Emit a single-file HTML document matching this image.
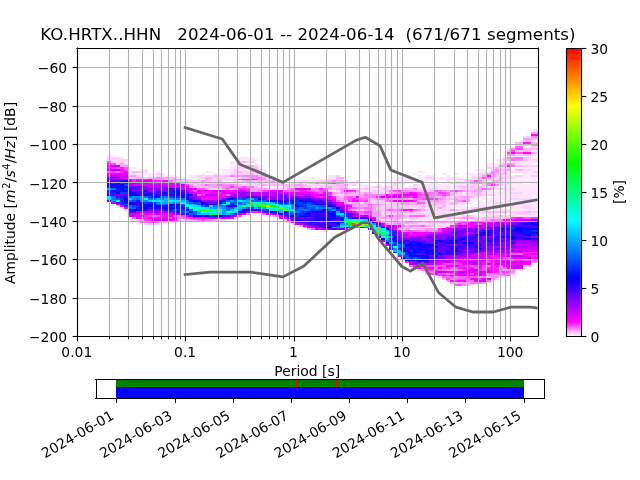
<!DOCTYPE html>
<html><head><meta charset="utf-8"><title>PPSD</title>
<style>html,body{margin:0;padding:0;background:#fff;overflow:hidden}svg{display:block}text{white-space:pre}</style>
</head><body>
<svg width="640" height="480" viewBox="0 0 460.8 345.6">
<defs>
<style type="text/css">*{stroke-linejoin: round; stroke-linecap: butt}</style>
</defs>
<g id="figure_1">
<g id="patch_1">
<path d="M 0 345.6 
L 460.8 345.6 
L 460.8 0 
L 0 0 
z
" style="fill: #ffffff"/>
</g>
<g id="axes_1">
<g id="patch_2">
<path d="M 55.296 241.92 
L 387.072 241.92 
L 387.072 34.56 
L 55.296 34.56 
z
" style="fill: #ffffff"/>
</g>
<g id="heat" shape-rendering="crispEdges">
<path fill="#7900ff" d="M77.31 143.77h2.94v1.38h-2.94zM80.25 128.56h2.94v1.38h-2.94zM86.12 139.62h2.94v1.38h-2.94zM89.05 128.56h2.94v1.38h-2.94zM106.67 135.48h2.94v1.38h-2.94zM109.60 150.68h2.94v1.38h-2.94zM112.54 136.86h2.94v1.38h-2.94zM133.09 138.24h2.94v1.38h-2.94zM168.31 141.00h2.94v1.38h-2.94zM174.18 138.24h2.94v1.38h-2.94zM188.86 141.00h2.94v1.38h-2.94zM206.48 156.21h2.94v1.38h-2.94zM218.22 160.36h2.94v1.38h-2.94zM229.96 163.12h2.94v1.38h-2.94zM229.96 158.98h2.94v1.38h-2.94zM288.67 171.42h2.94v1.38h-2.94zM300.41 171.42h2.94v2.76h-2.94zM306.28 174.18h2.94v1.38h-2.94zM306.28 170.04h2.94v1.38h-2.94zM312.15 170.04h2.94v1.38h-2.94zM315.09 183.86h2.94v1.38h-2.94zM315.09 170.04h2.94v1.38h-2.94zM318.02 185.24h2.94v1.38h-2.94zM323.90 175.56h2.94v1.38h-2.94zM326.83 168.65h2.94v1.38h-2.94zM329.77 165.89h2.94v2.76h-2.94zM332.70 165.89h2.94v1.38h-2.94zM335.64 181.09h2.94v1.38h-2.94zM344.44 165.89h2.94v1.38h-2.94zM347.38 175.56h2.94v1.38h-2.94zM347.38 170.04h2.94v1.38h-2.94zM359.12 175.56h2.94v1.38h-2.94zM359.12 167.27h2.94v1.38h-2.94zM364.99 175.56h2.94v1.38h-2.94zM364.99 172.80h2.94v1.38h-2.94zM367.93 172.80h2.94v1.38h-2.94zM382.61 172.80h4.47v1.38h-4.47z"/>
<path fill="#00dcff" d="M77.31 142.39h2.94v1.38h-2.94zM171.25 147.92h2.94v1.38h-2.94zM247.57 161.74h2.94v1.38h-2.94z"/>
<path fill="#00e8ff" d="M77.31 141.00h2.94v1.38h-2.94zM124.28 143.77h2.94v1.38h-2.94zM150.70 152.06h2.94v1.38h-2.94zM153.64 152.06h2.94v1.38h-2.94zM156.57 152.06h2.94v1.38h-2.94zM265.19 158.98h2.94v1.38h-2.94z"/>
<path fill="#0011ff" d="M77.31 139.62h2.94v1.38h-2.94zM86.12 135.48h2.94v2.76h-2.94zM89.05 145.15h2.94v1.38h-2.94zM89.05 136.86h2.94v1.38h-2.94zM91.99 150.68h2.94v1.38h-2.94zM100.80 149.30h2.94v1.38h-2.94zM100.80 145.15h2.94v1.38h-2.94zM121.35 146.53h2.94v1.38h-2.94zM124.28 141.00h2.94v1.38h-2.94zM127.22 149.30h2.94v1.38h-2.94zM133.09 142.39h2.94v1.38h-2.94zM133.09 139.62h2.94v1.38h-2.94zM144.83 146.53h2.94v1.38h-2.94zM218.22 153.45h2.94v1.38h-2.94zM221.15 157.59h2.94v1.38h-2.94zM227.02 157.59h2.94v1.38h-2.94zM229.96 152.06h2.94v1.38h-2.94zM244.64 156.21h2.94v1.38h-2.94zM273.99 163.12h2.94v1.38h-2.94zM276.93 164.51h2.94v1.38h-2.94zM285.73 174.18h2.94v1.38h-2.94zM294.54 182.48h2.94v1.38h-2.94zM297.48 183.86h2.94v1.38h-2.94zM297.48 174.18h2.94v2.76h-2.94zM364.99 164.51h2.94v1.38h-2.94z"/>
<path fill="#4f00ff" d="M77.31 138.24h2.94v1.38h-2.94zM80.25 129.95h2.94v1.38h-2.94zM83.18 141.00h2.94v1.38h-2.94zM86.12 146.53h2.94v1.38h-2.94zM89.05 131.33h2.94v1.38h-2.94zM100.80 138.24h2.94v2.76h-2.94zM130.15 136.86h2.94v1.38h-2.94zM147.76 145.15h2.94v1.38h-2.94zM180.06 150.68h2.94v1.38h-2.94zM180.06 141.00h2.94v1.38h-2.94zM185.93 150.68h2.94v1.38h-2.94zM212.35 156.21h2.94v1.38h-2.94zM212.35 142.39h2.94v1.38h-2.94zM224.09 156.21h2.94v1.38h-2.94zM227.02 160.36h2.94v1.38h-2.94zM232.89 161.74h2.94v1.38h-2.94zM232.89 158.98h2.94v1.38h-2.94zM235.83 160.36h2.94v1.38h-2.94zM238.77 160.36h2.94v1.38h-2.94zM238.77 157.59h2.94v1.38h-2.94zM241.70 156.21h2.94v1.38h-2.94zM271.06 160.36h2.94v1.38h-2.94zM282.80 167.27h2.94v1.38h-2.94zM303.35 182.48h2.94v1.38h-2.94zM303.35 179.71h2.94v1.38h-2.94zM303.35 174.18h2.94v1.38h-2.94zM312.15 178.33h2.94v1.38h-2.94zM312.15 175.56h2.94v1.38h-2.94zM315.09 185.24h2.94v1.38h-2.94zM320.96 172.80h2.94v1.38h-2.94zM326.83 182.48h2.94v1.38h-2.94zM329.77 178.33h2.94v1.38h-2.94zM329.77 174.18h2.94v1.38h-2.94zM332.70 178.33h2.94v1.38h-2.94zM341.51 179.71h2.94v1.38h-2.94zM344.44 176.95h2.94v1.38h-2.94zM344.44 170.04h2.94v1.38h-2.94zM347.38 165.89h2.94v1.38h-2.94zM353.25 165.89h2.94v1.38h-2.94zM356.19 164.51h2.94v1.38h-2.94zM359.12 168.65h2.94v1.38h-2.94zM362.06 165.89h2.94v1.38h-2.94zM362.06 163.12h2.94v1.38h-2.94zM370.86 168.65h5.87v1.38h-5.87zM376.73 161.74h5.87v1.38h-5.87z"/>
<path fill="#0023ff" d="M77.31 136.86h2.94v1.38h-2.94zM86.12 143.77h2.94v1.38h-2.94zM121.35 150.68h2.94v1.38h-2.94zM159.51 143.77h2.94v1.38h-2.94zM168.31 142.39h2.94v1.38h-2.94zM200.60 145.15h2.94v1.38h-2.94zM203.54 145.15h2.94v1.38h-2.94zM209.41 143.77h2.94v1.38h-2.94zM215.28 153.45h2.94v1.38h-2.94zM215.28 147.92h2.94v1.38h-2.94zM229.96 150.68h2.94v1.38h-2.94zM285.73 178.33h2.94v1.38h-2.94zM291.60 182.48h2.94v1.38h-2.94zM291.60 176.95h2.94v1.38h-2.94zM367.93 164.51h2.94v1.38h-2.94z"/>
<path fill="#00a9ff" d="M77.31 135.48h2.94v1.38h-2.94zM115.47 145.15h2.94v1.38h-2.94zM136.02 146.53h2.94v1.38h-2.94zM268.12 165.89h2.94v1.38h-2.94zM288.67 182.48h2.94v1.38h-2.94z"/>
<path fill="#2c00ff" d="M77.31 132.71h2.94v2.76h-2.94zM86.12 129.95h2.94v1.38h-2.94zM94.93 145.15h2.94v1.38h-2.94zM97.86 146.53h2.94v1.38h-2.94zM106.67 138.24h2.94v1.38h-2.94zM115.47 139.62h2.94v1.38h-2.94zM121.35 139.62h2.94v1.38h-2.94zM133.09 141.00h2.94v1.38h-2.94zM136.02 139.62h2.94v1.38h-2.94zM200.60 143.77h2.94v1.38h-2.94zM206.48 154.83h2.94v1.38h-2.94zM212.35 157.59h2.94v1.38h-2.94zM215.28 157.59h2.94v1.38h-2.94zM218.22 157.59h2.94v1.38h-2.94zM227.02 154.83h2.94v2.76h-2.94zM229.96 154.83h2.94v2.76h-2.94zM232.89 163.12h2.94v1.38h-2.94zM235.83 156.21h2.94v1.38h-2.94zM256.38 156.21h2.94v1.38h-2.94zM259.31 156.21h2.94v1.38h-2.94zM282.80 170.04h2.94v1.38h-2.94zM288.67 174.18h2.94v1.38h-2.94zM306.28 182.48h2.94v1.38h-2.94zM318.02 172.80h2.94v1.38h-2.94zM323.90 178.33h2.94v1.38h-2.94zM332.70 175.56h2.94v1.38h-2.94zM338.57 176.95h2.94v1.38h-2.94zM344.44 168.65h2.94v1.38h-2.94zM350.32 172.80h2.94v1.38h-2.94zM353.25 171.42h2.94v2.76h-2.94zM353.25 167.27h2.94v1.38h-2.94zM359.12 170.04h2.94v1.38h-2.94zM359.12 165.89h2.94v1.38h-2.94zM359.12 163.12h2.94v1.38h-2.94zM376.73 160.36h5.87v1.38h-5.87z"/>
<path fill="#0300ff" d="M77.31 131.33h2.94v1.38h-2.94zM86.12 132.71h2.94v1.38h-2.94zM89.05 143.77h2.94v1.38h-2.94zM94.93 150.68h2.94v1.38h-2.94zM103.73 149.30h2.94v1.38h-2.94zM197.67 152.06h2.94v1.38h-2.94zM227.02 152.06h2.94v1.38h-2.94zM232.89 157.59h2.94v1.38h-2.94zM235.83 163.12h2.94v1.38h-2.94zM235.83 153.45h2.94v1.38h-2.94zM235.83 147.92h2.94v1.38h-2.94zM238.77 154.83h2.94v1.38h-2.94zM265.19 157.59h2.94v1.38h-2.94zM268.12 158.98h2.94v1.38h-2.94zM294.54 186.62h2.94v1.38h-2.94zM294.54 174.18h2.94v1.38h-2.94zM300.41 175.56h2.94v1.38h-2.94zM303.35 183.86h2.94v1.38h-2.94zM335.64 174.18h2.94v1.38h-2.94zM367.93 170.04h2.94v1.38h-2.94zM382.61 160.36h4.47v1.38h-4.47z"/>
<path fill="#6000ff" d="M77.31 129.95h2.94v1.38h-2.94zM83.18 145.15h2.94v1.38h-2.94zM89.05 147.92h2.94v1.38h-2.94zM89.05 139.62h2.94v1.38h-2.94zM94.93 152.06h2.94v1.38h-2.94zM94.93 136.86h2.94v1.38h-2.94zM97.86 134.09h2.94v1.38h-2.94zM100.80 136.86h2.94v1.38h-2.94zM100.80 134.09h2.94v1.38h-2.94zM112.54 138.24h2.94v1.38h-2.94zM118.41 135.48h2.94v1.38h-2.94zM215.28 156.21h2.94v1.38h-2.94zM235.83 164.51h2.94v1.38h-2.94zM235.83 145.15h2.94v1.38h-2.94zM241.70 164.51h2.94v1.38h-2.94zM247.57 152.06h2.94v1.38h-2.94zM250.51 154.83h2.94v1.38h-2.94zM265.19 164.51h2.94v1.38h-2.94zM285.73 171.42h2.94v1.38h-2.94zM300.41 182.48h2.94v1.38h-2.94zM303.35 172.80h2.94v1.38h-2.94zM306.28 188.01h2.94v1.38h-2.94zM309.22 183.86h2.94v1.38h-2.94zM309.22 171.42h2.94v1.38h-2.94zM312.15 185.24h2.94v1.38h-2.94zM315.09 176.95h2.94v1.38h-2.94zM318.02 179.71h2.94v1.38h-2.94zM320.96 171.42h2.94v1.38h-2.94zM323.90 182.48h2.94v1.38h-2.94zM329.77 170.04h2.94v1.38h-2.94zM332.70 172.80h2.94v1.38h-2.94zM335.64 176.95h2.94v1.38h-2.94zM338.57 172.80h2.94v1.38h-2.94zM344.44 174.18h2.94v1.38h-2.94zM347.38 172.80h2.94v2.76h-2.94zM356.19 174.18h2.94v2.76h-2.94zM362.06 168.65h2.94v1.38h-2.94zM364.99 167.27h2.94v1.38h-2.94zM364.99 161.74h2.94v2.76h-2.94z"/>
<path fill="#6800ff" d="M77.31 128.56h2.94v1.38h-2.94zM83.18 128.56h2.94v1.38h-2.94zM94.93 135.48h2.94v1.38h-2.94zM109.60 138.24h2.94v1.38h-2.94zM124.28 152.06h2.94v1.38h-2.94zM168.31 153.45h2.94v1.38h-2.94zM188.86 142.39h2.94v1.38h-2.94zM200.60 141.00h2.94v1.38h-2.94zM209.41 156.21h2.94v2.76h-2.94zM215.28 158.98h2.94v1.38h-2.94zM218.22 158.98h2.94v1.38h-2.94zM218.22 156.21h2.94v1.38h-2.94zM227.02 161.74h2.94v1.38h-2.94zM227.02 143.77h2.94v1.38h-2.94zM238.77 146.53h2.94v1.38h-2.94zM244.64 164.51h2.94v1.38h-2.94zM294.54 172.80h2.94v1.38h-2.94zM315.09 179.71h2.94v1.38h-2.94zM318.02 181.09h2.94v1.38h-2.94zM318.02 176.95h2.94v1.38h-2.94zM320.96 178.33h2.94v1.38h-2.94zM320.96 175.56h2.94v1.38h-2.94zM320.96 170.04h2.94v1.38h-2.94zM326.83 170.04h2.94v1.38h-2.94zM332.70 181.09h2.94v1.38h-2.94zM335.64 165.89h2.94v1.38h-2.94zM338.57 178.33h2.94v1.38h-2.94zM338.57 168.65h2.94v1.38h-2.94zM341.51 171.42h2.94v1.38h-2.94zM341.51 165.89h2.94v1.38h-2.94zM344.44 179.71h2.94v1.38h-2.94zM344.44 171.42h2.94v1.38h-2.94zM347.38 176.95h2.94v2.76h-2.94zM350.32 174.18h2.94v1.38h-2.94zM356.19 168.65h2.94v1.38h-2.94zM359.12 178.33h2.94v1.38h-2.94zM359.12 171.42h2.94v1.38h-2.94zM364.99 171.42h2.94v1.38h-2.94zM367.93 163.12h2.94v1.38h-2.94z"/>
<path fill="#7000ff" d="M77.31 127.18h2.94v1.38h-2.94zM80.25 139.62h2.94v1.38h-2.94zM86.12 131.33h2.94v1.38h-2.94zM91.99 152.06h2.94v1.38h-2.94zM94.93 134.09h2.94v1.38h-2.94zM97.86 135.48h2.94v2.76h-2.94zM109.60 135.48h2.94v1.38h-2.94zM115.47 136.86h2.94v1.38h-2.94zM118.41 136.86h2.94v1.38h-2.94zM150.70 145.15h2.94v1.38h-2.94zM185.93 141.00h2.94v1.38h-2.94zM191.80 152.06h2.94v1.38h-2.94zM203.54 141.00h2.94v2.76h-2.94zM209.41 142.39h2.94v1.38h-2.94zM212.35 141.00h2.94v1.38h-2.94zM221.15 156.21h2.94v1.38h-2.94zM224.09 142.39h2.94v1.38h-2.94zM232.89 143.77h2.94v1.38h-2.94zM244.64 150.68h2.94v1.38h-2.94zM271.06 170.04h2.94v1.38h-2.94zM282.80 165.89h2.94v1.38h-2.94zM285.73 170.04h2.94v1.38h-2.94zM309.22 186.62h2.94v1.38h-2.94zM309.22 172.80h2.94v1.38h-2.94zM329.77 175.56h2.94v1.38h-2.94zM329.77 168.65h2.94v1.38h-2.94zM332.70 167.27h2.94v1.38h-2.94zM335.64 178.33h2.94v1.38h-2.94zM341.51 181.09h2.94v1.38h-2.94zM344.44 172.80h2.94v1.38h-2.94zM350.32 178.33h2.94v1.38h-2.94zM350.32 170.04h2.94v1.38h-2.94zM353.25 178.33h2.94v1.38h-2.94zM353.25 168.65h2.94v1.38h-2.94zM356.19 178.33h2.94v1.38h-2.94z"/>
<path fill="#cd00ff" d="M77.31 125.80h2.94v1.38h-2.94zM86.12 125.80h2.94v1.38h-2.94zM91.99 153.45h2.94v1.38h-2.94zM94.93 154.83h2.94v1.38h-2.94zM94.93 132.71h2.94v1.38h-2.94zM97.86 131.33h2.94v1.38h-2.94zM100.80 152.06h2.94v1.38h-2.94zM106.67 132.71h2.94v1.38h-2.94zM112.54 153.45h2.94v1.38h-2.94zM112.54 132.71h2.94v1.38h-2.94zM121.35 134.09h2.94v1.38h-2.94zM124.28 132.71h2.94v1.38h-2.94zM141.89 141.00h2.94v1.38h-2.94zM150.70 139.62h2.94v1.38h-2.94zM156.57 136.86h2.94v1.38h-2.94zM159.51 136.86h2.94v1.38h-2.94zM165.38 138.24h2.94v1.38h-2.94zM182.99 139.62h2.94v1.38h-2.94zM185.93 138.24h2.94v1.38h-2.94zM191.80 153.45h2.94v1.38h-2.94zM194.73 139.62h2.94v1.38h-2.94zM200.60 154.83h2.94v1.38h-2.94zM221.15 139.62h2.94v1.38h-2.94zM224.09 163.12h2.94v1.38h-2.94zM224.09 141.00h2.94v1.38h-2.94zM259.31 154.83h2.94v1.38h-2.94zM268.12 157.59h2.94v1.38h-2.94zM279.86 141.00h2.94v1.38h-2.94zM285.73 141.00h2.94v1.38h-2.94zM291.60 168.65h2.94v2.76h-2.94zM320.96 165.89h2.94v1.38h-2.94zM326.83 190.77h2.94v1.38h-2.94zM329.77 161.74h2.94v1.38h-2.94zM332.70 188.01h2.94v1.38h-2.94zM338.57 158.98h2.94v1.38h-2.94zM341.51 193.54h2.94v1.38h-2.94zM344.44 186.62h2.94v1.38h-2.94zM350.32 181.09h2.94v1.38h-2.94zM364.99 189.39h2.94v2.76h-2.94zM364.99 158.98h2.94v1.38h-2.94zM370.86 192.15h5.87v1.38h-5.87zM376.73 157.59h5.87v1.38h-5.87zM382.61 176.95h4.47v2.76h-4.47z"/>
<path fill="#ef00ff" d="M77.31 124.42h2.94v1.38h-2.94zM80.25 124.42h2.94v1.38h-2.94zM86.12 147.92h2.94v1.38h-2.94zM89.05 127.18h2.94v1.38h-2.94zM89.05 123.03h2.94v1.38h-2.94zM97.86 129.95h2.94v1.38h-2.94zM106.67 128.56h2.94v2.76h-2.94zM109.60 153.45h2.94v1.38h-2.94zM115.47 153.45h2.94v1.38h-2.94zM118.41 156.21h2.94v2.76h-2.94zM118.41 153.45h2.94v1.38h-2.94zM121.35 154.83h2.94v1.38h-2.94zM138.96 156.21h2.94v1.38h-2.94zM144.83 141.00h2.94v1.38h-2.94zM147.76 156.21h2.94v1.38h-2.94zM147.76 141.00h2.94v1.38h-2.94zM153.64 142.39h2.94v1.38h-2.94zM156.57 141.00h2.94v1.38h-2.94zM168.31 138.24h2.94v1.38h-2.94zM200.60 156.21h2.94v1.38h-2.94zM215.28 139.62h2.94v1.38h-2.94zM215.28 135.48h2.94v1.38h-2.94zM221.15 138.24h2.94v1.38h-2.94zM232.89 141.00h2.94v1.38h-2.94zM244.64 145.15h2.94v1.38h-2.94zM282.80 164.51h2.94v1.38h-2.94zM285.73 165.89h2.94v1.38h-2.94zM288.67 167.27h2.94v1.38h-2.94zM288.67 139.62h2.94v1.38h-2.94zM294.54 143.77h2.94v1.38h-2.94zM300.41 190.77h2.94v1.38h-2.94zM300.41 168.65h2.94v1.38h-2.94zM309.22 167.27h2.94v1.38h-2.94zM315.09 192.15h2.94v1.38h-2.94zM315.09 189.39h2.94v1.38h-2.94zM318.02 164.51h2.94v1.38h-2.94zM323.90 197.68h2.94v1.38h-2.94zM323.90 190.77h2.94v1.38h-2.94zM323.90 188.01h2.94v1.38h-2.94zM329.77 196.30h2.94v1.38h-2.94zM338.57 163.12h2.94v1.38h-2.94zM341.51 197.68h2.94v1.38h-2.94zM350.32 183.86h2.94v1.38h-2.94zM356.19 186.62h2.94v1.38h-2.94zM359.12 182.48h2.94v2.76h-2.94zM362.06 157.59h2.94v1.38h-2.94zM367.93 192.15h2.94v1.38h-2.94zM367.93 188.01h2.94v1.38h-2.94zM367.93 109.21h2.94v1.38h-2.94zM376.73 188.01h5.87v1.38h-5.87zM382.61 182.48h4.47v1.38h-4.47z"/>
<path fill="#ff51ff" d="M77.31 123.03h2.94v1.38h-2.94zM77.31 116.12h2.94v1.38h-2.94zM80.25 117.50h2.94v1.38h-2.94zM89.05 120.27h2.94v1.38h-2.94zM94.93 156.21h2.94v1.38h-2.94zM100.80 158.98h2.94v1.38h-2.94zM112.54 154.83h2.94v1.38h-2.94zM138.96 136.86h2.94v1.38h-2.94zM141.89 135.48h2.94v1.38h-2.94zM144.83 157.59h2.94v1.38h-2.94zM144.83 135.48h2.94v1.38h-2.94zM162.44 139.62h2.94v1.38h-2.94zM171.25 154.83h2.94v1.38h-2.94zM171.25 128.56h2.94v1.38h-2.94zM174.18 134.09h2.94v1.38h-2.94zM203.54 136.86h2.94v1.38h-2.94zM206.48 136.86h2.94v1.38h-2.94zM212.35 136.86h2.94v1.38h-2.94zM221.15 136.86h2.94v1.38h-2.94zM224.09 164.51h2.94v1.38h-2.94zM224.09 136.86h2.94v1.38h-2.94zM229.96 136.86h2.94v2.76h-2.94zM232.89 135.48h2.94v1.38h-2.94zM235.83 131.33h2.94v1.38h-2.94zM241.70 143.77h2.94v1.38h-2.94zM250.51 146.53h2.94v1.38h-2.94zM250.51 141.00h2.94v2.76h-2.94zM253.44 149.30h2.94v1.38h-2.94zM259.31 143.77h2.94v1.38h-2.94zM262.25 153.45h2.94v1.38h-2.94zM265.19 153.45h2.94v1.38h-2.94zM265.19 146.53h2.94v1.38h-2.94zM279.86 150.68h2.94v1.38h-2.94zM279.86 143.77h2.94v1.38h-2.94zM282.80 136.86h2.94v1.38h-2.94zM291.60 138.24h2.94v1.38h-2.94zM294.54 165.89h2.94v1.38h-2.94zM297.48 150.68h2.94v1.38h-2.94zM300.41 145.15h2.94v1.38h-2.94zM300.41 141.00h2.94v1.38h-2.94zM300.41 138.24h2.94v1.38h-2.94zM303.35 192.15h2.94v1.38h-2.94zM303.35 142.39h2.94v1.38h-2.94zM303.35 139.62h2.94v1.38h-2.94zM309.22 190.77h2.94v1.38h-2.94zM312.15 190.77h2.94v2.76h-2.94zM312.15 136.86h2.94v1.38h-2.94zM315.09 193.54h2.94v1.38h-2.94zM315.09 190.77h2.94v1.38h-2.94zM318.02 196.30h2.94v1.38h-2.94zM318.02 190.77h2.94v1.38h-2.94zM318.02 139.62h2.94v1.38h-2.94zM320.96 189.39h2.94v1.38h-2.94zM323.90 199.07h2.94v1.38h-2.94zM323.90 196.30h2.94v1.38h-2.94zM323.90 192.15h2.94v1.38h-2.94zM323.90 163.12h2.94v1.38h-2.94zM326.83 204.60h2.94v1.38h-2.94zM326.83 192.15h2.94v1.38h-2.94zM326.83 160.36h2.94v1.38h-2.94zM329.77 204.60h2.94v1.38h-2.94zM329.77 200.45h2.94v1.38h-2.94zM329.77 158.98h2.94v1.38h-2.94zM332.70 200.45h2.94v1.38h-2.94zM332.70 143.77h2.94v1.38h-2.94zM335.64 200.45h2.94v1.38h-2.94zM338.57 199.07h2.94v1.38h-2.94zM341.51 192.15h2.94v1.38h-2.94zM341.51 129.95h2.94v1.38h-2.94zM347.38 193.54h2.94v1.38h-2.94zM347.38 190.77h2.94v1.38h-2.94zM347.38 127.18h2.94v1.38h-2.94zM359.12 194.92h2.94v1.38h-2.94zM359.12 190.77h2.94v1.38h-2.94zM362.06 196.30h2.94v1.38h-2.94zM362.06 192.15h2.94v1.38h-2.94zM364.99 197.68h2.94v1.38h-2.94zM364.99 185.24h2.94v1.38h-2.94zM367.93 186.62h2.94v1.38h-2.94zM367.93 182.48h2.94v1.38h-2.94zM367.93 107.83h2.94v1.38h-2.94zM370.86 109.21h5.87v1.38h-5.87zM370.86 106.44h5.87v1.38h-5.87zM376.73 186.62h5.87v1.38h-5.87zM376.73 156.21h5.87v1.38h-5.87zM382.61 186.62h4.47v1.38h-4.47z"/>
<path fill="#a400ff" d="M77.31 121.65h2.94v1.38h-2.94zM80.25 125.80h2.94v2.76h-2.94zM91.99 132.71h2.94v1.38h-2.94zM103.73 134.09h2.94v1.38h-2.94zM118.41 152.06h2.94v1.38h-2.94zM118.41 134.09h2.94v1.38h-2.94zM127.22 132.71h2.94v1.38h-2.94zM138.96 141.00h2.94v1.38h-2.94zM153.64 143.77h2.94v1.38h-2.94zM171.25 153.45h2.94v1.38h-2.94zM171.25 138.24h2.94v1.38h-2.94zM206.48 141.00h2.94v1.38h-2.94zM218.22 141.00h2.94v1.38h-2.94zM221.15 141.00h2.94v1.38h-2.94zM241.70 147.92h2.94v1.38h-2.94zM244.64 147.92h2.94v1.38h-2.94zM247.57 147.92h2.94v1.38h-2.94zM285.73 168.65h2.94v1.38h-2.94zM303.35 189.39h2.94v1.38h-2.94zM309.22 168.65h2.94v1.38h-2.94zM315.09 186.62h2.94v1.38h-2.94zM320.96 183.86h2.94v2.76h-2.94zM323.90 165.89h2.94v1.38h-2.94zM329.77 183.86h2.94v1.38h-2.94zM335.64 179.71h2.94v1.38h-2.94zM370.86 172.80h5.87v1.38h-5.87zM382.61 157.59h4.47v1.38h-4.47z"/>
<path fill="#ff06ff" d="M77.31 120.27h2.94v1.38h-2.94zM100.80 156.21h2.94v1.38h-2.94zM106.67 153.45h2.94v1.38h-2.94zM109.60 129.95h2.94v1.38h-2.94zM112.54 131.33h2.94v1.38h-2.94zM115.47 156.21h2.94v1.38h-2.94zM115.47 129.95h2.94v1.38h-2.94zM118.41 154.83h2.94v1.38h-2.94zM124.28 156.21h2.94v1.38h-2.94zM127.22 131.33h2.94v1.38h-2.94zM136.02 136.86h2.94v1.38h-2.94zM141.89 156.21h2.94v1.38h-2.94zM144.83 136.86h2.94v1.38h-2.94zM147.76 142.39h2.94v1.38h-2.94zM150.70 142.39h2.94v1.38h-2.94zM150.70 136.86h2.94v1.38h-2.94zM153.64 138.24h2.94v1.38h-2.94zM165.38 156.21h2.94v1.38h-2.94zM165.38 136.86h2.94v1.38h-2.94zM177.12 136.86h2.94v1.38h-2.94zM185.93 152.06h2.94v1.38h-2.94zM209.41 158.98h2.94v1.38h-2.94zM221.15 135.48h2.94v1.38h-2.94zM224.09 138.24h2.94v1.38h-2.94zM227.02 141.00h2.94v1.38h-2.94zM232.89 138.24h2.94v1.38h-2.94zM238.77 142.39h2.94v1.38h-2.94zM276.93 139.62h2.94v1.38h-2.94zM285.73 139.62h2.94v1.38h-2.94zM288.67 150.68h2.94v1.38h-2.94zM294.54 168.65h2.94v1.38h-2.94zM294.54 150.68h2.94v1.38h-2.94zM294.54 138.24h2.94v1.38h-2.94zM297.48 192.15h2.94v1.38h-2.94zM297.48 168.65h2.94v1.38h-2.94zM297.48 139.62h2.94v2.76h-2.94zM300.41 192.15h2.94v1.38h-2.94zM306.28 192.15h2.94v1.38h-2.94zM306.28 167.27h2.94v1.38h-2.94zM312.15 196.30h2.94v1.38h-2.94zM320.96 194.92h2.94v1.38h-2.94zM323.90 201.83h2.94v1.38h-2.94zM326.83 194.92h2.94v4.15h-2.94zM326.83 161.74h2.94v2.76h-2.94zM329.77 201.83h2.94v1.38h-2.94zM332.70 192.15h2.94v1.38h-2.94zM332.70 186.62h2.94v1.38h-2.94zM335.64 196.30h2.94v1.38h-2.94zM335.64 186.62h2.94v1.38h-2.94zM335.64 160.36h2.94v1.38h-2.94zM338.57 192.15h2.94v1.38h-2.94zM338.57 160.36h2.94v1.38h-2.94zM341.51 194.92h2.94v1.38h-2.94zM344.44 190.77h2.94v2.76h-2.94zM347.38 188.01h2.94v1.38h-2.94zM350.32 193.54h2.94v1.38h-2.94zM350.32 158.98h2.94v1.38h-2.94zM350.32 125.80h2.94v1.38h-2.94zM353.25 190.77h2.94v5.53h-2.94zM353.25 158.98h2.94v1.38h-2.94zM356.19 190.77h2.94v1.38h-2.94zM356.19 188.01h2.94v1.38h-2.94zM356.19 183.86h2.94v1.38h-2.94zM359.12 185.24h2.94v1.38h-2.94zM362.06 186.62h2.94v1.38h-2.94zM364.99 192.15h2.94v1.38h-2.94zM364.99 186.62h2.94v1.38h-2.94zM364.99 157.59h2.94v1.38h-2.94zM367.93 185.24h2.94v1.38h-2.94zM376.73 182.48h5.87v2.76h-5.87zM376.73 109.21h5.87v1.38h-5.87zM382.61 185.24h4.47v1.38h-4.47zM382.61 96.77h4.47v1.38h-4.47z"/>
<path fill="#e600ff" d="M77.31 118.89h2.94v1.38h-2.94zM83.18 124.42h2.94v1.38h-2.94zM86.12 127.18h2.94v1.38h-2.94zM89.05 149.30h2.94v1.38h-2.94zM89.05 124.42h2.94v1.38h-2.94zM97.86 156.21h2.94v1.38h-2.94zM97.86 153.45h2.94v1.38h-2.94zM100.80 129.95h2.94v1.38h-2.94zM103.73 153.45h2.94v1.38h-2.94zM103.73 132.71h2.94v1.38h-2.94zM106.67 131.33h2.94v1.38h-2.94zM121.35 157.59h2.94v1.38h-2.94zM121.35 132.71h2.94v1.38h-2.94zM124.28 134.09h2.94v1.38h-2.94zM133.09 134.09h2.94v1.38h-2.94zM136.02 135.48h2.94v1.38h-2.94zM138.96 138.24h2.94v1.38h-2.94zM141.89 136.86h2.94v1.38h-2.94zM156.57 156.21h2.94v1.38h-2.94zM165.38 139.62h2.94v1.38h-2.94zM174.18 153.45h2.94v1.38h-2.94zM200.60 136.86h2.94v1.38h-2.94zM203.54 156.21h2.94v1.38h-2.94zM206.48 138.24h2.94v1.38h-2.94zM212.35 135.48h2.94v1.38h-2.94zM215.28 138.24h2.94v1.38h-2.94zM218.22 138.24h2.94v1.38h-2.94zM221.15 163.12h2.94v1.38h-2.94zM227.02 139.62h2.94v1.38h-2.94zM235.83 142.39h2.94v1.38h-2.94zM244.64 146.53h2.94v1.38h-2.94zM253.44 152.06h2.94v1.38h-2.94zM256.38 153.45h2.94v1.38h-2.94zM256.38 143.77h2.94v1.38h-2.94zM273.99 160.36h2.94v1.38h-2.94zM285.73 143.77h2.94v1.38h-2.94zM288.67 143.77h2.94v1.38h-2.94zM291.60 143.77h2.94v1.38h-2.94zM297.48 167.27h2.94v1.38h-2.94zM303.35 190.77h2.94v1.38h-2.94zM309.22 192.15h2.94v1.38h-2.94zM312.15 194.92h2.94v1.38h-2.94zM315.09 167.27h2.94v1.38h-2.94zM318.02 197.68h2.94v1.38h-2.94zM318.02 165.89h2.94v1.38h-2.94zM329.77 186.62h2.94v1.38h-2.94zM329.77 163.12h2.94v1.38h-2.94zM335.64 197.68h2.94v1.38h-2.94zM335.64 161.74h2.94v2.76h-2.94zM338.57 194.92h2.94v1.38h-2.94zM341.51 200.45h2.94v1.38h-2.94zM344.44 197.68h2.94v1.38h-2.94zM344.44 188.01h2.94v1.38h-2.94zM347.38 200.45h2.94v1.38h-2.94zM347.38 194.92h2.94v1.38h-2.94zM347.38 182.48h2.94v2.76h-2.94zM350.32 200.45h2.94v1.38h-2.94zM350.32 185.24h2.94v1.38h-2.94zM359.12 188.01h2.94v2.76h-2.94zM359.12 158.98h2.94v1.38h-2.94zM362.06 158.98h2.94v1.38h-2.94zM364.99 182.48h2.94v1.38h-2.94zM367.93 190.77h2.94v1.38h-2.94zM367.93 181.09h2.94v1.38h-2.94zM370.86 188.01h5.87v1.38h-5.87zM370.86 185.24h5.87v1.38h-5.87z"/>
<path fill="#ff1fff" d="M77.31 117.50h2.94v1.38h-2.94zM80.25 120.27h2.94v1.38h-2.94zM86.12 123.03h2.94v1.38h-2.94zM86.12 120.27h2.94v1.38h-2.94zM94.93 129.95h2.94v1.38h-2.94zM97.86 128.56h2.94v1.38h-2.94zM100.80 153.45h2.94v1.38h-2.94zM100.80 128.56h2.94v1.38h-2.94zM103.73 154.83h2.94v2.76h-2.94zM103.73 128.56h2.94v1.38h-2.94zM112.54 129.95h2.94v1.38h-2.94zM115.47 154.83h2.94v1.38h-2.94zM121.35 156.21h2.94v1.38h-2.94zM124.28 157.59h2.94v1.38h-2.94zM136.02 156.21h2.94v1.38h-2.94zM144.83 138.24h2.94v2.76h-2.94zM147.76 138.24h2.94v1.38h-2.94zM156.57 138.24h2.94v1.38h-2.94zM159.51 139.62h2.94v1.38h-2.94zM171.25 135.48h2.94v1.38h-2.94zM174.18 135.48h2.94v1.38h-2.94zM174.18 128.56h2.94v1.38h-2.94zM177.12 128.56h2.94v1.38h-2.94zM180.06 152.06h2.94v1.38h-2.94zM180.06 128.56h2.94v1.38h-2.94zM182.99 152.06h2.94v1.38h-2.94zM182.99 128.56h2.94v1.38h-2.94zM191.80 136.86h2.94v1.38h-2.94zM206.48 157.59h2.94v1.38h-2.94zM215.28 136.86h2.94v1.38h-2.94zM218.22 136.86h2.94v1.38h-2.94zM227.02 138.24h2.94v1.38h-2.94zM229.96 141.00h2.94v1.38h-2.94zM229.96 135.48h2.94v1.38h-2.94zM235.83 138.24h2.94v1.38h-2.94zM238.77 141.00h2.94v1.38h-2.94zM247.57 136.86h2.94v1.38h-2.94zM250.51 136.86h2.94v1.38h-2.94zM253.44 142.39h2.94v1.38h-2.94zM265.19 154.83h2.94v1.38h-2.94zM265.19 152.06h2.94v1.38h-2.94zM271.06 141.00h2.94v1.38h-2.94zM288.67 141.00h2.94v1.38h-2.94zM291.60 188.01h2.94v1.38h-2.94zM291.60 150.68h2.94v1.38h-2.94zM291.60 141.00h2.94v1.38h-2.94zM294.54 167.27h2.94v1.38h-2.94zM297.48 190.77h2.94v1.38h-2.94zM297.48 143.77h2.94v1.38h-2.94zM297.48 138.24h2.94v1.38h-2.94zM320.96 197.68h2.94v1.38h-2.94zM320.96 192.15h2.94v1.38h-2.94zM323.90 161.74h2.94v1.38h-2.94zM326.83 201.83h2.94v1.38h-2.94zM326.83 188.01h2.94v1.38h-2.94zM329.77 190.77h2.94v2.76h-2.94zM329.77 160.36h2.94v1.38h-2.94zM335.64 192.15h2.94v1.38h-2.94zM341.51 160.36h2.94v1.38h-2.94zM344.44 200.45h2.94v1.38h-2.94zM344.44 193.54h2.94v1.38h-2.94zM347.38 158.98h2.94v1.38h-2.94zM350.32 192.15h2.94v1.38h-2.94zM350.32 186.62h2.94v1.38h-2.94zM353.25 189.39h2.94v1.38h-2.94zM353.25 186.62h2.94v1.38h-2.94zM353.25 183.86h2.94v1.38h-2.94zM353.25 132.71h2.94v1.38h-2.94zM356.19 193.54h2.94v2.76h-2.94zM356.19 185.24h2.94v1.38h-2.94zM362.06 194.92h2.94v1.38h-2.94zM364.99 118.89h2.94v1.38h-2.94zM370.86 156.21h5.87v1.38h-5.87zM376.73 181.09h5.87v1.38h-5.87zM376.73 102.30h5.87v1.38h-5.87zM382.61 183.86h4.47v1.38h-4.47zM382.61 181.09h4.47v1.38h-4.47z"/>
<path fill="#ffcdff" d="M77.31 113.36h2.94v2.76h-2.94zM80.25 113.36h2.94v4.15h-2.94zM83.18 113.36h2.94v5.53h-2.94zM86.12 114.74h2.94v2.76h-2.94zM89.05 117.50h2.94v1.38h-2.94zM89.05 114.74h2.94v1.38h-2.94zM91.99 127.18h2.94v1.38h-2.94zM91.99 123.03h2.94v1.38h-2.94zM94.93 127.18h2.94v1.38h-2.94zM94.93 124.42h2.94v1.38h-2.94zM97.86 157.59h2.94v1.38h-2.94zM97.86 125.80h2.94v1.38h-2.94zM100.80 123.03h2.94v1.38h-2.94zM103.73 160.36h2.94v1.38h-2.94zM103.73 127.18h2.94v1.38h-2.94zM103.73 123.03h2.94v1.38h-2.94zM109.60 160.36h2.94v1.38h-2.94zM112.54 160.36h2.94v1.38h-2.94zM112.54 124.42h2.94v1.38h-2.94zM115.47 124.42h2.94v1.38h-2.94zM118.41 158.98h2.94v1.38h-2.94zM118.41 128.56h2.94v1.38h-2.94zM121.35 158.98h2.94v1.38h-2.94zM127.22 129.95h2.94v1.38h-2.94zM130.15 157.59h2.94v1.38h-2.94zM130.15 129.95h2.94v1.38h-2.94zM133.09 157.59h2.94v1.38h-2.94zM133.09 131.33h2.94v1.38h-2.94zM133.09 128.56h2.94v1.38h-2.94zM136.02 129.95h2.94v2.76h-2.94zM138.96 132.71h2.94v1.38h-2.94zM138.96 129.95h2.94v1.38h-2.94zM141.89 128.56h2.94v4.15h-2.94zM141.89 125.80h2.94v1.38h-2.94zM144.83 125.80h2.94v2.76h-2.94zM147.76 131.33h2.94v1.38h-2.94zM147.76 125.80h2.94v1.38h-2.94zM150.70 135.48h2.94v1.38h-2.94zM150.70 129.95h2.94v2.76h-2.94zM150.70 125.80h2.94v1.38h-2.94zM153.64 135.48h2.94v1.38h-2.94zM153.64 127.18h2.94v4.15h-2.94zM156.57 157.59h2.94v1.38h-2.94zM156.57 135.48h2.94v1.38h-2.94zM156.57 125.80h2.94v4.15h-2.94zM159.51 157.59h2.94v1.38h-2.94zM159.51 125.80h2.94v4.15h-2.94zM162.44 131.33h2.94v1.38h-2.94zM165.38 128.56h2.94v1.38h-2.94zM165.38 124.42h2.94v1.38h-2.94zM168.31 156.21h2.94v1.38h-2.94zM168.31 129.95h2.94v1.38h-2.94zM168.31 121.65h2.94v4.15h-2.94zM171.25 129.95h2.94v1.38h-2.94zM171.25 124.42h2.94v1.38h-2.94zM171.25 118.89h2.94v2.76h-2.94zM171.25 116.12h2.94v1.38h-2.94zM174.18 132.71h2.94v1.38h-2.94zM174.18 127.18h2.94v1.38h-2.94zM174.18 123.03h2.94v2.76h-2.94zM174.18 120.27h2.94v1.38h-2.94zM177.12 131.33h2.94v2.76h-2.94zM177.12 123.03h2.94v2.76h-2.94zM177.12 120.27h2.94v1.38h-2.94zM177.12 116.12h2.94v1.38h-2.94zM180.06 131.33h2.94v2.76h-2.94zM180.06 120.27h2.94v2.76h-2.94zM180.06 116.12h2.94v1.38h-2.94zM182.99 129.95h2.94v4.15h-2.94zM182.99 124.42h2.94v1.38h-2.94zM182.99 121.65h2.94v1.38h-2.94zM182.99 118.89h2.94v1.38h-2.94zM185.93 132.71h2.94v1.38h-2.94zM185.93 121.65h2.94v2.76h-2.94zM188.86 129.95h2.94v2.76h-2.94zM191.80 128.56h2.94v4.15h-2.94zM194.73 135.48h2.94v1.38h-2.94zM194.73 131.33h2.94v1.38h-2.94zM197.67 135.48h2.94v1.38h-2.94zM197.67 131.33h2.94v1.38h-2.94zM200.60 135.48h2.94v1.38h-2.94zM200.60 131.33h2.94v1.38h-2.94zM203.54 134.09h2.94v2.76h-2.94zM206.48 158.98h2.94v1.38h-2.94zM206.48 132.71h2.94v2.76h-2.94zM209.41 134.09h2.94v1.38h-2.94zM209.41 131.33h2.94v1.38h-2.94zM212.35 131.33h2.94v1.38h-2.94zM218.22 129.95h2.94v5.53h-2.94zM221.15 134.09h2.94v1.38h-2.94zM227.02 132.71h2.94v2.76h-2.94zM227.02 129.95h2.94v1.38h-2.94zM229.96 134.09h2.94v1.38h-2.94zM229.96 129.95h2.94v1.38h-2.94zM232.89 165.89h2.94v1.38h-2.94zM232.89 132.71h2.94v2.76h-2.94zM232.89 129.95h2.94v1.38h-2.94zM235.83 136.86h2.94v1.38h-2.94zM235.83 132.71h2.94v1.38h-2.94zM238.77 132.71h2.94v4.15h-2.94zM238.77 128.56h2.94v1.38h-2.94zM241.70 139.62h2.94v1.38h-2.94zM241.70 136.86h2.94v1.38h-2.94zM241.70 134.09h2.94v1.38h-2.94zM241.70 125.80h2.94v1.38h-2.94zM244.64 139.62h2.94v2.76h-2.94zM244.64 128.56h2.94v1.38h-2.94zM247.57 134.09h2.94v1.38h-2.94zM247.57 129.95h2.94v2.76h-2.94zM250.51 145.15h2.94v1.38h-2.94zM253.44 135.48h2.94v1.38h-2.94zM253.44 132.71h2.94v1.38h-2.94zM256.38 150.68h2.94v1.38h-2.94zM256.38 138.24h2.94v1.38h-2.94zM256.38 135.48h2.94v1.38h-2.94zM259.31 145.15h2.94v1.38h-2.94zM259.31 135.48h2.94v1.38h-2.94zM268.12 143.77h2.94v2.76h-2.94zM268.12 136.86h2.94v2.76h-2.94zM268.12 134.09h2.94v1.38h-2.94zM271.06 149.30h2.94v1.38h-2.94zM271.06 143.77h2.94v2.76h-2.94zM271.06 136.86h2.94v2.76h-2.94zM271.06 134.09h2.94v1.38h-2.94zM273.99 147.92h2.94v8.29h-2.94zM273.99 143.77h2.94v2.76h-2.94zM273.99 138.24h2.94v1.38h-2.94zM273.99 135.48h2.94v1.38h-2.94zM276.93 157.59h2.94v2.76h-2.94zM276.93 152.06h2.94v2.76h-2.94zM276.93 145.15h2.94v4.15h-2.94zM276.93 138.24h2.94v1.38h-2.94zM276.93 134.09h2.94v2.76h-2.94zM279.86 157.59h2.94v1.38h-2.94zM279.86 152.06h2.94v2.76h-2.94zM279.86 145.15h2.94v4.15h-2.94zM279.86 134.09h2.94v1.38h-2.94zM282.80 153.45h2.94v1.38h-2.94zM282.80 145.15h2.94v5.53h-2.94zM282.80 131.33h2.94v2.76h-2.94zM285.73 146.53h2.94v2.76h-2.94zM285.73 135.48h2.94v1.38h-2.94zM285.73 131.33h2.94v1.38h-2.94zM288.67 163.12h2.94v1.38h-2.94zM288.67 153.45h2.94v1.38h-2.94zM288.67 147.92h2.94v2.76h-2.94zM288.67 135.48h2.94v1.38h-2.94zM288.67 131.33h2.94v1.38h-2.94zM291.60 160.36h2.94v1.38h-2.94zM291.60 156.21h2.94v1.38h-2.94zM291.60 153.45h2.94v1.38h-2.94zM291.60 147.92h2.94v2.76h-2.94zM294.54 164.51h2.94v1.38h-2.94zM294.54 156.21h2.94v1.38h-2.94zM294.54 153.45h2.94v1.38h-2.94zM294.54 147.92h2.94v1.38h-2.94zM297.48 163.12h2.94v1.38h-2.94zM297.48 160.36h2.94v1.38h-2.94zM297.48 156.21h2.94v1.38h-2.94zM297.48 152.06h2.94v2.76h-2.94zM297.48 147.92h2.94v1.38h-2.94zM297.48 132.71h2.94v1.38h-2.94zM300.41 193.54h2.94v1.38h-2.94zM300.41 152.06h2.94v2.76h-2.94zM300.41 147.92h2.94v2.76h-2.94zM300.41 135.48h2.94v1.38h-2.94zM300.41 129.95h2.94v1.38h-2.94zM303.35 163.12h2.94v1.38h-2.94zM303.35 158.98h2.94v2.76h-2.94zM303.35 153.45h2.94v1.38h-2.94zM303.35 149.30h2.94v1.38h-2.94zM303.35 135.48h2.94v1.38h-2.94zM306.28 163.12h2.94v1.38h-2.94zM306.28 153.45h2.94v2.76h-2.94zM306.28 150.68h2.94v1.38h-2.94zM306.28 143.77h2.94v5.53h-2.94zM306.28 136.86h2.94v1.38h-2.94zM306.28 127.18h2.94v1.38h-2.94zM309.22 160.36h2.94v1.38h-2.94zM309.22 153.45h2.94v1.38h-2.94zM309.22 145.15h2.94v4.15h-2.94zM309.22 135.48h2.94v1.38h-2.94zM309.22 127.18h2.94v1.38h-2.94zM312.15 160.36h2.94v1.38h-2.94zM312.15 153.45h2.94v1.38h-2.94zM312.15 147.92h2.94v4.15h-2.94zM312.15 134.09h2.94v2.76h-2.94zM315.09 199.07h2.94v1.38h-2.94zM315.09 161.74h2.94v1.38h-2.94zM315.09 147.92h2.94v1.38h-2.94zM318.02 160.36h2.94v1.38h-2.94zM318.02 153.45h2.94v1.38h-2.94zM318.02 149.30h2.94v2.76h-2.94zM318.02 146.53h2.94v1.38h-2.94zM320.96 161.74h2.94v1.38h-2.94zM320.96 156.21h2.94v1.38h-2.94zM320.96 150.68h2.94v1.38h-2.94zM320.96 143.77h2.94v4.15h-2.94zM320.96 141.00h2.94v1.38h-2.94zM320.96 134.09h2.94v1.38h-2.94zM323.90 160.36h2.94v1.38h-2.94zM323.90 156.21h2.94v1.38h-2.94zM323.90 141.00h2.94v1.38h-2.94zM323.90 131.33h2.94v1.38h-2.94zM323.90 128.56h2.94v1.38h-2.94zM326.83 153.45h2.94v1.38h-2.94zM326.83 139.62h2.94v1.38h-2.94zM326.83 134.09h2.94v1.38h-2.94zM326.83 131.33h2.94v1.38h-2.94zM326.83 128.56h2.94v1.38h-2.94zM329.77 150.68h2.94v1.38h-2.94zM329.77 145.15h2.94v1.38h-2.94zM329.77 138.24h2.94v2.76h-2.94zM329.77 131.33h2.94v1.38h-2.94zM329.77 128.56h2.94v1.38h-2.94zM332.70 154.83h2.94v1.38h-2.94zM332.70 150.68h2.94v1.38h-2.94zM332.70 135.48h2.94v1.38h-2.94zM332.70 131.33h2.94v1.38h-2.94zM332.70 128.56h2.94v1.38h-2.94zM335.64 150.68h2.94v1.38h-2.94zM335.64 138.24h2.94v2.76h-2.94zM335.64 129.95h2.94v6.91h-2.94zM338.57 204.60h2.94v1.38h-2.94zM338.57 154.83h2.94v1.38h-2.94zM338.57 149.30h2.94v1.38h-2.94zM338.57 138.24h2.94v2.76h-2.94zM338.57 135.48h2.94v1.38h-2.94zM338.57 132.71h2.94v1.38h-2.94zM338.57 128.56h2.94v1.38h-2.94zM341.51 156.21h2.94v1.38h-2.94zM341.51 149.30h2.94v1.38h-2.94zM341.51 141.00h2.94v1.38h-2.94zM341.51 132.71h2.94v2.76h-2.94zM341.51 127.18h2.94v2.76h-2.94zM344.44 156.21h2.94v2.76h-2.94zM344.44 149.30h2.94v1.38h-2.94zM344.44 124.42h2.94v2.76h-2.94zM347.38 152.06h2.94v1.38h-2.94zM347.38 149.30h2.94v1.38h-2.94zM347.38 136.86h2.94v4.15h-2.94zM347.38 134.09h2.94v1.38h-2.94zM347.38 129.95h2.94v1.38h-2.94zM347.38 124.42h2.94v1.38h-2.94zM350.32 154.83h2.94v1.38h-2.94zM350.32 139.62h2.94v1.38h-2.94zM350.32 134.09h2.94v1.38h-2.94zM350.32 128.56h2.94v1.38h-2.94zM350.32 120.27h2.94v1.38h-2.94zM353.25 154.83h2.94v1.38h-2.94zM353.25 139.62h2.94v1.38h-2.94zM353.25 134.09h2.94v2.76h-2.94zM353.25 127.18h2.94v2.76h-2.94zM353.25 120.27h2.94v2.76h-2.94zM356.19 200.45h2.94v1.38h-2.94zM356.19 154.83h2.94v1.38h-2.94zM356.19 145.15h2.94v1.38h-2.94zM356.19 135.48h2.94v1.38h-2.94zM356.19 131.33h2.94v1.38h-2.94zM356.19 125.80h2.94v4.15h-2.94zM359.12 199.07h2.94v1.38h-2.94zM359.12 156.21h2.94v1.38h-2.94zM359.12 145.15h2.94v1.38h-2.94zM359.12 131.33h2.94v2.76h-2.94zM359.12 125.80h2.94v1.38h-2.94zM359.12 120.27h2.94v1.38h-2.94zM359.12 117.50h2.94v1.38h-2.94zM362.06 156.21h2.94v1.38h-2.94zM362.06 135.48h2.94v1.38h-2.94zM362.06 127.18h2.94v1.38h-2.94zM362.06 113.36h2.94v1.38h-2.94zM364.99 154.83h2.94v1.38h-2.94zM364.99 150.68h2.94v2.76h-2.94zM364.99 146.53h2.94v1.38h-2.94zM364.99 143.77h2.94v1.38h-2.94zM364.99 131.33h2.94v1.38h-2.94zM364.99 125.80h2.94v2.76h-2.94zM364.99 120.27h2.94v1.38h-2.94zM364.99 111.97h2.94v1.38h-2.94zM367.93 154.83h2.94v1.38h-2.94zM367.93 152.06h2.94v1.38h-2.94zM367.93 147.92h2.94v1.38h-2.94zM367.93 142.39h2.94v1.38h-2.94zM367.93 138.24h2.94v1.38h-2.94zM367.93 135.48h2.94v1.38h-2.94zM367.93 127.18h2.94v1.38h-2.94zM370.86 152.06h5.87v2.76h-5.87zM370.86 146.53h5.87v1.38h-5.87zM370.86 142.39h5.87v1.38h-5.87zM370.86 138.24h5.87v1.38h-5.87zM370.86 125.80h5.87v1.38h-5.87zM370.86 110.59h5.87v1.38h-5.87zM370.86 107.83h5.87v1.38h-5.87zM376.73 153.45h5.87v1.38h-5.87zM376.73 147.92h5.87v2.76h-5.87zM376.73 142.39h5.87v1.38h-5.87zM376.73 121.65h5.87v1.38h-5.87zM376.73 118.89h5.87v1.38h-5.87zM376.73 113.36h5.87v2.76h-5.87zM376.73 103.68h5.87v1.38h-5.87zM376.73 98.15h5.87v1.38h-5.87zM382.61 152.06h4.47v1.38h-4.47zM382.61 125.80h4.47v1.38h-4.47zM382.61 123.03h4.47v1.38h-4.47zM382.61 118.89h4.47v1.38h-4.47zM382.61 114.74h4.47v1.38h-4.47zM382.61 105.06h4.47v1.38h-4.47z"/>
<path fill="#ffe6ff" d="M77.31 110.59h2.94v2.76h-2.94zM80.25 111.97h2.94v1.38h-2.94zM86.12 113.36h2.94v1.38h-2.94zM89.05 116.12h2.94v1.38h-2.94zM91.99 124.42h2.94v1.38h-2.94zM91.99 120.27h2.94v2.76h-2.94zM94.93 120.27h2.94v1.38h-2.94zM97.86 158.98h2.94v1.38h-2.94zM100.80 124.42h2.94v2.76h-2.94zM100.80 121.65h2.94v1.38h-2.94zM103.73 124.42h2.94v1.38h-2.94zM103.73 121.65h2.94v1.38h-2.94zM106.67 124.42h2.94v2.76h-2.94zM109.60 124.42h2.94v1.38h-2.94zM112.54 125.80h2.94v1.38h-2.94zM112.54 123.03h2.94v1.38h-2.94zM115.47 125.80h2.94v1.38h-2.94zM118.41 125.80h2.94v1.38h-2.94zM121.35 125.80h2.94v1.38h-2.94zM124.28 158.98h2.94v1.38h-2.94zM124.28 125.80h2.94v1.38h-2.94zM127.22 127.18h2.94v1.38h-2.94zM130.15 127.18h2.94v1.38h-2.94zM136.02 125.80h2.94v4.15h-2.94zM138.96 125.80h2.94v4.15h-2.94zM141.89 127.18h2.94v1.38h-2.94zM144.83 128.56h2.94v1.38h-2.94zM144.83 124.42h2.94v1.38h-2.94zM147.76 123.03h2.94v1.38h-2.94zM150.70 123.03h2.94v1.38h-2.94zM153.64 124.42h2.94v1.38h-2.94zM156.57 124.42h2.94v1.38h-2.94zM156.57 121.65h2.94v1.38h-2.94zM159.51 129.95h2.94v1.38h-2.94zM159.51 121.65h2.94v4.15h-2.94zM162.44 129.95h2.94v1.38h-2.94zM162.44 127.18h2.94v1.38h-2.94zM162.44 121.65h2.94v4.15h-2.94zM165.38 129.95h2.94v2.76h-2.94zM165.38 127.18h2.94v1.38h-2.94zM165.38 120.27h2.94v4.15h-2.94zM165.38 116.12h2.94v2.76h-2.94zM168.31 131.33h2.94v1.38h-2.94zM168.31 127.18h2.94v1.38h-2.94zM168.31 116.12h2.94v5.53h-2.94zM171.25 131.33h2.94v1.38h-2.94zM171.25 127.18h2.94v1.38h-2.94zM171.25 121.65h2.94v1.38h-2.94zM171.25 117.50h2.94v1.38h-2.94zM171.25 113.36h2.94v2.76h-2.94zM174.18 131.33h2.94v1.38h-2.94zM174.18 121.65h2.94v1.38h-2.94zM174.18 113.36h2.94v2.76h-2.94zM177.12 121.65h2.94v1.38h-2.94zM177.12 117.50h2.94v1.38h-2.94zM177.12 113.36h2.94v2.76h-2.94zM180.06 113.36h2.94v2.76h-2.94zM182.99 123.03h2.94v1.38h-2.94zM182.99 117.50h2.94v1.38h-2.94zM182.99 114.74h2.94v1.38h-2.94zM185.93 134.09h2.94v1.38h-2.94zM185.93 124.42h2.94v1.38h-2.94zM185.93 118.89h2.94v2.76h-2.94zM188.86 134.09h2.94v1.38h-2.94zM188.86 121.65h2.94v4.15h-2.94zM191.80 154.83h2.94v1.38h-2.94zM191.80 134.09h2.94v1.38h-2.94zM191.80 125.80h2.94v2.76h-2.94zM194.73 134.09h2.94v1.38h-2.94zM197.67 134.09h2.94v1.38h-2.94zM197.67 129.95h2.94v1.38h-2.94zM200.60 134.09h2.94v1.38h-2.94zM206.48 131.33h2.94v1.38h-2.94zM209.41 160.36h2.94v1.38h-2.94zM212.35 129.95h2.94v1.38h-2.94zM215.28 129.95h2.94v1.38h-2.94zM221.15 132.71h2.94v1.38h-2.94zM221.15 128.56h2.94v2.76h-2.94zM224.09 132.71h2.94v2.76h-2.94zM224.09 129.95h2.94v1.38h-2.94zM224.09 127.18h2.94v1.38h-2.94zM229.96 132.71h2.94v1.38h-2.94zM229.96 128.56h2.94v1.38h-2.94zM232.89 128.56h2.94v1.38h-2.94zM235.83 125.80h2.94v4.15h-2.94zM238.77 136.86h2.94v1.38h-2.94zM238.77 125.80h2.94v2.76h-2.94zM247.57 128.56h2.94v1.38h-2.94zM250.51 131.33h2.94v5.53h-2.94zM253.44 131.33h2.94v1.38h-2.94zM256.38 129.95h2.94v4.15h-2.94zM259.31 136.86h2.94v1.38h-2.94zM259.31 131.33h2.94v4.15h-2.94zM262.25 136.86h2.94v1.38h-2.94zM262.25 132.71h2.94v2.76h-2.94zM265.19 134.09h2.94v4.15h-2.94zM268.12 135.48h2.94v1.38h-2.94zM271.06 135.48h2.94v1.38h-2.94zM271.06 132.71h2.94v1.38h-2.94zM273.99 157.59h2.94v1.38h-2.94zM273.99 136.86h2.94v1.38h-2.94zM273.99 134.09h2.94v1.38h-2.94zM276.93 131.33h2.94v2.76h-2.94zM276.93 128.56h2.94v1.38h-2.94zM279.86 135.48h2.94v1.38h-2.94zM279.86 131.33h2.94v2.76h-2.94zM279.86 128.56h2.94v1.38h-2.94zM282.80 134.09h2.94v2.76h-2.94zM282.80 128.56h2.94v1.38h-2.94zM285.73 157.59h2.94v1.38h-2.94zM285.73 132.71h2.94v2.76h-2.94zM285.73 129.95h2.94v1.38h-2.94zM285.73 127.18h2.94v1.38h-2.94zM288.67 157.59h2.94v1.38h-2.94zM288.67 132.71h2.94v2.76h-2.94zM288.67 127.18h2.94v4.15h-2.94zM291.60 157.59h2.94v1.38h-2.94zM291.60 127.18h2.94v5.53h-2.94zM294.54 160.36h2.94v1.38h-2.94zM294.54 157.59h2.94v1.38h-2.94zM294.54 149.30h2.94v1.38h-2.94zM294.54 134.09h2.94v1.38h-2.94zM294.54 125.80h2.94v6.91h-2.94zM297.48 157.59h2.94v1.38h-2.94zM297.48 149.30h2.94v1.38h-2.94zM297.48 134.09h2.94v1.38h-2.94zM297.48 127.18h2.94v1.38h-2.94zM297.48 124.42h2.94v1.38h-2.94zM300.41 160.36h2.94v1.38h-2.94zM300.41 156.21h2.94v2.76h-2.94zM300.41 132.71h2.94v2.76h-2.94zM300.41 125.80h2.94v2.76h-2.94zM300.41 123.03h2.94v1.38h-2.94zM303.35 194.92h2.94v1.38h-2.94zM303.35 156.21h2.94v2.76h-2.94zM303.35 152.06h2.94v1.38h-2.94zM303.35 132.71h2.94v2.76h-2.94zM303.35 127.18h2.94v4.15h-2.94zM303.35 123.03h2.94v1.38h-2.94zM306.28 160.36h2.94v1.38h-2.94zM306.28 156.21h2.94v2.76h-2.94zM306.28 152.06h2.94v1.38h-2.94zM306.28 149.30h2.94v1.38h-2.94zM306.28 132.71h2.94v4.15h-2.94zM306.28 128.56h2.94v2.76h-2.94zM306.28 125.80h2.94v1.38h-2.94zM309.22 163.12h2.94v1.38h-2.94zM309.22 154.83h2.94v4.15h-2.94zM309.22 149.30h2.94v4.15h-2.94zM309.22 131.33h2.94v4.15h-2.94zM309.22 128.56h2.94v1.38h-2.94zM309.22 125.80h2.94v1.38h-2.94zM312.15 161.74h2.94v2.76h-2.94zM312.15 154.83h2.94v4.15h-2.94zM312.15 152.06h2.94v1.38h-2.94zM312.15 129.95h2.94v4.15h-2.94zM312.15 127.18h2.94v1.38h-2.94zM315.09 163.12h2.94v1.38h-2.94zM315.09 160.36h2.94v1.38h-2.94zM315.09 150.68h2.94v6.91h-2.94zM315.09 132.71h2.94v4.15h-2.94zM315.09 127.18h2.94v2.76h-2.94zM318.02 161.74h2.94v2.76h-2.94zM318.02 154.83h2.94v4.15h-2.94zM318.02 152.06h2.94v1.38h-2.94zM318.02 131.33h2.94v5.53h-2.94zM318.02 127.18h2.94v2.76h-2.94zM318.02 124.42h2.94v1.38h-2.94zM320.96 160.36h2.94v1.38h-2.94zM320.96 157.59h2.94v1.38h-2.94zM320.96 152.06h2.94v4.15h-2.94zM320.96 147.92h2.94v2.76h-2.94zM320.96 135.48h2.94v1.38h-2.94zM320.96 125.80h2.94v8.29h-2.94zM323.90 152.06h2.94v1.38h-2.94zM323.90 147.92h2.94v2.76h-2.94zM323.90 143.77h2.94v1.38h-2.94zM323.90 134.09h2.94v2.76h-2.94zM323.90 127.18h2.94v1.38h-2.94zM326.83 154.83h2.94v1.38h-2.94zM326.83 152.06h2.94v1.38h-2.94zM326.83 147.92h2.94v1.38h-2.94zM326.83 135.48h2.94v1.38h-2.94zM326.83 132.71h2.94v1.38h-2.94zM326.83 129.95h2.94v1.38h-2.94zM326.83 127.18h2.94v1.38h-2.94zM326.83 124.42h2.94v1.38h-2.94zM329.77 157.59h2.94v1.38h-2.94zM329.77 152.06h2.94v4.15h-2.94zM329.77 146.53h2.94v4.15h-2.94zM329.77 135.48h2.94v1.38h-2.94zM329.77 132.71h2.94v1.38h-2.94zM329.77 129.95h2.94v1.38h-2.94zM329.77 127.18h2.94v1.38h-2.94zM332.70 157.59h2.94v1.38h-2.94zM332.70 152.06h2.94v2.76h-2.94zM332.70 145.15h2.94v5.53h-2.94zM332.70 138.24h2.94v2.76h-2.94zM332.70 132.71h2.94v1.38h-2.94zM332.70 129.95h2.94v1.38h-2.94zM335.64 157.59h2.94v1.38h-2.94zM335.64 149.30h2.94v1.38h-2.94zM335.64 145.15h2.94v1.38h-2.94zM335.64 128.56h2.94v1.38h-2.94zM335.64 124.42h2.94v1.38h-2.94zM338.57 157.59h2.94v1.38h-2.94zM338.57 150.68h2.94v2.76h-2.94zM338.57 147.92h2.94v1.38h-2.94zM338.57 142.39h2.94v4.15h-2.94zM338.57 124.42h2.94v4.15h-2.94zM341.51 154.83h2.94v1.38h-2.94zM341.51 150.68h2.94v2.76h-2.94zM341.51 146.53h2.94v1.38h-2.94zM341.51 142.39h2.94v2.76h-2.94zM341.51 124.42h2.94v2.76h-2.94zM341.51 121.65h2.94v1.38h-2.94zM344.44 150.68h2.94v5.53h-2.94zM344.44 143.77h2.94v5.53h-2.94zM344.44 141.00h2.94v1.38h-2.94zM344.44 132.71h2.94v1.38h-2.94zM344.44 121.65h2.94v2.76h-2.94zM347.38 153.45h2.94v2.76h-2.94zM347.38 150.68h2.94v1.38h-2.94zM347.38 145.15h2.94v4.15h-2.94zM347.38 141.00h2.94v2.76h-2.94zM347.38 128.56h2.94v1.38h-2.94zM347.38 121.65h2.94v2.76h-2.94zM350.32 203.21h2.94v1.38h-2.94zM350.32 153.45h2.94v1.38h-2.94zM350.32 142.39h2.94v9.68h-2.94zM350.32 136.86h2.94v2.76h-2.94zM350.32 129.95h2.94v1.38h-2.94zM350.32 123.03h2.94v1.38h-2.94zM350.32 117.50h2.94v2.76h-2.94zM353.25 201.83h2.94v1.38h-2.94zM353.25 153.45h2.94v1.38h-2.94zM353.25 142.39h2.94v8.29h-2.94zM353.25 138.24h2.94v1.38h-2.94zM353.25 117.50h2.94v2.76h-2.94zM356.19 153.45h2.94v1.38h-2.94zM356.19 146.53h2.94v5.53h-2.94zM356.19 142.39h2.94v2.76h-2.94zM356.19 138.24h2.94v2.76h-2.94zM356.19 134.09h2.94v1.38h-2.94zM356.19 117.50h2.94v2.76h-2.94zM356.19 114.74h2.94v1.38h-2.94zM359.12 149.30h2.94v2.76h-2.94zM359.12 146.53h2.94v1.38h-2.94zM359.12 138.24h2.94v6.91h-2.94zM359.12 134.09h2.94v1.38h-2.94zM359.12 123.03h2.94v1.38h-2.94zM359.12 114.74h2.94v2.76h-2.94zM362.06 199.07h2.94v1.38h-2.94zM362.06 153.45h2.94v2.76h-2.94zM362.06 150.68h2.94v1.38h-2.94zM362.06 136.86h2.94v12.44h-2.94zM362.06 128.56h2.94v6.91h-2.94zM362.06 125.80h2.94v1.38h-2.94zM362.06 120.27h2.94v1.38h-2.94zM362.06 116.12h2.94v1.38h-2.94zM362.06 109.21h2.94v2.76h-2.94zM364.99 145.15h2.94v1.38h-2.94zM364.99 132.71h2.94v11.06h-2.94zM364.99 129.95h2.94v1.38h-2.94zM364.99 123.03h2.94v2.76h-2.94zM364.99 106.44h2.94v1.38h-2.94zM367.93 153.45h2.94v1.38h-2.94zM367.93 149.30h2.94v2.76h-2.94zM367.93 146.53h2.94v1.38h-2.94zM367.93 143.77h2.94v1.38h-2.94zM367.93 139.62h2.94v2.76h-2.94zM367.93 136.86h2.94v1.38h-2.94zM367.93 129.95h2.94v5.53h-2.94zM367.93 125.80h2.94v1.38h-2.94zM367.93 121.65h2.94v2.76h-2.94zM367.93 116.12h2.94v1.38h-2.94zM367.93 111.97h2.94v1.38h-2.94zM367.93 105.06h2.94v1.38h-2.94zM370.86 193.54h5.87v1.38h-5.87zM370.86 154.83h5.87v1.38h-5.87zM370.86 147.92h5.87v4.15h-5.87zM370.86 143.77h5.87v2.76h-5.87zM370.86 139.62h5.87v2.76h-5.87zM370.86 129.95h5.87v8.29h-5.87zM370.86 127.18h5.87v1.38h-5.87zM370.86 123.03h5.87v1.38h-5.87zM370.86 120.27h5.87v1.38h-5.87zM370.86 116.12h5.87v2.76h-5.87zM370.86 111.97h5.87v1.38h-5.87zM376.73 154.83h5.87v1.38h-5.87zM376.73 150.68h5.87v1.38h-5.87zM376.73 143.77h5.87v4.15h-5.87zM376.73 132.71h5.87v9.68h-5.87zM376.73 129.95h5.87v1.38h-5.87zM376.73 123.03h5.87v5.53h-5.87zM376.73 120.27h5.87v1.38h-5.87zM376.73 116.12h5.87v2.76h-5.87zM376.73 111.97h5.87v1.38h-5.87zM376.73 105.06h5.87v1.38h-5.87zM382.61 153.45h4.47v2.76h-4.47zM382.61 129.95h4.47v22.12h-4.47zM382.61 127.18h4.47v1.38h-4.47zM382.61 124.42h4.47v1.38h-4.47zM382.61 120.27h4.47v2.76h-4.47zM382.61 116.12h4.47v1.38h-4.47zM382.61 110.59h4.47v4.15h-4.47zM382.61 107.83h4.47v1.38h-4.47zM382.61 100.92h4.47v1.38h-4.47zM382.61 92.62h4.47v2.76h-4.47z"/>
<path fill="#ac00ff" d="M80.25 145.15h2.94v1.38h-2.94zM80.25 121.65h2.94v1.38h-2.94zM83.18 125.80h2.94v2.76h-2.94zM83.18 121.65h2.94v1.38h-2.94zM94.93 131.33h2.94v1.38h-2.94zM106.67 152.06h2.94v1.38h-2.94zM109.60 136.86h2.94v1.38h-2.94zM133.09 136.86h2.94v1.38h-2.94zM138.96 139.62h2.94v1.38h-2.94zM147.76 143.77h2.94v1.38h-2.94zM180.06 138.24h2.94v1.38h-2.94zM247.57 150.68h2.94v1.38h-2.94zM300.41 170.04h2.94v1.38h-2.94zM303.35 170.04h2.94v2.76h-2.94zM306.28 189.39h2.94v1.38h-2.94zM306.28 171.42h2.94v1.38h-2.94zM315.09 194.92h2.94v1.38h-2.94zM323.90 185.24h2.94v2.76h-2.94zM326.83 183.86h2.94v1.38h-2.94zM335.64 188.01h2.94v1.38h-2.94zM335.64 182.48h2.94v1.38h-2.94zM338.57 188.01h2.94v1.38h-2.94zM344.44 164.51h2.94v1.38h-2.94zM347.38 164.51h2.94v1.38h-2.94zM350.32 179.71h2.94v1.38h-2.94zM356.19 176.95h2.94v1.38h-2.94zM356.19 161.74h2.94v1.38h-2.94zM356.19 158.98h2.94v1.38h-2.94zM359.12 179.71h2.94v2.76h-2.94zM362.06 179.71h2.94v1.38h-2.94zM362.06 176.95h2.94v1.38h-2.94zM364.99 179.71h2.94v1.38h-2.94zM370.86 174.18h5.87v1.38h-5.87zM376.73 174.18h5.87v1.38h-5.87zM382.61 175.56h4.47v1.38h-4.47z"/>
<path fill="#009cff" d="M80.25 143.77h2.94v1.38h-2.94zM94.93 141.00h2.94v1.38h-2.94zM100.80 141.00h2.94v1.38h-2.94zM118.41 145.15h2.94v1.38h-2.94zM138.96 146.53h2.94v1.38h-2.94zM153.64 149.30h2.94v1.38h-2.94zM159.51 153.45h2.94v1.38h-2.94zM165.38 143.77h2.94v1.38h-2.94zM174.18 145.15h2.94v1.38h-2.94zM238.77 163.12h2.94v1.38h-2.94zM244.64 160.36h2.94v1.38h-2.94z"/>
<path fill="#0071ff" d="M80.25 142.39h2.94v1.38h-2.94zM91.99 149.30h2.94v1.38h-2.94zM103.73 141.00h2.94v1.38h-2.94zM112.54 145.15h2.94v1.38h-2.94zM130.15 146.53h2.94v1.38h-2.94zM162.44 143.77h2.94v1.38h-2.94zM215.28 149.30h2.94v1.38h-2.94zM227.02 147.92h2.94v1.38h-2.94z"/>
<path fill="#0069ff" d="M80.25 141.00h2.94v1.38h-2.94zM91.99 141.00h2.94v1.38h-2.94zM109.60 142.39h2.94v1.38h-2.94zM115.47 142.39h2.94v1.38h-2.94zM130.15 142.39h2.94v1.38h-2.94zM162.44 149.30h2.94v1.38h-2.94zM168.31 143.77h2.94v1.38h-2.94zM180.06 143.77h2.94v1.38h-2.94zM185.93 149.30h2.94v1.38h-2.94zM188.86 143.77h2.94v1.38h-2.94zM200.60 146.53h2.94v1.38h-2.94zM221.15 150.68h2.94v1.38h-2.94zM221.15 146.53h2.94v1.38h-2.94zM224.09 147.92h2.94v1.38h-2.94zM279.86 172.80h2.94v1.38h-2.94zM285.73 175.56h2.94v1.38h-2.94z"/>
<path fill="#002bff" d="M80.25 138.24h2.94v1.38h-2.94zM80.25 131.33h2.94v1.38h-2.94zM89.05 135.48h2.94v1.38h-2.94zM106.67 145.15h2.94v1.38h-2.94zM121.35 138.24h2.94v1.38h-2.94zM191.80 150.68h2.94v1.38h-2.94zM212.35 153.45h2.94v1.38h-2.94zM212.35 143.77h2.94v1.38h-2.94zM218.22 152.06h2.94v1.38h-2.94zM238.77 161.74h2.94v1.38h-2.94zM279.86 175.56h2.94v1.38h-2.94zM279.86 165.89h2.94v2.76h-2.94z"/>
<path fill="#0004ff" d="M80.25 136.86h2.94v1.38h-2.94zM91.99 138.24h2.94v1.38h-2.94zM97.86 150.68h2.94v1.38h-2.94zM118.41 147.92h2.94v1.38h-2.94zM124.28 136.86h2.94v1.38h-2.94zM127.22 146.53h2.94v1.38h-2.94zM127.22 138.24h2.94v1.38h-2.94zM162.44 147.92h2.94v1.38h-2.94zM168.31 147.92h2.94v1.38h-2.94zM227.02 146.53h2.94v1.38h-2.94zM238.77 158.98h2.94v1.38h-2.94zM241.70 149.30h2.94v1.38h-2.94zM273.99 171.42h2.94v1.38h-2.94zM276.93 174.18h2.94v1.38h-2.94zM294.54 175.56h2.94v1.38h-2.94zM300.41 178.33h2.94v1.38h-2.94zM303.35 176.95h2.94v1.38h-2.94zM370.86 164.51h5.87v1.38h-5.87zM376.73 168.65h5.87v1.38h-5.87z"/>
<path fill="#0077ff" d="M80.25 135.48h2.94v1.38h-2.94zM106.67 142.39h2.94v1.38h-2.94zM124.28 142.39h2.94v1.38h-2.94zM127.22 142.39h2.94v1.38h-2.94zM133.09 143.77h2.94v1.38h-2.94zM153.64 147.92h2.94v1.38h-2.94zM156.57 146.53h2.94v1.38h-2.94zM165.38 153.45h2.94v1.38h-2.94zM168.31 146.53h2.94v1.38h-2.94zM209.41 146.53h2.94v1.38h-2.94zM221.15 147.92h2.94v1.38h-2.94zM262.25 163.12h2.94v1.38h-2.94zM276.93 172.80h2.94v1.38h-2.94z"/>
<path fill="#2400ff" d="M80.25 134.09h2.94v1.38h-2.94zM91.99 139.62h2.94v1.38h-2.94zM91.99 136.86h2.94v1.38h-2.94zM97.86 145.15h2.94v1.38h-2.94zM112.54 149.30h2.94v1.38h-2.94zM115.47 149.30h2.94v1.38h-2.94zM115.47 138.24h2.94v1.38h-2.94zM124.28 138.24h2.94v1.38h-2.94zM130.15 138.24h2.94v1.38h-2.94zM133.09 153.45h2.94v1.38h-2.94zM177.12 150.68h2.94v1.38h-2.94zM197.67 143.77h2.94v1.38h-2.94zM203.54 143.77h2.94v1.38h-2.94zM221.15 154.83h2.94v1.38h-2.94zM224.09 158.98h2.94v1.38h-2.94zM232.89 160.36h2.94v1.38h-2.94zM232.89 150.68h2.94v1.38h-2.94zM235.83 161.74h2.94v1.38h-2.94zM253.44 156.21h2.94v1.38h-2.94zM268.12 167.27h2.94v1.38h-2.94zM291.60 172.80h2.94v1.38h-2.94zM294.54 178.33h2.94v1.38h-2.94zM297.48 176.95h2.94v2.76h-2.94zM300.41 186.62h2.94v1.38h-2.94zM300.41 179.71h2.94v1.38h-2.94zM300.41 176.95h2.94v1.38h-2.94zM306.28 179.71h2.94v1.38h-2.94zM309.22 182.48h2.94v1.38h-2.94zM309.22 176.95h2.94v1.38h-2.94zM312.15 172.80h2.94v2.76h-2.94zM320.96 179.71h2.94v1.38h-2.94zM326.83 174.18h2.94v1.38h-2.94zM329.77 171.42h2.94v1.38h-2.94zM332.70 174.18h2.94v1.38h-2.94zM335.64 175.56h2.94v1.38h-2.94zM341.51 176.95h2.94v1.38h-2.94zM347.38 168.65h2.94v1.38h-2.94zM350.32 167.27h2.94v1.38h-2.94zM367.93 165.89h2.94v1.38h-2.94zM382.61 171.42h4.47v1.38h-4.47z"/>
<path fill="#0b00ff" d="M80.25 132.71h2.94v1.38h-2.94zM83.18 138.24h2.94v1.38h-2.94zM89.05 142.39h2.94v1.38h-2.94zM100.80 146.53h2.94v1.38h-2.94zM106.67 147.92h2.94v1.38h-2.94zM109.60 149.30h2.94v1.38h-2.94zM109.60 141.00h2.94v1.38h-2.94zM112.54 147.92h2.94v1.38h-2.94zM112.54 139.62h2.94v1.38h-2.94zM124.28 149.30h2.94v1.38h-2.94zM127.22 139.62h2.94v1.38h-2.94zM144.83 145.15h2.94v1.38h-2.94zM185.93 142.39h2.94v1.38h-2.94zM194.73 152.06h2.94v1.38h-2.94zM203.54 152.06h2.94v1.38h-2.94zM209.41 154.83h2.94v1.38h-2.94zM215.28 154.83h2.94v1.38h-2.94zM218.22 154.83h2.94v1.38h-2.94zM235.83 146.53h2.94v1.38h-2.94zM238.77 153.45h2.94v1.38h-2.94zM241.70 158.98h2.94v1.38h-2.94zM247.57 163.12h2.94v1.38h-2.94zM282.80 172.80h2.94v1.38h-2.94zM288.67 179.71h2.94v1.38h-2.94zM291.60 175.56h2.94v1.38h-2.94zM303.35 186.62h2.94v1.38h-2.94zM306.28 178.33h2.94v1.38h-2.94zM306.28 175.56h2.94v1.38h-2.94zM312.15 176.95h2.94v1.38h-2.94zM315.09 172.80h2.94v1.38h-2.94zM338.57 174.18h2.94v1.38h-2.94zM362.06 170.04h2.94v1.38h-2.94zM370.86 165.89h5.87v1.38h-5.87zM376.73 164.51h5.87v1.38h-5.87zM382.61 158.98h4.47v1.38h-4.47z"/>
<path fill="#ff38ff" d="M80.25 123.03h2.94v1.38h-2.94zM83.18 120.27h2.94v1.38h-2.94zM89.05 121.65h2.94v1.38h-2.94zM94.93 128.56h2.94v1.38h-2.94zM103.73 157.59h2.94v1.38h-2.94zM106.67 157.59h2.94v1.38h-2.94zM106.67 154.83h2.94v1.38h-2.94zM109.60 158.98h2.94v1.38h-2.94zM124.28 154.83h2.94v1.38h-2.94zM130.15 154.83h2.94v1.38h-2.94zM133.09 156.21h2.94v1.38h-2.94zM133.09 132.71h2.94v1.38h-2.94zM165.38 134.09h2.94v1.38h-2.94zM177.12 135.48h2.94v1.38h-2.94zM188.86 136.86h2.94v1.38h-2.94zM209.41 136.86h2.94v1.38h-2.94zM232.89 136.86h2.94v1.38h-2.94zM235.83 139.62h2.94v1.38h-2.94zM238.77 131.33h2.94v1.38h-2.94zM247.57 146.53h2.94v1.38h-2.94zM250.51 149.30h2.94v1.38h-2.94zM250.51 143.77h2.94v1.38h-2.94zM253.44 136.86h2.94v1.38h-2.94zM256.38 163.12h2.94v1.38h-2.94zM256.38 152.06h2.94v1.38h-2.94zM256.38 142.39h2.94v1.38h-2.94zM262.25 152.06h2.94v1.38h-2.94zM262.25 143.77h2.94v1.38h-2.94zM279.86 154.83h2.94v1.38h-2.94zM279.86 139.62h2.94v1.38h-2.94zM285.73 136.86h2.94v1.38h-2.94zM288.67 138.24h2.94v1.38h-2.94zM294.54 141.00h2.94v1.38h-2.94zM300.41 139.62h2.94v1.38h-2.94zM306.28 193.54h2.94v1.38h-2.94zM306.28 190.77h2.94v1.38h-2.94zM306.28 142.39h2.94v1.38h-2.94zM306.28 139.62h2.94v1.38h-2.94zM309.22 196.30h2.94v1.38h-2.94zM309.22 193.54h2.94v1.38h-2.94zM309.22 142.39h2.94v1.38h-2.94zM312.15 193.54h2.94v1.38h-2.94zM312.15 142.39h2.94v1.38h-2.94zM315.09 196.30h2.94v2.76h-2.94zM315.09 164.51h2.94v2.76h-2.94zM315.09 138.24h2.94v1.38h-2.94zM318.02 192.15h2.94v1.38h-2.94zM318.02 189.39h2.94v1.38h-2.94zM318.02 138.24h2.94v1.38h-2.94zM320.96 200.45h2.94v1.38h-2.94zM320.96 163.12h2.94v1.38h-2.94zM323.90 189.39h2.94v1.38h-2.94zM326.83 189.39h2.94v1.38h-2.94zM326.83 136.86h2.94v1.38h-2.94zM329.77 189.39h2.94v1.38h-2.94zM332.70 193.54h2.94v1.38h-2.94zM332.70 190.77h2.94v1.38h-2.94zM332.70 158.98h2.94v1.38h-2.94zM335.64 199.07h2.94v1.38h-2.94zM335.64 190.77h2.94v1.38h-2.94zM335.64 158.98h2.94v1.38h-2.94zM338.57 196.30h2.94v1.38h-2.94zM341.51 190.77h2.94v1.38h-2.94zM344.44 160.36h2.94v1.38h-2.94zM347.38 192.15h2.94v1.38h-2.94zM350.32 188.01h2.94v1.38h-2.94zM356.19 192.15h2.94v1.38h-2.94zM362.06 185.24h2.94v1.38h-2.94zM364.99 194.92h2.94v1.38h-2.94zM364.99 109.21h2.94v1.38h-2.94zM367.93 156.21h2.94v1.38h-2.94zM370.86 186.62h5.87v1.38h-5.87zM382.61 156.21h4.47v1.38h-4.47z"/>
<path fill="#de00ff" d="M80.25 118.89h2.94v1.38h-2.94zM83.18 146.53h2.94v1.38h-2.94zM91.99 154.83h2.94v1.38h-2.94zM94.93 153.45h2.94v1.38h-2.94zM115.47 132.71h2.94v1.38h-2.94zM118.41 132.71h2.94v1.38h-2.94zM121.35 153.45h2.94v1.38h-2.94zM130.15 134.09h2.94v1.38h-2.94zM138.96 135.48h2.94v1.38h-2.94zM153.64 136.86h2.94v1.38h-2.94zM156.57 142.39h2.94v1.38h-2.94zM159.51 138.24h2.94v1.38h-2.94zM168.31 154.83h2.94v1.38h-2.94zM197.67 136.86h2.94v1.38h-2.94zM200.60 138.24h2.94v1.38h-2.94zM203.54 138.24h2.94v1.38h-2.94zM209.41 139.62h2.94v1.38h-2.94zM218.22 161.74h2.94v1.38h-2.94zM218.22 139.62h2.94v1.38h-2.94zM235.83 141.00h2.94v1.38h-2.94zM247.57 149.30h2.94v1.38h-2.94zM312.15 189.39h2.94v1.38h-2.94zM315.09 188.01h2.94v1.38h-2.94zM318.02 194.92h2.94v1.38h-2.94zM318.02 188.01h2.94v1.38h-2.94zM320.96 188.01h2.94v1.38h-2.94zM332.70 185.24h2.94v1.38h-2.94zM332.70 161.74h2.94v1.38h-2.94zM335.64 185.24h2.94v1.38h-2.94zM341.51 183.86h2.94v1.38h-2.94zM344.44 201.83h2.94v1.38h-2.94zM344.44 196.30h2.94v1.38h-2.94zM344.44 189.39h2.94v1.38h-2.94zM347.38 185.24h2.94v1.38h-2.94zM347.38 160.36h2.94v1.38h-2.94zM350.32 160.36h2.94v1.38h-2.94zM356.19 182.48h2.94v1.38h-2.94zM362.06 182.48h2.94v1.38h-2.94zM370.86 157.59h5.87v1.38h-5.87zM376.73 179.71h5.87v1.38h-5.87zM382.61 179.71h4.47v1.38h-4.47z"/>
<path fill="#00ffdc" d="M83.18 143.77h2.94v1.38h-2.94zM136.02 147.92h2.94v1.38h-2.94zM162.44 145.15h2.94v1.38h-2.94zM191.80 149.30h2.94v1.38h-2.94zM273.99 164.51h2.94v1.38h-2.94z"/>
<path fill="#0056ff" d="M83.18 142.39h2.94v1.38h-2.94zM124.28 150.68h2.94v1.38h-2.94zM130.15 152.06h2.94v1.38h-2.94zM141.89 145.15h2.94v1.38h-2.94zM171.25 145.15h2.94v1.38h-2.94zM177.12 149.30h2.94v1.38h-2.94zM182.99 142.39h2.94v2.76h-2.94zM209.41 153.45h2.94v1.38h-2.94zM215.28 150.68h2.94v1.38h-2.94zM218.22 146.53h2.94v1.38h-2.94zM221.15 149.30h2.94v1.38h-2.94z"/>
<path fill="#5700ff" d="M83.18 139.62h2.94v1.38h-2.94zM83.18 129.95h2.94v1.38h-2.94zM103.73 138.24h2.94v1.38h-2.94zM127.22 135.48h2.94v1.38h-2.94zM130.15 153.45h2.94v1.38h-2.94zM136.02 142.39h2.94v1.38h-2.94zM159.51 154.83h2.94v1.38h-2.94zM162.44 154.83h2.94v1.38h-2.94zM182.99 150.68h2.94v1.38h-2.94zM182.99 141.00h2.94v1.38h-2.94zM206.48 142.39h2.94v1.38h-2.94zM215.28 142.39h2.94v1.38h-2.94zM221.15 158.98h2.94v1.38h-2.94zM224.09 160.36h2.94v1.38h-2.94zM227.02 145.15h2.94v1.38h-2.94zM229.96 143.77h2.94v1.38h-2.94zM232.89 145.15h2.94v1.38h-2.94zM241.70 157.59h2.94v1.38h-2.94zM279.86 178.33h2.94v1.38h-2.94zM282.80 168.65h2.94v1.38h-2.94zM291.60 174.18h2.94v1.38h-2.94zM303.35 188.01h2.94v1.38h-2.94zM315.09 178.33h2.94v1.38h-2.94zM315.09 174.18h2.94v1.38h-2.94zM318.02 178.33h2.94v1.38h-2.94zM323.90 170.04h2.94v1.38h-2.94zM326.83 167.27h2.94v1.38h-2.94zM329.77 181.09h2.94v1.38h-2.94zM332.70 176.95h2.94v1.38h-2.94zM332.70 170.04h2.94v1.38h-2.94zM338.57 181.09h2.94v1.38h-2.94zM338.57 170.04h2.94v1.38h-2.94zM341.51 178.33h2.94v1.38h-2.94zM341.51 172.80h2.94v2.76h-2.94zM350.32 175.56h2.94v1.38h-2.94zM353.25 164.51h2.94v1.38h-2.94zM356.19 165.89h2.94v1.38h-2.94zM362.06 172.80h2.94v1.38h-2.94zM362.06 167.27h2.94v1.38h-2.94zM362.06 161.74h2.94v1.38h-2.94zM364.99 168.65h2.94v1.38h-2.94zM370.86 158.98h5.87v1.38h-5.87zM376.73 170.04h5.87v1.38h-5.87z"/>
<path fill="#001dff" d="M83.18 136.86h2.94v1.38h-2.94zM97.86 143.77h2.94v1.38h-2.94zM106.67 139.62h2.94v1.38h-2.94zM109.60 145.15h2.94v1.38h-2.94zM109.60 139.62h2.94v1.38h-2.94zM118.41 138.24h2.94v1.38h-2.94zM127.22 147.92h2.94v1.38h-2.94zM136.02 152.06h2.94v1.38h-2.94zM136.02 143.77h2.94v1.38h-2.94zM206.48 143.77h2.94v1.38h-2.94zM218.22 145.15h2.94v1.38h-2.94zM224.09 157.59h2.94v1.38h-2.94zM279.86 171.42h2.94v1.38h-2.94zM279.86 168.65h2.94v1.38h-2.94zM303.35 181.09h2.94v1.38h-2.94zM376.73 167.27h5.87v1.38h-5.87z"/>
<path fill="#0017ff" d="M83.18 135.48h2.94v1.38h-2.94zM97.86 149.30h2.94v1.38h-2.94zM100.80 147.92h2.94v1.38h-2.94zM103.73 146.53h2.94v1.38h-2.94zM109.60 147.92h2.94v1.38h-2.94zM121.35 147.92h2.94v1.38h-2.94zM124.28 146.53h2.94v2.76h-2.94zM130.15 149.30h2.94v1.38h-2.94zM153.64 154.83h2.94v1.38h-2.94zM165.38 146.53h2.94v1.38h-2.94zM203.54 153.45h2.94v1.38h-2.94zM212.35 146.53h2.94v2.76h-2.94zM235.83 154.83h2.94v1.38h-2.94zM244.64 158.98h2.94v1.38h-2.94zM291.60 181.09h2.94v1.38h-2.94zM297.48 182.48h2.94v1.38h-2.94zM303.35 185.24h2.94v1.38h-2.94zM376.73 165.89h5.87v1.38h-5.87z"/>
<path fill="#000aff" d="M83.18 134.09h2.94v1.38h-2.94zM83.18 131.33h2.94v1.38h-2.94zM86.12 134.09h2.94v1.38h-2.94zM91.99 146.53h2.94v1.38h-2.94zM109.60 146.53h2.94v1.38h-2.94zM112.54 141.00h2.94v1.38h-2.94zM124.28 139.62h2.94v1.38h-2.94zM127.22 152.06h2.94v1.38h-2.94zM133.09 150.68h2.94v1.38h-2.94zM153.64 146.53h2.94v1.38h-2.94zM156.57 154.83h2.94v1.38h-2.94zM165.38 142.39h2.94v1.38h-2.94zM171.25 152.06h2.94v1.38h-2.94zM174.18 150.68h2.94v1.38h-2.94zM194.73 143.77h2.94v1.38h-2.94zM209.41 145.15h2.94v1.38h-2.94zM238.77 152.06h2.94v1.38h-2.94zM259.31 163.12h2.94v1.38h-2.94zM294.54 183.86h2.94v1.38h-2.94zM297.48 179.71h2.94v1.38h-2.94zM300.41 181.09h2.94v1.38h-2.94zM309.22 179.71h2.94v1.38h-2.94zM315.09 182.48h2.94v1.38h-2.94zM347.38 167.27h2.94v1.38h-2.94zM382.61 167.27h4.47v1.38h-4.47zM382.61 164.51h4.47v1.38h-4.47z"/>
<path fill="#3600ff" d="M83.18 132.71h2.94v1.38h-2.94zM86.12 128.56h2.94v1.38h-2.94zM91.99 135.48h2.94v1.38h-2.94zM97.86 138.24h2.94v1.38h-2.94zM103.73 150.68h2.94v1.38h-2.94zM103.73 136.86h2.94v1.38h-2.94zM118.41 150.68h2.94v1.38h-2.94zM121.35 135.48h2.94v1.38h-2.94zM124.28 135.48h2.94v1.38h-2.94zM141.89 154.83h2.94v1.38h-2.94zM141.89 143.77h2.94v1.38h-2.94zM150.70 146.53h2.94v1.38h-2.94zM165.38 147.92h2.94v1.38h-2.94zM174.18 152.06h2.94v1.38h-2.94zM221.15 152.06h2.94v1.38h-2.94zM221.15 143.77h2.94v1.38h-2.94zM224.09 152.06h2.94v1.38h-2.94zM224.09 145.15h2.94v1.38h-2.94zM227.02 153.45h2.94v1.38h-2.94zM229.96 160.36h2.94v1.38h-2.94zM232.89 156.21h2.94v1.38h-2.94zM282.80 171.42h2.94v1.38h-2.94zM288.67 178.33h2.94v1.38h-2.94zM309.22 185.24h2.94v1.38h-2.94zM312.15 179.71h2.94v1.38h-2.94zM320.96 181.09h2.94v1.38h-2.94zM323.90 181.09h2.94v1.38h-2.94zM326.83 178.33h2.94v1.38h-2.94zM335.64 171.42h2.94v1.38h-2.94zM356.19 171.42h2.94v1.38h-2.94zM362.06 164.51h2.94v1.38h-2.94zM367.93 167.27h2.94v1.38h-2.94zM370.86 171.42h5.87v1.38h-5.87zM382.61 161.74h4.47v1.38h-4.47z"/>
<path fill="#ff69ff" d="M83.18 123.03h2.94v1.38h-2.94zM103.73 158.98h2.94v1.38h-2.94zM106.67 158.98h2.94v1.38h-2.94zM109.60 154.83h2.94v1.38h-2.94zM109.60 128.56h2.94v1.38h-2.94zM121.35 129.95h2.94v1.38h-2.94zM127.22 154.83h2.94v1.38h-2.94zM130.15 156.21h2.94v1.38h-2.94zM136.02 134.09h2.94v1.38h-2.94zM141.89 157.59h2.94v1.38h-2.94zM141.89 139.62h2.94v1.38h-2.94zM147.76 132.71h2.94v1.38h-2.94zM156.57 132.71h2.94v1.38h-2.94zM162.44 135.48h2.94v1.38h-2.94zM165.38 132.71h2.94v1.38h-2.94zM177.12 153.45h2.94v1.38h-2.94zM180.06 134.09h2.94v1.38h-2.94zM185.93 127.18h2.94v1.38h-2.94zM188.86 153.45h2.94v1.38h-2.94zM197.67 154.83h2.94v1.38h-2.94zM209.41 135.48h2.94v1.38h-2.94zM218.22 163.12h2.94v1.38h-2.94zM227.02 135.48h2.94v1.38h-2.94zM227.02 131.33h2.94v1.38h-2.94zM247.57 141.00h2.94v2.76h-2.94zM250.51 150.68h2.94v1.38h-2.94zM256.38 149.30h2.94v1.38h-2.94zM259.31 152.06h2.94v1.38h-2.94zM259.31 142.39h2.94v1.38h-2.94zM262.25 149.30h2.94v1.38h-2.94zM262.25 142.39h2.94v1.38h-2.94zM262.25 139.62h2.94v1.38h-2.94zM265.19 149.30h2.94v1.38h-2.94zM268.12 141.00h2.94v1.38h-2.94zM276.93 142.39h2.94v2.76h-2.94zM285.73 163.12h2.94v1.38h-2.94zM285.73 150.68h2.94v1.38h-2.94zM285.73 138.24h2.94v1.38h-2.94zM288.67 161.74h2.94v1.38h-2.94zM291.60 165.89h2.94v1.38h-2.94zM294.54 190.77h2.94v1.38h-2.94zM294.54 154.83h2.94v1.38h-2.94zM297.48 165.89h2.94v1.38h-2.94zM297.48 154.83h2.94v1.38h-2.94zM297.48 142.39h2.94v1.38h-2.94zM300.41 165.89h2.94v1.38h-2.94zM300.41 154.83h2.94v1.38h-2.94zM300.41 142.39h2.94v1.38h-2.94zM303.35 161.74h2.94v1.38h-2.94zM303.35 154.83h2.94v1.38h-2.94zM303.35 145.15h2.94v1.38h-2.94zM303.35 141.00h2.94v1.38h-2.94zM306.28 165.89h2.94v1.38h-2.94zM306.28 141.00h2.94v1.38h-2.94zM306.28 138.24h2.94v1.38h-2.94zM309.22 194.92h2.94v1.38h-2.94zM309.22 138.24h2.94v1.38h-2.94zM312.15 165.89h2.94v1.38h-2.94zM315.09 139.62h2.94v1.38h-2.94zM315.09 136.86h2.94v1.38h-2.94zM318.02 199.07h2.94v1.38h-2.94zM318.02 193.54h2.94v1.38h-2.94zM320.96 199.07h2.94v1.38h-2.94zM320.96 138.24h2.94v2.76h-2.94zM323.90 136.86h2.94v1.38h-2.94zM326.83 200.45h2.94v1.38h-2.94zM329.77 199.07h2.94v1.38h-2.94zM329.77 193.54h2.94v1.38h-2.94zM329.77 136.86h2.94v1.38h-2.94zM332.70 199.07h2.94v1.38h-2.94zM332.70 160.36h2.94v1.38h-2.94zM335.64 201.83h2.94v1.38h-2.94zM338.57 201.83h2.94v2.76h-2.94zM338.57 190.77h2.94v1.38h-2.94zM341.51 203.21h2.94v1.38h-2.94zM344.44 203.21h2.94v1.38h-2.94zM347.38 135.48h2.94v1.38h-2.94zM350.32 201.83h2.94v1.38h-2.94zM350.32 196.30h2.94v1.38h-2.94zM350.32 190.77h2.94v1.38h-2.94zM350.32 131.33h2.94v1.38h-2.94zM353.25 157.59h2.94v1.38h-2.94zM353.25 131.33h2.94v1.38h-2.94zM356.19 196.30h2.94v1.38h-2.94zM359.12 196.30h2.94v1.38h-2.94zM359.12 193.54h2.94v1.38h-2.94zM359.12 157.59h2.94v1.38h-2.94zM367.93 118.89h2.94v1.38h-2.94zM367.93 114.74h2.94v1.38h-2.94zM370.86 182.48h5.87v1.38h-5.87zM370.86 113.36h5.87v1.38h-5.87zM370.86 105.06h5.87v1.38h-5.87z"/>
<path fill="#c500ff" d="M83.18 118.89h2.94v1.38h-2.94zM89.05 125.80h2.94v1.38h-2.94zM91.99 129.95h2.94v1.38h-2.94zM103.73 152.06h2.94v1.38h-2.94zM103.73 129.95h2.94v2.76h-2.94zM109.60 132.71h2.94v1.38h-2.94zM112.54 134.09h2.94v1.38h-2.94zM150.70 156.21h2.94v1.38h-2.94zM153.64 139.62h2.94v1.38h-2.94zM159.51 156.21h2.94v1.38h-2.94zM162.44 156.21h2.94v1.38h-2.94zM162.44 141.00h2.94v1.38h-2.94zM168.31 136.86h2.94v1.38h-2.94zM177.12 139.62h2.94v1.38h-2.94zM180.06 139.62h2.94v1.38h-2.94zM185.93 139.62h2.94v1.38h-2.94zM188.86 139.62h2.94v1.38h-2.94zM194.73 138.24h2.94v1.38h-2.94zM247.57 164.51h2.94v1.38h-2.94zM271.06 158.98h2.94v1.38h-2.94zM276.93 161.74h2.94v1.38h-2.94zM285.73 183.86h2.94v1.38h-2.94zM288.67 168.65h2.94v1.38h-2.94zM309.22 189.39h2.94v1.38h-2.94zM312.15 188.01h2.94v1.38h-2.94zM318.02 167.27h2.94v1.38h-2.94zM320.96 186.62h2.94v1.38h-2.94zM329.77 194.92h2.94v1.38h-2.94zM332.70 194.92h2.94v1.38h-2.94zM338.57 183.86h2.94v1.38h-2.94zM341.51 188.01h2.94v1.38h-2.94zM341.51 161.74h2.94v1.38h-2.94zM347.38 186.62h2.94v1.38h-2.94zM347.38 161.74h2.94v1.38h-2.94zM356.19 160.36h2.94v1.38h-2.94zM364.99 181.09h2.94v1.38h-2.94zM367.93 178.33h2.94v1.38h-2.94zM370.86 190.77h5.87v1.38h-5.87zM370.86 178.33h5.87v2.76h-5.87zM370.86 175.56h5.87v1.38h-5.87zM376.73 175.56h5.87v1.38h-5.87z"/>
<path fill="#0044ff" d="M86.12 145.15h2.94v1.38h-2.94zM86.12 138.24h2.94v1.38h-2.94zM89.05 132.71h2.94v1.38h-2.94zM103.73 145.15h2.94v1.38h-2.94zM121.35 141.00h2.94v1.38h-2.94zM165.38 145.15h2.94v1.38h-2.94zM206.48 153.45h2.94v1.38h-2.94zM221.15 145.15h2.94v1.38h-2.94zM224.09 146.53h2.94v1.38h-2.94zM227.02 150.68h2.94v1.38h-2.94zM241.70 161.74h2.94v1.38h-2.94zM247.57 153.45h2.94v2.76h-2.94zM282.80 181.09h2.94v1.38h-2.94zM288.67 176.95h2.94v1.38h-2.94z"/>
<path fill="#0037ff" d="M86.12 142.39h2.94v1.38h-2.94zM106.67 141.00h2.94v1.38h-2.94zM127.22 141.00h2.94v1.38h-2.94zM130.15 150.68h2.94v1.38h-2.94zM130.15 147.92h2.94v1.38h-2.94zM138.96 145.15h2.94v1.38h-2.94zM141.89 146.53h2.94v1.38h-2.94zM174.18 142.39h2.94v1.38h-2.94zM191.80 143.77h2.94v1.38h-2.94zM212.35 154.83h2.94v1.38h-2.94zM215.28 145.15h2.94v1.38h-2.94zM218.22 147.92h2.94v2.76h-2.94zM224.09 150.68h2.94v1.38h-2.94zM241.70 154.83h2.94v1.38h-2.94zM241.70 150.68h2.94v1.38h-2.94zM294.54 179.71h2.94v1.38h-2.94zM382.61 165.89h4.47v1.38h-4.47z"/>
<path fill="#4700ff" d="M86.12 141.00h2.94v1.38h-2.94zM118.41 139.62h2.94v1.38h-2.94zM121.35 136.86h2.94v1.38h-2.94zM144.83 154.83h2.94v1.38h-2.94zM156.57 145.15h2.94v1.38h-2.94zM218.22 142.39h2.94v1.38h-2.94zM221.15 142.39h2.94v1.38h-2.94zM224.09 154.83h2.94v1.38h-2.94zM227.02 158.98h2.94v1.38h-2.94zM229.96 161.74h2.94v1.38h-2.94zM229.96 153.45h2.94v1.38h-2.94zM232.89 152.06h2.94v4.15h-2.94zM232.89 146.53h2.94v1.38h-2.94zM238.77 164.51h2.94v1.38h-2.94zM250.51 153.45h2.94v1.38h-2.94zM285.73 172.80h2.94v1.38h-2.94zM291.60 178.33h2.94v1.38h-2.94zM297.48 172.80h2.94v1.38h-2.94zM309.22 178.33h2.94v1.38h-2.94zM315.09 181.09h2.94v1.38h-2.94zM318.02 182.48h2.94v1.38h-2.94zM318.02 174.18h2.94v2.76h-2.94zM320.96 182.48h2.94v1.38h-2.94zM320.96 176.95h2.94v1.38h-2.94zM323.90 171.42h2.94v1.38h-2.94zM338.57 171.42h2.94v1.38h-2.94zM341.51 175.56h2.94v1.38h-2.94zM344.44 178.33h2.94v1.38h-2.94zM344.44 175.56h2.94v1.38h-2.94zM350.32 171.42h2.94v1.38h-2.94zM350.32 163.12h2.94v1.38h-2.94zM353.25 175.56h2.94v1.38h-2.94zM353.25 163.12h2.94v1.38h-2.94zM356.19 172.80h2.94v1.38h-2.94zM356.19 170.04h2.94v1.38h-2.94zM356.19 167.27h2.94v1.38h-2.94zM364.99 165.89h2.94v1.38h-2.94zM367.93 174.18h2.94v1.38h-2.94zM367.93 161.74h2.94v1.38h-2.94zM370.86 170.04h5.87v1.38h-5.87zM370.86 160.36h5.87v2.76h-5.87z"/>
<path fill="#f900ff" d="M86.12 124.42h2.94v1.38h-2.94zM86.12 121.65h2.94v1.38h-2.94zM91.99 128.56h2.94v1.38h-2.94zM106.67 156.21h2.94v1.38h-2.94zM109.60 156.21h2.94v1.38h-2.94zM109.60 131.33h2.94v1.38h-2.94zM112.54 156.21h2.94v1.38h-2.94zM115.47 131.33h2.94v1.38h-2.94zM118.41 129.95h2.94v2.76h-2.94zM124.28 131.33h2.94v1.38h-2.94zM141.89 138.24h2.94v1.38h-2.94zM144.83 156.21h2.94v1.38h-2.94zM144.83 142.39h2.94v1.38h-2.94zM147.76 136.86h2.94v1.38h-2.94zM150.70 141.00h2.94v1.38h-2.94zM150.70 138.24h2.94v1.38h-2.94zM153.64 141.00h2.94v1.38h-2.94zM156.57 139.62h2.94v1.38h-2.94zM159.51 141.00h2.94v1.38h-2.94zM162.44 136.86h2.94v1.38h-2.94zM194.73 136.86h2.94v1.38h-2.94zM212.35 139.62h2.94v1.38h-2.94zM218.22 135.48h2.94v1.38h-2.94zM224.09 139.62h2.94v1.38h-2.94zM250.51 147.92h2.94v1.38h-2.94zM253.44 143.77h2.94v1.38h-2.94zM256.38 141.00h2.94v1.38h-2.94zM268.12 156.21h2.94v1.38h-2.94zM282.80 143.77h2.94v1.38h-2.94zM282.80 139.62h2.94v1.38h-2.94zM285.73 161.74h2.94v1.38h-2.94zM291.60 167.27h2.94v1.38h-2.94zM291.60 139.62h2.94v1.38h-2.94zM294.54 139.62h2.94v1.38h-2.94zM300.41 167.27h2.94v1.38h-2.94zM303.35 167.27h2.94v1.38h-2.94zM312.15 167.27h2.94v1.38h-2.94zM320.96 190.77h2.94v1.38h-2.94zM323.90 194.92h2.94v1.38h-2.94zM329.77 197.68h2.94v1.38h-2.94zM329.77 188.01h2.94v1.38h-2.94zM332.70 201.83h2.94v1.38h-2.94zM332.70 196.30h2.94v1.38h-2.94zM332.70 189.39h2.94v1.38h-2.94zM332.70 163.12h2.94v1.38h-2.94zM335.64 193.54h2.94v1.38h-2.94zM335.64 189.39h2.94v1.38h-2.94zM338.57 200.45h2.94v1.38h-2.94zM338.57 197.68h2.94v1.38h-2.94zM338.57 186.62h2.94v1.38h-2.94zM338.57 161.74h2.94v1.38h-2.94zM341.51 201.83h2.94v1.38h-2.94zM341.51 196.30h2.94v1.38h-2.94zM341.51 186.62h2.94v1.38h-2.94zM344.44 158.98h2.94v1.38h-2.94zM347.38 196.30h2.94v2.76h-2.94zM347.38 189.39h2.94v1.38h-2.94zM350.32 194.92h2.94v1.38h-2.94zM353.25 188.01h2.94v1.38h-2.94zM353.25 185.24h2.94v1.38h-2.94zM359.12 186.62h2.94v1.38h-2.94zM362.06 189.39h2.94v2.76h-2.94zM362.06 183.86h2.94v1.38h-2.94zM367.93 189.39h2.94v1.38h-2.94zM367.93 157.59h2.94v1.38h-2.94zM370.86 189.39h5.87v1.38h-5.87zM370.86 181.09h5.87v1.38h-5.87zM376.73 189.39h5.87v1.38h-5.87z"/>
<path fill="#ffb4ff" d="M86.12 118.89h2.94v1.38h-2.94zM94.93 123.03h2.94v1.38h-2.94zM97.86 127.18h2.94v1.38h-2.94zM97.86 123.03h2.94v1.38h-2.94zM100.80 127.18h2.94v1.38h-2.94zM106.67 160.36h2.94v1.38h-2.94zM106.67 127.18h2.94v1.38h-2.94zM109.60 127.18h2.94v1.38h-2.94zM115.47 158.98h2.94v1.38h-2.94zM121.35 127.18h2.94v2.76h-2.94zM124.28 129.95h2.94v1.38h-2.94zM124.28 127.18h2.94v1.38h-2.94zM127.22 157.59h2.94v1.38h-2.94zM133.09 129.95h2.94v1.38h-2.94zM136.02 157.59h2.94v1.38h-2.94zM138.96 131.33h2.94v1.38h-2.94zM141.89 132.71h2.94v2.76h-2.94zM144.83 134.09h2.94v1.38h-2.94zM144.83 131.33h2.94v1.38h-2.94zM147.76 134.09h2.94v2.76h-2.94zM147.76 129.95h2.94v1.38h-2.94zM147.76 127.18h2.94v1.38h-2.94zM150.70 134.09h2.94v1.38h-2.94zM150.70 127.18h2.94v2.76h-2.94zM153.64 157.59h2.94v1.38h-2.94zM153.64 131.33h2.94v1.38h-2.94zM153.64 125.80h2.94v1.38h-2.94zM156.57 129.95h2.94v2.76h-2.94zM159.51 131.33h2.94v1.38h-2.94zM162.44 128.56h2.94v1.38h-2.94zM162.44 125.80h2.94v1.38h-2.94zM168.31 128.56h2.94v1.38h-2.94zM171.25 132.71h2.94v1.38h-2.94zM171.25 123.03h2.94v1.38h-2.94zM174.18 129.95h2.94v1.38h-2.94zM174.18 116.12h2.94v1.38h-2.94zM177.12 127.18h2.94v1.38h-2.94zM177.12 118.89h2.94v1.38h-2.94zM180.06 129.95h2.94v1.38h-2.94zM180.06 123.03h2.94v2.76h-2.94zM182.99 134.09h2.94v1.38h-2.94zM182.99 120.27h2.94v1.38h-2.94zM185.93 129.95h2.94v2.76h-2.94zM185.93 125.80h2.94v1.38h-2.94zM188.86 125.80h2.94v1.38h-2.94zM191.80 135.48h2.94v1.38h-2.94zM191.80 132.71h2.94v1.38h-2.94zM194.73 154.83h2.94v1.38h-2.94zM194.73 132.71h2.94v1.38h-2.94zM197.67 132.71h2.94v1.38h-2.94zM200.60 132.71h2.94v1.38h-2.94zM203.54 157.59h2.94v1.38h-2.94zM203.54 132.71h2.94v1.38h-2.94zM209.41 132.71h2.94v1.38h-2.94zM212.35 134.09h2.94v1.38h-2.94zM215.28 134.09h2.94v1.38h-2.94zM215.28 131.33h2.94v1.38h-2.94zM221.15 131.33h2.94v1.38h-2.94zM224.09 131.33h2.94v1.38h-2.94zM235.83 129.95h2.94v1.38h-2.94zM238.77 139.62h2.94v1.38h-2.94zM241.70 138.24h2.94v1.38h-2.94zM241.70 135.48h2.94v1.38h-2.94zM241.70 132.71h2.94v1.38h-2.94zM241.70 127.18h2.94v4.15h-2.94zM244.64 132.71h2.94v2.76h-2.94zM247.57 139.62h2.94v1.38h-2.94zM250.51 139.62h2.94v1.38h-2.94zM253.44 145.15h2.94v1.38h-2.94zM253.44 139.62h2.94v1.38h-2.94zM256.38 147.92h2.94v1.38h-2.94zM256.38 145.15h2.94v1.38h-2.94zM256.38 139.62h2.94v1.38h-2.94zM259.31 150.68h2.94v1.38h-2.94zM259.31 146.53h2.94v1.38h-2.94zM259.31 138.24h2.94v1.38h-2.94zM262.25 147.92h2.94v1.38h-2.94zM262.25 135.48h2.94v1.38h-2.94zM265.19 142.39h2.94v4.15h-2.94zM268.12 150.68h2.94v1.38h-2.94zM268.12 142.39h2.94v1.38h-2.94zM271.06 156.21h2.94v1.38h-2.94zM271.06 150.68h2.94v1.38h-2.94zM271.06 147.92h2.94v1.38h-2.94zM273.99 146.53h2.94v1.38h-2.94zM276.93 156.21h2.94v1.38h-2.94zM276.93 149.30h2.94v1.38h-2.94zM276.93 136.86h2.94v1.38h-2.94zM279.86 158.98h2.94v2.76h-2.94zM279.86 149.30h2.94v1.38h-2.94zM282.80 156.21h2.94v2.76h-2.94zM282.80 152.06h2.94v1.38h-2.94zM285.73 153.45h2.94v1.38h-2.94zM285.73 149.30h2.94v1.38h-2.94zM285.73 145.15h2.94v1.38h-2.94zM288.67 164.51h2.94v1.38h-2.94zM288.67 158.98h2.94v2.76h-2.94zM288.67 156.21h2.94v1.38h-2.94zM291.60 163.12h2.94v1.38h-2.94zM291.60 154.83h2.94v1.38h-2.94zM291.60 152.06h2.94v1.38h-2.94zM291.60 142.39h2.94v1.38h-2.94zM291.60 135.48h2.94v1.38h-2.94zM294.54 145.15h2.94v1.38h-2.94zM294.54 142.39h2.94v1.38h-2.94zM294.54 135.48h2.94v1.38h-2.94zM297.48 164.51h2.94v1.38h-2.94zM297.48 145.15h2.94v2.76h-2.94zM297.48 136.86h2.94v1.38h-2.94zM300.41 163.12h2.94v2.76h-2.94zM300.41 158.98h2.94v1.38h-2.94zM300.41 143.77h2.94v1.38h-2.94zM300.41 136.86h2.94v1.38h-2.94zM303.35 164.51h2.94v1.38h-2.94zM303.35 146.53h2.94v2.76h-2.94zM303.35 143.77h2.94v1.38h-2.94zM303.35 136.86h2.94v1.38h-2.94zM306.28 194.92h2.94v2.76h-2.94zM309.22 161.74h2.94v1.38h-2.94zM309.22 143.77h2.94v1.38h-2.94zM309.22 136.86h2.94v1.38h-2.94zM312.15 164.51h2.94v1.38h-2.94zM312.15 158.98h2.94v1.38h-2.94zM312.15 145.15h2.94v2.76h-2.94zM312.15 141.00h2.94v1.38h-2.94zM315.09 145.15h2.94v2.76h-2.94zM315.09 141.00h2.94v1.38h-2.94zM318.02 200.45h2.94v1.38h-2.94zM318.02 147.92h2.94v1.38h-2.94zM318.02 143.77h2.94v2.76h-2.94zM320.96 158.98h2.94v1.38h-2.94zM320.96 142.39h2.94v1.38h-2.94zM320.96 136.86h2.94v1.38h-2.94zM323.90 154.83h2.94v1.38h-2.94zM323.90 145.15h2.94v2.76h-2.94zM323.90 142.39h2.94v1.38h-2.94zM323.90 138.24h2.94v2.76h-2.94zM326.83 203.21h2.94v1.38h-2.94zM326.83 156.21h2.94v1.38h-2.94zM326.83 150.68h2.94v1.38h-2.94zM326.83 145.15h2.94v2.76h-2.94zM326.83 141.00h2.94v1.38h-2.94zM326.83 138.24h2.94v1.38h-2.94zM329.77 156.21h2.94v1.38h-2.94zM329.77 141.00h2.94v2.76h-2.94zM329.77 134.09h2.94v1.38h-2.94zM332.70 142.39h2.94v1.38h-2.94zM332.70 134.09h2.94v1.38h-2.94zM335.64 203.21h2.94v2.76h-2.94zM335.64 154.83h2.94v1.38h-2.94zM335.64 142.39h2.94v1.38h-2.94zM335.64 136.86h2.94v1.38h-2.94zM338.57 141.00h2.94v1.38h-2.94zM338.57 136.86h2.94v1.38h-2.94zM338.57 134.09h2.94v1.38h-2.94zM341.51 157.59h2.94v1.38h-2.94zM341.51 138.24h2.94v2.76h-2.94zM341.51 135.48h2.94v1.38h-2.94zM344.44 138.24h2.94v2.76h-2.94zM344.44 134.09h2.94v1.38h-2.94zM344.44 128.56h2.94v1.38h-2.94zM347.38 156.21h2.94v2.76h-2.94zM347.38 131.33h2.94v2.76h-2.94zM350.32 199.07h2.94v1.38h-2.94zM350.32 156.21h2.94v1.38h-2.94zM350.32 152.06h2.94v1.38h-2.94zM353.25 156.21h2.94v1.38h-2.94zM353.25 152.06h2.94v1.38h-2.94zM353.25 129.95h2.94v1.38h-2.94zM353.25 125.80h2.94v1.38h-2.94zM356.19 197.68h2.94v1.38h-2.94zM356.19 156.21h2.94v1.38h-2.94zM356.19 152.06h2.94v1.38h-2.94zM356.19 124.42h2.94v1.38h-2.94zM356.19 120.27h2.94v1.38h-2.94zM359.12 154.83h2.94v1.38h-2.94zM359.12 152.06h2.94v1.38h-2.94zM359.12 135.48h2.94v1.38h-2.94zM359.12 127.18h2.94v4.15h-2.94zM359.12 124.42h2.94v1.38h-2.94zM359.12 121.65h2.94v1.38h-2.94zM362.06 193.54h2.94v1.38h-2.94zM362.06 152.06h2.94v1.38h-2.94zM362.06 121.65h2.94v4.15h-2.94zM362.06 117.50h2.94v1.38h-2.94zM362.06 114.74h2.94v1.38h-2.94zM364.99 114.74h2.94v1.38h-2.94zM364.99 107.83h2.94v1.38h-2.94zM367.93 196.30h2.94v1.38h-2.94zM370.86 121.65h5.87v1.38h-5.87zM370.86 118.89h5.87v1.38h-5.87zM370.86 102.30h5.87v2.76h-5.87zM376.73 190.77h5.87v1.38h-5.87zM376.73 152.06h5.87v1.38h-5.87zM376.73 110.59h5.87v1.38h-5.87zM376.73 106.44h5.87v2.76h-5.87zM376.73 100.92h5.87v1.38h-5.87zM382.61 109.21h4.47v1.38h-4.47zM382.61 106.44h4.47v1.38h-4.47zM382.61 102.30h4.47v1.38h-4.47zM382.61 99.53h4.47v1.38h-4.47z"/>
<path fill="#ff9bff" d="M86.12 117.50h2.94v1.38h-2.94zM89.05 118.89h2.94v1.38h-2.94zM91.99 125.80h2.94v1.38h-2.94zM94.93 125.80h2.94v1.38h-2.94zM100.80 157.59h2.94v1.38h-2.94zM112.54 128.56h2.94v1.38h-2.94zM115.47 127.18h2.94v2.76h-2.94zM118.41 127.18h2.94v1.38h-2.94zM127.22 128.56h2.94v1.38h-2.94zM130.15 131.33h2.94v1.38h-2.94zM130.15 128.56h2.94v1.38h-2.94zM136.02 132.71h2.94v1.38h-2.94zM138.96 157.59h2.94v1.38h-2.94zM138.96 134.09h2.94v1.38h-2.94zM144.83 132.71h2.94v1.38h-2.94zM144.83 129.95h2.94v1.38h-2.94zM147.76 128.56h2.94v1.38h-2.94zM150.70 157.59h2.94v1.38h-2.94zM150.70 132.71h2.94v1.38h-2.94zM153.64 132.71h2.94v2.76h-2.94zM156.57 134.09h2.94v1.38h-2.94zM159.51 135.48h2.94v1.38h-2.94zM165.38 135.48h2.94v1.38h-2.94zM168.31 132.71h2.94v1.38h-2.94zM168.31 125.80h2.94v1.38h-2.94zM171.25 125.80h2.94v1.38h-2.94zM174.18 118.89h2.94v1.38h-2.94zM177.12 129.95h2.94v1.38h-2.94zM180.06 135.48h2.94v2.76h-2.94zM180.06 118.89h2.94v1.38h-2.94zM182.99 135.48h2.94v2.76h-2.94zM185.93 135.48h2.94v1.38h-2.94zM185.93 128.56h2.94v1.38h-2.94zM188.86 135.48h2.94v1.38h-2.94zM188.86 132.71h2.94v1.38h-2.94zM188.86 127.18h2.94v1.38h-2.94zM194.73 129.95h2.94v1.38h-2.94zM206.48 135.48h2.94v1.38h-2.94zM212.35 132.71h2.94v1.38h-2.94zM215.28 161.74h2.94v1.38h-2.94zM215.28 132.71h2.94v1.38h-2.94zM221.15 164.51h2.94v1.38h-2.94zM224.09 135.48h2.94v1.38h-2.94zM229.96 131.33h2.94v1.38h-2.94zM235.83 134.09h2.94v2.76h-2.94zM238.77 138.24h2.94v1.38h-2.94zM241.70 141.00h2.94v2.76h-2.94zM244.64 142.39h2.94v1.38h-2.94zM244.64 135.48h2.94v4.15h-2.94zM244.64 129.95h2.94v2.76h-2.94zM244.64 127.18h2.94v1.38h-2.94zM247.57 143.77h2.94v2.76h-2.94zM247.57 132.71h2.94v1.38h-2.94zM250.51 138.24h2.94v1.38h-2.94zM253.44 150.68h2.94v1.38h-2.94zM253.44 147.92h2.94v1.38h-2.94zM253.44 138.24h2.94v1.38h-2.94zM256.38 146.53h2.94v1.38h-2.94zM256.38 136.86h2.94v1.38h-2.94zM259.31 147.92h2.94v1.38h-2.94zM259.31 139.62h2.94v2.76h-2.94zM262.25 150.68h2.94v1.38h-2.94zM262.25 145.15h2.94v2.76h-2.94zM262.25 138.24h2.94v1.38h-2.94zM265.19 138.24h2.94v1.38h-2.94zM268.12 152.06h2.94v4.15h-2.94zM268.12 147.92h2.94v2.76h-2.94zM271.06 157.59h2.94v1.38h-2.94zM271.06 152.06h2.94v4.15h-2.94zM273.99 156.21h2.94v1.38h-2.94zM279.86 156.21h2.94v1.38h-2.94zM279.86 142.39h2.94v1.38h-2.94zM279.86 138.24h2.94v1.38h-2.94zM282.80 158.98h2.94v2.76h-2.94zM282.80 154.83h2.94v1.38h-2.94zM282.80 142.39h2.94v1.38h-2.94zM282.80 138.24h2.94v1.38h-2.94zM285.73 164.51h2.94v1.38h-2.94zM285.73 158.98h2.94v1.38h-2.94zM285.73 156.21h2.94v1.38h-2.94zM285.73 152.06h2.94v1.38h-2.94zM288.67 154.83h2.94v1.38h-2.94zM288.67 152.06h2.94v1.38h-2.94zM288.67 145.15h2.94v2.76h-2.94zM291.60 164.51h2.94v1.38h-2.94zM291.60 161.74h2.94v1.38h-2.94zM291.60 145.15h2.94v2.76h-2.94zM294.54 163.12h2.94v1.38h-2.94zM294.54 152.06h2.94v1.38h-2.94zM294.54 146.53h2.94v1.38h-2.94zM294.54 136.86h2.94v1.38h-2.94zM297.48 158.98h2.94v1.38h-2.94zM300.41 146.53h2.94v1.38h-2.94zM303.35 150.68h2.94v1.38h-2.94zM306.28 164.51h2.94v1.38h-2.94zM306.28 161.74h2.94v1.38h-2.94zM306.28 158.98h2.94v1.38h-2.94zM309.22 164.51h2.94v2.76h-2.94zM309.22 158.98h2.94v1.38h-2.94zM315.09 158.98h2.94v1.38h-2.94zM315.09 149.30h2.94v1.38h-2.94zM315.09 143.77h2.94v1.38h-2.94zM318.02 158.98h2.94v1.38h-2.94zM318.02 141.00h2.94v2.76h-2.94zM320.96 201.83h2.94v1.38h-2.94zM323.90 203.21h2.94v1.38h-2.94zM323.90 158.98h2.94v1.38h-2.94zM323.90 150.68h2.94v1.38h-2.94zM326.83 158.98h2.94v1.38h-2.94zM326.83 142.39h2.94v2.76h-2.94zM329.77 203.21h2.94v1.38h-2.94zM332.70 203.21h2.94v1.38h-2.94zM332.70 156.21h2.94v1.38h-2.94zM332.70 141.00h2.94v1.38h-2.94zM332.70 136.86h2.94v1.38h-2.94zM335.64 156.21h2.94v1.38h-2.94zM335.64 143.77h2.94v1.38h-2.94zM335.64 141.00h2.94v1.38h-2.94zM338.57 156.21h2.94v1.38h-2.94zM338.57 129.95h2.94v2.76h-2.94zM341.51 136.86h2.94v1.38h-2.94zM341.51 131.33h2.94v1.38h-2.94zM344.44 135.48h2.94v2.76h-2.94zM344.44 127.18h2.94v1.38h-2.94zM347.38 203.21h2.94v1.38h-2.94zM347.38 125.80h2.94v1.38h-2.94zM350.32 157.59h2.94v1.38h-2.94zM350.32 124.42h2.94v1.38h-2.94zM353.25 200.45h2.94v1.38h-2.94zM356.19 129.95h2.94v1.38h-2.94zM356.19 123.03h2.94v1.38h-2.94zM359.12 118.89h2.94v1.38h-2.94zM362.06 118.89h2.94v1.38h-2.94zM364.99 193.54h2.94v1.38h-2.94zM364.99 156.21h2.94v1.38h-2.94zM364.99 121.65h2.94v1.38h-2.94zM364.99 110.59h2.94v1.38h-2.94zM367.93 193.54h2.94v1.38h-2.94zM367.93 117.50h2.94v1.38h-2.94zM367.93 110.59h2.94v1.38h-2.94zM376.73 99.53h5.87v1.38h-5.87zM382.61 98.15h4.47v1.38h-4.47zM382.61 95.39h4.47v1.38h-4.47z"/>
<path fill="#005dff" d="M89.05 146.53h2.94v1.38h-2.94zM112.54 146.53h2.94v1.38h-2.94zM136.02 145.15h2.94v1.38h-2.94zM138.96 153.45h2.94v1.38h-2.94zM165.38 149.30h2.94v1.38h-2.94zM171.25 142.39h2.94v1.38h-2.94zM212.35 150.68h2.94v1.38h-2.94zM229.96 147.92h2.94v2.76h-2.94zM235.83 150.68h2.94v1.38h-2.94zM285.73 176.95h2.94v1.38h-2.94z"/>
<path fill="#3e00ff" d="M89.05 141.00h2.94v1.38h-2.94zM106.67 149.30h2.94v1.38h-2.94zM156.57 143.77h2.94v1.38h-2.94zM177.12 141.00h2.94v1.38h-2.94zM224.09 153.45h2.94v1.38h-2.94zM224.09 143.77h2.94v1.38h-2.94zM229.96 145.15h2.94v1.38h-2.94zM235.83 158.98h2.94v1.38h-2.94zM235.83 152.06h2.94v1.38h-2.94zM262.25 156.21h2.94v1.38h-2.94zM288.67 172.80h2.94v1.38h-2.94zM300.41 188.01h2.94v1.38h-2.94zM312.15 183.86h2.94v1.38h-2.94zM312.15 181.09h2.94v1.38h-2.94zM315.09 175.56h2.94v1.38h-2.94zM323.90 179.71h2.94v1.38h-2.94zM323.90 176.95h2.94v1.38h-2.94zM326.83 181.09h2.94v1.38h-2.94zM326.83 176.95h2.94v1.38h-2.94zM326.83 171.42h2.94v1.38h-2.94zM329.77 179.71h2.94v1.38h-2.94zM329.77 176.95h2.94v1.38h-2.94zM329.77 172.80h2.94v1.38h-2.94zM335.64 172.80h2.94v1.38h-2.94zM335.64 170.04h2.94v1.38h-2.94zM338.57 175.56h2.94v1.38h-2.94zM341.51 170.04h2.94v1.38h-2.94zM344.44 167.27h2.94v1.38h-2.94zM350.32 165.89h2.94v1.38h-2.94zM359.12 172.80h2.94v1.38h-2.94zM367.93 168.65h2.94v1.38h-2.94zM376.73 158.98h5.87v1.38h-5.87z"/>
<path fill="#003eff" d="M89.05 138.24h2.94v1.38h-2.94zM197.67 145.15h2.94v1.38h-2.94zM206.48 152.06h2.94v1.38h-2.94zM212.35 149.30h2.94v1.38h-2.94zM282.80 174.18h2.94v2.76h-2.94z"/>
<path fill="#1300ff" d="M89.05 134.09h2.94v1.38h-2.94zM91.99 145.15h2.94v1.38h-2.94zM94.93 138.24h2.94v1.38h-2.94zM97.86 139.62h2.94v1.38h-2.94zM103.73 139.62h2.94v1.38h-2.94zM106.67 146.53h2.94v1.38h-2.94zM115.47 147.92h2.94v1.38h-2.94zM121.35 149.30h2.94v1.38h-2.94zM127.22 136.86h2.94v1.38h-2.94zM130.15 141.00h2.94v1.38h-2.94zM147.76 146.53h2.94v1.38h-2.94zM215.28 143.77h2.94v1.38h-2.94zM229.96 157.59h2.94v1.38h-2.94zM291.60 186.62h2.94v1.38h-2.94zM294.54 181.09h2.94v1.38h-2.94zM297.48 181.09h2.94v1.38h-2.94zM300.41 183.86h2.94v1.38h-2.94zM300.41 174.18h2.94v1.38h-2.94zM303.35 175.56h2.94v1.38h-2.94zM306.28 186.62h2.94v1.38h-2.94zM306.28 183.86h2.94v1.38h-2.94zM320.96 174.18h2.94v1.38h-2.94zM323.90 174.18h2.94v1.38h-2.94zM326.83 172.80h2.94v1.38h-2.94zM332.70 171.42h2.94v1.38h-2.94zM341.51 168.65h2.94v1.38h-2.94zM350.32 168.65h2.94v1.38h-2.94zM359.12 164.51h2.94v1.38h-2.94zM367.93 171.42h2.94v1.38h-2.94zM370.86 167.27h5.87v1.38h-5.87zM376.73 171.42h5.87v1.38h-5.87zM376.73 163.12h5.87v1.38h-5.87z"/>
<path fill="#1c00ff" d="M89.05 129.95h2.94v1.38h-2.94zM94.93 146.53h2.94v1.38h-2.94zM94.93 139.62h2.94v1.38h-2.94zM100.80 150.68h2.94v1.38h-2.94zM103.73 147.92h2.94v1.38h-2.94zM118.41 149.30h2.94v1.38h-2.94zM130.15 139.62h2.94v1.38h-2.94zM138.96 154.83h2.94v1.38h-2.94zM138.96 143.77h2.94v1.38h-2.94zM147.76 154.83h2.94v1.38h-2.94zM162.44 142.39h2.94v1.38h-2.94zM200.60 153.45h2.94v1.38h-2.94zM218.22 143.77h2.94v1.38h-2.94zM221.15 160.36h2.94v1.38h-2.94zM221.15 153.45h2.94v1.38h-2.94zM229.96 146.53h2.94v1.38h-2.94zM235.83 157.59h2.94v1.38h-2.94zM238.77 156.21h2.94v1.38h-2.94zM238.77 147.92h2.94v1.38h-2.94zM241.70 160.36h2.94v1.38h-2.94zM244.64 157.59h2.94v1.38h-2.94zM288.67 185.24h2.94v1.38h-2.94zM291.60 179.71h2.94v1.38h-2.94zM294.54 176.95h2.94v1.38h-2.94zM297.48 186.62h2.94v1.38h-2.94zM303.35 178.33h2.94v1.38h-2.94zM306.28 185.24h2.94v1.38h-2.94zM306.28 181.09h2.94v1.38h-2.94zM306.28 176.95h2.94v1.38h-2.94zM309.22 181.09h2.94v1.38h-2.94zM309.22 175.56h2.94v1.38h-2.94zM323.90 172.80h2.94v1.38h-2.94zM326.83 179.71h2.94v1.38h-2.94zM356.19 163.12h2.94v1.38h-2.94zM364.99 170.04h2.94v1.38h-2.94zM370.86 163.12h5.87v1.38h-5.87z"/>
<path fill="#0063ff" d="M91.99 147.92h2.94v1.38h-2.94zM91.99 143.77h2.94v1.38h-2.94zM94.93 149.30h2.94v1.38h-2.94zM97.86 142.39h2.94v1.38h-2.94zM115.47 146.53h2.94v1.38h-2.94zM115.47 141.00h2.94v1.38h-2.94zM118.41 146.53h2.94v1.38h-2.94zM136.02 153.45h2.94v1.38h-2.94zM136.02 150.68h2.94v1.38h-2.94zM138.96 152.06h2.94v1.38h-2.94zM144.83 147.92h2.94v1.38h-2.94zM162.44 150.68h2.94v1.38h-2.94zM168.31 145.15h2.94v1.38h-2.94zM185.93 143.77h2.94v1.38h-2.94zM279.86 176.95h2.94v1.38h-2.94zM288.67 183.86h2.94v1.38h-2.94z"/>
<path fill="#00d6ff" d="M91.99 142.39h2.94v1.38h-2.94zM141.89 147.92h2.94v1.38h-2.94zM156.57 153.45h2.94v1.38h-2.94zM168.31 152.06h2.94v1.38h-2.94zM194.73 150.68h2.94v1.38h-2.94zM241.70 153.45h2.94v1.38h-2.94zM244.64 161.74h2.94v1.38h-2.94zM262.25 157.59h2.94v1.38h-2.94z"/>
<path fill="#8900ff" d="M91.99 134.09h2.94v1.38h-2.94zM103.73 135.48h2.94v1.38h-2.94zM115.47 150.68h2.94v1.38h-2.94zM121.35 152.06h2.94v1.38h-2.94zM136.02 141.00h2.94v1.38h-2.94zM150.70 143.77h2.94v1.38h-2.94zM165.38 154.83h2.94v1.38h-2.94zM188.86 152.06h2.94v1.38h-2.94zM191.80 141.00h2.94v1.38h-2.94zM200.60 142.39h2.94v1.38h-2.94zM200.60 139.62h2.94v1.38h-2.94zM203.54 154.83h2.94v1.38h-2.94zM224.09 161.74h2.94v1.38h-2.94zM232.89 142.39h2.94v1.38h-2.94zM253.44 153.45h2.94v1.38h-2.94zM276.93 163.12h2.94v1.38h-2.94zM291.60 171.42h2.94v1.38h-2.94zM294.54 171.42h2.94v1.38h-2.94zM297.48 189.39h2.94v1.38h-2.94zM306.28 172.80h2.94v1.38h-2.94zM309.22 170.04h2.94v1.38h-2.94zM312.15 186.62h2.94v1.38h-2.94zM315.09 171.42h2.94v1.38h-2.94zM315.09 168.65h2.94v1.38h-2.94zM318.02 171.42h2.94v1.38h-2.94zM323.90 167.27h2.94v1.38h-2.94zM326.83 175.56h2.94v1.38h-2.94zM326.83 165.89h2.94v1.38h-2.94zM329.77 182.48h2.94v1.38h-2.94zM329.77 164.51h2.94v1.38h-2.94zM332.70 164.51h2.94v1.38h-2.94zM338.57 179.71h2.94v1.38h-2.94zM338.57 164.51h2.94v2.76h-2.94zM347.38 179.71h2.94v1.38h-2.94zM350.32 176.95h2.94v1.38h-2.94zM350.32 164.51h2.94v1.38h-2.94zM353.25 176.95h2.94v1.38h-2.94zM356.19 179.71h2.94v1.38h-2.94zM362.06 178.33h2.94v1.38h-2.94zM364.99 174.18h2.94v1.38h-2.94zM367.93 175.56h2.94v1.38h-2.94z"/>
<path fill="#b400ff" d="M91.99 131.33h2.94v1.38h-2.94zM97.86 154.83h2.94v1.38h-2.94zM115.47 157.59h2.94v1.38h-2.94zM115.47 152.06h2.94v1.38h-2.94zM130.15 132.71h2.94v1.38h-2.94zM153.64 156.21h2.94v1.38h-2.94zM191.80 138.24h2.94v1.38h-2.94zM206.48 139.62h2.94v1.38h-2.94zM221.15 161.74h2.94v1.38h-2.94zM241.70 146.53h2.94v1.38h-2.94zM250.51 152.06h2.94v1.38h-2.94zM273.99 172.80h2.94v1.38h-2.94zM279.86 161.74h2.94v2.76h-2.94zM294.54 189.39h2.94v1.38h-2.94zM297.48 170.04h2.94v1.38h-2.94zM306.28 168.65h2.94v1.38h-2.94zM312.15 168.65h2.94v1.38h-2.94zM323.90 164.51h2.94v1.38h-2.94zM344.44 181.09h2.94v1.38h-2.94zM344.44 161.74h2.94v1.38h-2.94zM356.19 189.39h2.94v1.38h-2.94zM356.19 181.09h2.94v1.38h-2.94zM359.12 176.95h2.94v1.38h-2.94zM362.06 181.09h2.94v1.38h-2.94zM364.99 183.86h2.94v1.38h-2.94zM367.93 179.71h2.94v1.38h-2.94zM370.86 176.95h5.87v1.38h-5.87zM376.73 185.24h5.87v1.38h-5.87zM376.73 176.95h5.87v1.38h-5.87z"/>
<path fill="#004aff" d="M94.93 147.92h2.94v1.38h-2.94zM159.51 145.15h2.94v1.38h-2.94zM215.28 152.06h2.94v1.38h-2.94zM224.09 149.30h2.94v1.38h-2.94zM232.89 147.92h2.94v1.38h-2.94zM238.77 149.30h2.94v1.38h-2.94zM250.51 156.21h2.94v1.38h-2.94zM271.06 161.74h2.94v1.38h-2.94zM288.67 175.56h2.94v1.38h-2.94zM291.60 183.86h2.94v1.38h-2.94z"/>
<path fill="#0050ff" d="M94.93 143.77h2.94v1.38h-2.94zM133.09 149.30h2.94v1.38h-2.94zM180.06 149.30h2.94v1.38h-2.94zM188.86 150.68h2.94v1.38h-2.94zM206.48 145.15h2.94v1.38h-2.94zM291.60 185.24h2.94v1.38h-2.94zM297.48 185.24h2.94v1.38h-2.94z"/>
<path fill="#008aff" d="M94.93 142.39h2.94v1.38h-2.94zM133.09 145.15h2.94v1.38h-2.94zM159.51 147.92h2.94v1.38h-2.94zM171.25 146.53h2.94v1.38h-2.94zM271.06 168.65h2.94v1.38h-2.94z"/>
<path fill="#bd00ff" d="M97.86 152.06h2.94v1.38h-2.94zM106.67 134.09h2.94v1.38h-2.94zM109.60 134.09h2.94v1.38h-2.94zM112.54 157.59h2.94v1.38h-2.94zM115.47 134.09h2.94v1.38h-2.94zM124.28 153.45h2.94v1.38h-2.94zM136.02 138.24h2.94v1.38h-2.94zM147.76 139.62h2.94v1.38h-2.94zM188.86 138.24h2.94v1.38h-2.94zM191.80 142.39h2.94v1.38h-2.94zM191.80 139.62h2.94v1.38h-2.94zM194.73 153.45h2.94v1.38h-2.94zM197.67 138.24h2.94v1.38h-2.94zM215.28 160.36h2.94v1.38h-2.94zM227.02 164.51h2.94v1.38h-2.94zM256.38 154.83h2.94v1.38h-2.94zM262.25 154.83h2.94v1.38h-2.94zM288.67 170.04h2.94v1.38h-2.94zM294.54 170.04h2.94v1.38h-2.94zM300.41 189.39h2.94v1.38h-2.94zM318.02 186.62h2.94v1.38h-2.94zM320.96 167.27h2.94v1.38h-2.94zM323.90 183.86h2.94v1.38h-2.94zM326.83 185.24h2.94v2.76h-2.94zM335.64 183.86h2.94v1.38h-2.94zM335.64 167.27h2.94v1.38h-2.94zM338.57 185.24h2.94v1.38h-2.94zM338.57 182.48h2.94v1.38h-2.94zM338.57 167.27h2.94v1.38h-2.94zM341.51 189.39h2.94v1.38h-2.94zM344.44 185.24h2.94v1.38h-2.94zM350.32 182.48h2.94v1.38h-2.94zM350.32 161.74h2.94v1.38h-2.94zM353.25 181.09h2.94v2.76h-2.94zM353.25 160.36h2.94v2.76h-2.94zM367.93 183.86h2.94v1.38h-2.94zM370.86 183.86h5.87v1.38h-5.87zM376.73 178.33h5.87v1.38h-5.87z"/>
<path fill="#0031ff" d="M97.86 147.92h2.94v1.38h-2.94zM127.22 150.68h2.94v1.38h-2.94zM147.76 147.92h2.94v1.38h-2.94zM150.70 154.83h2.94v1.38h-2.94zM212.35 145.15h2.94v1.38h-2.94zM215.28 146.53h2.94v1.38h-2.94zM244.64 152.06h2.94v1.38h-2.94zM294.54 185.24h2.94v1.38h-2.94zM300.41 185.24h2.94v1.38h-2.94zM312.15 182.48h2.94v1.38h-2.94zM382.61 168.65h4.47v1.38h-4.47zM382.61 163.12h4.47v1.38h-4.47z"/>
<path fill="#0083ff" d="M97.86 141.00h2.94v1.38h-2.94zM100.80 143.77h2.94v1.38h-2.94zM103.73 143.77h2.94v1.38h-2.94zM127.22 145.15h2.94v1.38h-2.94zM133.09 152.06h2.94v1.38h-2.94zM171.25 150.68h2.94v1.38h-2.94zM209.41 147.92h2.94v1.38h-2.94zM218.22 150.68h2.94v1.38h-2.94z"/>
<path fill="#d600ff" d="M97.86 132.71h2.94v1.38h-2.94zM100.80 154.83h2.94v1.38h-2.94zM100.80 131.33h2.94v2.76h-2.94zM109.60 157.59h2.94v1.38h-2.94zM121.35 131.33h2.94v1.38h-2.94zM127.22 134.09h2.94v1.38h-2.94zM130.15 135.48h2.94v1.38h-2.94zM133.09 154.83h2.94v1.38h-2.94zM133.09 135.48h2.94v1.38h-2.94zM162.44 138.24h2.94v1.38h-2.94zM171.25 136.86h2.94v1.38h-2.94zM174.18 136.86h2.94v1.38h-2.94zM182.99 138.24h2.94v1.38h-2.94zM209.41 138.24h2.94v1.38h-2.94zM212.35 160.36h2.94v1.38h-2.94zM212.35 138.24h2.94v1.38h-2.94zM229.96 164.51h2.94v1.38h-2.94zM229.96 139.62h2.94v1.38h-2.94zM232.89 139.62h2.94v1.38h-2.94zM238.77 143.77h2.94v1.38h-2.94zM241.70 145.15h2.94v1.38h-2.94zM273.99 141.00h2.94v1.38h-2.94zM276.93 175.56h2.94v1.38h-2.94zM276.93 141.00h2.94v1.38h-2.94zM282.80 161.74h2.94v2.76h-2.94zM282.80 141.00h2.94v1.38h-2.94zM303.35 168.65h2.94v1.38h-2.94zM320.96 164.51h2.94v1.38h-2.94zM329.77 185.24h2.94v1.38h-2.94zM332.70 197.68h2.94v1.38h-2.94zM335.64 194.92h2.94v1.38h-2.94zM338.57 193.54h2.94v1.38h-2.94zM338.57 189.39h2.94v1.38h-2.94zM341.51 185.24h2.94v1.38h-2.94zM341.51 182.48h2.94v1.38h-2.94zM341.51 163.12h2.94v1.38h-2.94zM341.51 158.98h2.94v1.38h-2.94zM344.44 194.92h2.94v1.38h-2.94zM344.44 182.48h2.94v2.76h-2.94zM344.44 163.12h2.94v1.38h-2.94zM347.38 201.83h2.94v1.38h-2.94zM347.38 181.09h2.94v1.38h-2.94zM350.32 189.39h2.94v1.38h-2.94zM362.06 188.01h2.94v1.38h-2.94zM364.99 188.01h2.94v1.38h-2.94z"/>
<path fill="#00a3ff" d="M100.80 142.39h2.94v1.38h-2.94zM241.70 163.12h2.94v1.38h-2.94zM241.70 152.06h2.94v1.38h-2.94zM247.57 156.21h2.94v1.38h-2.94z"/>
<path fill="#8100ff" d="M100.80 135.48h2.94v1.38h-2.94zM106.67 150.68h2.94v1.38h-2.94zM112.54 150.68h2.94v1.38h-2.94zM153.64 145.15h2.94v1.38h-2.94zM165.38 141.00h2.94v1.38h-2.94zM209.41 141.00h2.94v1.38h-2.94zM238.77 145.15h2.94v1.38h-2.94zM244.64 149.30h2.94v1.38h-2.94zM297.48 171.42h2.94v1.38h-2.94zM309.22 174.18h2.94v1.38h-2.94zM332.70 179.71h2.94v1.38h-2.94zM335.64 164.51h2.94v1.38h-2.94zM341.51 164.51h2.94v1.38h-2.94zM347.38 171.42h2.94v1.38h-2.94zM353.25 174.18h2.94v1.38h-2.94zM353.25 170.04h2.94v1.38h-2.94zM362.06 171.42h2.94v1.38h-2.94zM367.93 160.36h2.94v1.38h-2.94z"/>
<path fill="#00fbff" d="M103.73 142.39h2.94v1.38h-2.94zM144.83 152.06h2.94v1.38h-2.94zM197.67 146.53h2.94v1.38h-2.94zM271.06 163.12h2.94v1.38h-2.94z"/>
<path fill="#00c9ff" d="M106.67 143.77h2.94v1.38h-2.94zM162.44 153.45h2.94v1.38h-2.94zM250.51 161.74h2.94v1.38h-2.94zM285.73 181.09h2.94v1.38h-2.94z"/>
<path fill="#9c00ff" d="M106.67 136.86h2.94v1.38h-2.94zM109.60 152.06h2.94v1.38h-2.94zM115.47 135.48h2.94v1.38h-2.94zM127.22 153.45h2.94v1.38h-2.94zM136.02 154.83h2.94v1.38h-2.94zM141.89 142.39h2.94v1.38h-2.94zM168.31 139.62h2.94v1.38h-2.94zM174.18 139.62h2.94v1.38h-2.94zM177.12 152.06h2.94v1.38h-2.94zM177.12 138.24h2.94v1.38h-2.94zM194.73 141.00h2.94v2.76h-2.94zM197.67 139.62h2.94v1.38h-2.94zM235.83 143.77h2.94v1.38h-2.94zM250.51 163.12h2.94v1.38h-2.94zM253.44 154.83h2.94v1.38h-2.94zM265.19 156.21h2.94v1.38h-2.94zM273.99 161.74h2.94v1.38h-2.94zM285.73 167.27h2.94v1.38h-2.94zM294.54 188.01h2.94v1.38h-2.94zM309.22 188.01h2.94v1.38h-2.94zM318.02 183.86h2.94v1.38h-2.94zM318.02 168.65h2.94v1.38h-2.94zM320.96 168.65h2.94v1.38h-2.94zM323.90 168.65h2.94v1.38h-2.94zM332.70 183.86h2.94v1.38h-2.94zM332.70 168.65h2.94v1.38h-2.94zM335.64 168.65h2.94v1.38h-2.94zM347.38 163.12h2.94v1.38h-2.94zM353.25 179.71h2.94v1.38h-2.94zM359.12 174.18h2.94v1.38h-2.94zM362.06 160.36h2.94v1.38h-2.94zM364.99 178.33h2.94v1.38h-2.94zM364.99 160.36h2.94v1.38h-2.94zM367.93 158.98h2.94v1.38h-2.94zM382.61 174.18h4.47v1.38h-4.47z"/>
<path fill="#00e2ff" d="M109.60 143.77h2.94v1.38h-2.94zM127.22 143.77h2.94v1.38h-2.94zM138.96 147.92h2.94v1.38h-2.94zM147.76 149.30h2.94v1.38h-2.94zM150.70 147.92h2.94v1.38h-2.94zM203.54 147.92h2.94v1.38h-2.94zM209.41 150.68h2.94v1.38h-2.94z"/>
<path fill="#ff82ff" d="M112.54 158.98h2.94v1.38h-2.94zM112.54 127.18h2.94v1.38h-2.94zM124.28 128.56h2.94v1.38h-2.94zM127.22 156.21h2.94v1.38h-2.94zM147.76 157.59h2.94v1.38h-2.94zM159.51 132.71h2.94v2.76h-2.94zM162.44 132.71h2.94v2.76h-2.94zM165.38 125.80h2.94v1.38h-2.94zM168.31 134.09h2.94v2.76h-2.94zM171.25 134.09h2.94v1.38h-2.94zM174.18 125.80h2.94v1.38h-2.94zM177.12 134.09h2.94v1.38h-2.94zM177.12 125.80h2.94v1.38h-2.94zM180.06 125.80h2.94v2.76h-2.94zM182.99 125.80h2.94v2.76h-2.94zM185.93 136.86h2.94v1.38h-2.94zM188.86 128.56h2.94v1.38h-2.94zM227.02 136.86h2.94v1.38h-2.94zM232.89 131.33h2.94v1.38h-2.94zM238.77 129.95h2.94v1.38h-2.94zM241.70 131.33h2.94v1.38h-2.94zM244.64 143.77h2.94v1.38h-2.94zM247.57 138.24h2.94v1.38h-2.94zM247.57 135.48h2.94v1.38h-2.94zM253.44 146.53h2.94v1.38h-2.94zM253.44 141.00h2.94v1.38h-2.94zM259.31 153.45h2.94v1.38h-2.94zM259.31 149.30h2.94v1.38h-2.94zM262.25 141.00h2.94v1.38h-2.94zM265.19 150.68h2.94v1.38h-2.94zM265.19 147.92h2.94v1.38h-2.94zM265.19 139.62h2.94v2.76h-2.94zM268.12 146.53h2.94v1.38h-2.94zM268.12 139.62h2.94v1.38h-2.94zM271.06 146.53h2.94v1.38h-2.94zM271.06 142.39h2.94v1.38h-2.94zM271.06 139.62h2.94v1.38h-2.94zM273.99 158.98h2.94v1.38h-2.94zM273.99 142.39h2.94v1.38h-2.94zM273.99 139.62h2.94v1.38h-2.94zM276.93 160.36h2.94v1.38h-2.94zM276.93 154.83h2.94v1.38h-2.94zM276.93 150.68h2.94v1.38h-2.94zM279.86 136.86h2.94v1.38h-2.94zM282.80 150.68h2.94v1.38h-2.94zM285.73 160.36h2.94v1.38h-2.94zM285.73 154.83h2.94v1.38h-2.94zM285.73 142.39h2.94v1.38h-2.94zM288.67 165.89h2.94v1.38h-2.94zM288.67 142.39h2.94v1.38h-2.94zM288.67 136.86h2.94v1.38h-2.94zM291.60 158.98h2.94v1.38h-2.94zM291.60 136.86h2.94v1.38h-2.94zM294.54 161.74h2.94v1.38h-2.94zM294.54 158.98h2.94v1.38h-2.94zM297.48 161.74h2.94v1.38h-2.94zM297.48 135.48h2.94v1.38h-2.94zM300.41 161.74h2.94v1.38h-2.94zM300.41 150.68h2.94v1.38h-2.94zM303.35 193.54h2.94v1.38h-2.94zM303.35 165.89h2.94v1.38h-2.94zM303.35 138.24h2.94v1.38h-2.94zM309.22 139.62h2.94v2.76h-2.94zM312.15 197.68h2.94v1.38h-2.94zM312.15 143.77h2.94v1.38h-2.94zM312.15 138.24h2.94v2.76h-2.94zM315.09 142.39h2.94v1.38h-2.94zM318.02 136.86h2.94v1.38h-2.94zM320.96 196.30h2.94v1.38h-2.94zM320.96 193.54h2.94v1.38h-2.94zM323.90 200.45h2.94v1.38h-2.94zM323.90 193.54h2.94v1.38h-2.94zM326.83 199.07h2.94v1.38h-2.94zM326.83 193.54h2.94v1.38h-2.94zM329.77 143.77h2.94v1.38h-2.94zM332.70 204.60h2.94v1.38h-2.94zM341.51 199.07h2.94v1.38h-2.94zM344.44 199.07h2.94v1.38h-2.94zM344.44 129.95h2.94v2.76h-2.94zM347.38 199.07h2.94v1.38h-2.94zM350.32 197.68h2.94v1.38h-2.94zM350.32 135.48h2.94v1.38h-2.94zM350.32 132.71h2.94v1.38h-2.94zM350.32 127.18h2.94v1.38h-2.94zM353.25 196.30h2.94v4.15h-2.94zM353.25 123.03h2.94v2.76h-2.94zM356.19 199.07h2.94v1.38h-2.94zM356.19 157.59h2.94v1.38h-2.94zM356.19 132.71h2.94v1.38h-2.94zM356.19 121.65h2.94v1.38h-2.94zM359.12 197.68h2.94v1.38h-2.94zM359.12 192.15h2.94v1.38h-2.94zM362.06 197.68h2.94v1.38h-2.94zM364.99 196.30h2.94v1.38h-2.94zM364.99 117.50h2.94v1.38h-2.94zM364.99 113.36h2.94v1.38h-2.94zM367.93 194.92h2.94v1.38h-2.94zM367.93 113.36h2.94v1.38h-2.94zM367.93 106.44h2.94v1.38h-2.94zM370.86 114.74h5.87v1.38h-5.87zM382.61 188.01h4.47v1.38h-4.47zM382.61 103.68h4.47v1.38h-4.47z"/>
<path fill="#9300ff" d="M112.54 152.06h2.94v1.38h-2.94zM112.54 135.48h2.94v1.38h-2.94zM138.96 142.39h2.94v1.38h-2.94zM144.83 143.77h2.94v1.38h-2.94zM159.51 142.39h2.94v1.38h-2.94zM171.25 139.62h2.94v2.76h-2.94zM174.18 141.00h2.94v1.38h-2.94zM197.67 153.45h2.94v1.38h-2.94zM197.67 141.00h2.94v2.76h-2.94zM203.54 139.62h2.94v1.38h-2.94zM212.35 158.98h2.94v1.38h-2.94zM215.28 141.00h2.94v1.38h-2.94zM227.02 163.12h2.94v1.38h-2.94zM227.02 142.39h2.94v1.38h-2.94zM229.96 142.39h2.94v1.38h-2.94zM232.89 164.51h2.94v1.38h-2.94zM279.86 164.51h2.94v1.38h-2.94zM297.48 188.01h2.94v1.38h-2.94zM312.15 171.42h2.94v1.38h-2.94zM318.02 170.04h2.94v1.38h-2.94zM326.83 164.51h2.94v1.38h-2.94zM332.70 182.48h2.94v1.38h-2.94zM341.51 167.27h2.94v1.38h-2.94zM359.12 160.36h2.94v2.76h-2.94zM362.06 174.18h2.94v2.76h-2.94zM364.99 176.95h2.94v1.38h-2.94zM367.93 176.95h2.94v1.38h-2.94zM376.73 172.80h5.87v1.38h-5.87zM382.61 170.04h4.47v1.38h-4.47z"/>
<path fill="#00efff" d="M112.54 143.77h2.94v1.38h-2.94zM121.35 143.77h2.94v1.38h-2.94zM191.80 145.15h2.94v1.38h-2.94zM244.64 153.45h2.94v1.38h-2.94z"/>
<path fill="#00afff" d="M112.54 142.39h2.94v1.38h-2.94zM118.41 143.77h2.94v1.38h-2.94zM121.35 145.15h2.94v1.38h-2.94zM130.15 143.77h2.94v1.38h-2.94zM159.51 150.68h2.94v1.38h-2.94zM177.12 143.77h2.94v1.38h-2.94zM188.86 149.30h2.94v1.38h-2.94zM200.60 152.06h2.94v1.38h-2.94zM244.64 163.12h2.94v1.38h-2.94zM268.12 160.36h2.94v1.38h-2.94zM279.86 174.18h2.94v1.38h-2.94z"/>
<path fill="#00cfff" d="M115.47 143.77h2.94v1.38h-2.94zM174.18 143.77h2.94v1.38h-2.94zM188.86 145.15h2.94v1.38h-2.94zM206.48 149.30h2.94v1.38h-2.94z"/>
<path fill="#00b5ff" d="M118.41 142.39h2.94v1.38h-2.94zM141.89 152.06h2.94v1.38h-2.94zM150.70 149.30h2.94v1.38h-2.94zM162.44 146.53h2.94v1.38h-2.94zM276.93 165.89h2.94v1.38h-2.94z"/>
<path fill="#007dff" d="M118.41 141.00h2.94v1.38h-2.94zM124.28 145.15h2.94v1.38h-2.94zM156.57 147.92h2.94v1.38h-2.94zM174.18 146.53h2.94v1.38h-2.94zM177.12 142.39h2.94v1.38h-2.94zM209.41 149.30h2.94v1.38h-2.94zM212.35 152.06h2.94v1.38h-2.94zM232.89 149.30h2.94v1.38h-2.94zM247.57 160.36h2.94v1.38h-2.94z"/>
<path fill="#0096ff" d="M121.35 142.39h2.94v1.38h-2.94zM174.18 149.30h2.94v1.38h-2.94zM177.12 145.15h2.94v1.38h-2.94zM203.54 146.53h2.94v1.38h-2.94zM206.48 146.53h2.94v1.38h-2.94zM209.41 152.06h2.94v1.38h-2.94zM227.02 149.30h2.94v1.38h-2.94zM235.83 149.30h2.94v1.38h-2.94zM279.86 170.04h2.94v1.38h-2.94zM282.80 178.33h2.94v1.38h-2.94z"/>
<path fill="#00fffc" d="M130.15 145.15h2.94v1.38h-2.94zM168.31 150.68h2.94v1.38h-2.94z"/>
<path fill="#00ffe9" d="M133.09 147.92h2.94v1.38h-2.94zM144.83 149.30h2.94v1.38h-2.94zM194.73 149.30h2.94v1.38h-2.94zM282.80 176.95h2.94v1.38h-2.94z"/>
<path fill="#00ffef" d="M133.09 146.53h2.94v1.38h-2.94zM268.12 161.74h2.94v1.38h-2.94z"/>
<path fill="#00ffe3" d="M136.02 149.30h2.94v1.38h-2.94zM141.89 149.30h2.94v1.38h-2.94z"/>
<path fill="#00ffa9" d="M138.96 150.68h2.94v1.38h-2.94zM197.67 150.68h2.94v1.38h-2.94zM203.54 149.30h2.94v1.38h-2.94z"/>
<path fill="#00ffc3" d="M138.96 149.30h2.94v1.38h-2.94z"/>
<path fill="#00bdff" d="M141.89 153.45h2.94v1.38h-2.94zM147.76 153.45h2.94v1.38h-2.94zM156.57 149.30h2.94v1.38h-2.94zM168.31 149.30h2.94v1.38h-2.94zM171.25 149.30h2.94v1.38h-2.94zM180.06 147.92h2.94v1.38h-2.94zM180.06 142.39h2.94v1.38h-2.94zM182.99 149.30h2.94v1.38h-2.94zM276.93 171.42h2.94v1.38h-2.94zM276.93 168.65h2.94v1.38h-2.94zM282.80 179.71h2.94v1.38h-2.94zM285.73 179.71h2.94v1.38h-2.94z"/>
<path fill="#00ff8a" d="M141.89 150.68h2.94v1.38h-2.94zM180.06 145.15h2.94v1.38h-2.94z"/>
<path fill="#00c3ff" d="M144.83 153.45h2.94v1.38h-2.94zM165.38 150.68h2.94v1.38h-2.94zM194.73 145.15h2.94v1.38h-2.94zM200.60 150.68h2.94v1.38h-2.94z"/>
<path fill="#2eff00" d="M144.83 150.68h2.94v1.38h-2.94z"/>
<path fill="#00fff5" d="M147.76 152.06h2.94v1.38h-2.94zM206.48 147.92h2.94v1.38h-2.94z"/>
<path fill="#6dff00" d="M147.76 150.68h2.94v1.38h-2.94z"/>
<path fill="#00ff5d" d="M150.70 153.45h2.94v1.38h-2.94zM276.93 170.04h2.94v1.38h-2.94z"/>
<path fill="#00ff7e" d="M150.70 150.68h2.94v1.38h-2.94zM182.99 146.53h2.94v1.38h-2.94zM197.67 149.30h2.94v1.38h-2.94zM271.06 165.89h2.94v1.38h-2.94z"/>
<path fill="#00ff57" d="M153.64 153.45h2.94v1.38h-2.94zM185.93 147.92h2.94v1.38h-2.94zM273.99 168.65h2.94v1.38h-2.94z"/>
<path fill="#00ff84" d="M153.64 150.68h2.94v1.38h-2.94zM250.51 157.59h2.94v1.38h-2.94zM256.38 161.74h2.94v1.38h-2.94z"/>
<path fill="#00ffd6" d="M156.57 150.68h2.94v1.38h-2.94zM253.44 157.59h2.94v1.38h-2.94z"/>
<path fill="#0090ff" d="M159.51 152.06h2.94v1.38h-2.94zM159.51 149.30h2.94v1.38h-2.94zM238.77 150.68h2.94v1.38h-2.94zM244.64 154.83h2.94v1.38h-2.94zM253.44 161.74h2.94v1.38h-2.94zM285.73 182.48h2.94v1.38h-2.94zM288.67 181.09h2.94v1.38h-2.94z"/>
<path fill="#00ffb7" d="M159.51 146.53h2.94v1.38h-2.94z"/>
<path fill="#00f5ff" d="M162.44 152.06h2.94v1.38h-2.94zM171.25 143.77h2.94v1.38h-2.94zM259.31 157.59h2.94v1.38h-2.94zM276.93 167.27h2.94v1.38h-2.94z"/>
<path fill="#00ff9d" d="M165.38 152.06h2.94v1.38h-2.94zM185.93 145.15h2.94v1.38h-2.94z"/>
<path fill="#00ffa3" d="M174.18 147.92h2.94v1.38h-2.94zM177.12 146.53h2.94v1.38h-2.94zM271.06 164.51h2.94v1.38h-2.94z"/>
<path fill="#00ff97" d="M177.12 147.92h2.94v1.38h-2.94zM247.57 157.59h2.94v1.38h-2.94z"/>
<path fill="#08ff00" d="M180.06 146.53h2.94v1.38h-2.94z"/>
<path fill="#00ffca" d="M182.99 147.92h2.94v1.38h-2.94zM182.99 145.15h2.94v1.38h-2.94zM268.12 164.51h2.94v1.38h-2.94z"/>
<path fill="#00ff6a" d="M185.93 146.53h2.94v1.38h-2.94zM273.99 167.27h2.94v1.38h-2.94z"/>
<path fill="#41ff00" d="M188.86 147.92h2.94v1.38h-2.94z"/>
<path fill="#28ff00" d="M188.86 146.53h2.94v1.38h-2.94z"/>
<path fill="#f8ff00" d="M191.80 147.92h2.94v1.38h-2.94z"/>
<path fill="#00ff1e" d="M191.80 146.53h2.94v1.38h-2.94zM259.31 158.98h2.94v1.38h-2.94zM271.06 167.27h2.94v1.38h-2.94z"/>
<path fill="#01ff00" d="M194.73 147.92h2.94v1.38h-2.94z"/>
<path fill="#00ffd0" d="M194.73 146.53h2.94v1.38h-2.94zM200.60 147.92h2.94v1.38h-2.94zM273.99 165.89h2.94v1.38h-2.94z"/>
<path fill="#00ff4b" d="M197.67 147.92h2.94v1.38h-2.94zM265.19 163.12h2.94v1.38h-2.94z"/>
<path fill="#8dff00" d="M200.60 149.30h2.94v1.38h-2.94z"/>
<path fill="#66ff00" d="M203.54 150.68h2.94v1.38h-2.94z"/>
<path fill="#00ff77" d="M206.48 150.68h2.94v1.38h-2.94zM262.25 161.74h2.94v1.38h-2.94z"/>
<path fill="#00ffaf" d="M247.57 158.98h2.94v1.38h-2.94zM256.38 157.59h2.94v1.38h-2.94zM273.99 170.04h2.94v1.38h-2.94z"/>
<path fill="#00ff05" d="M250.51 160.36h2.94v1.38h-2.94z"/>
<path fill="#0eff00" d="M250.51 158.98h2.94v1.38h-2.94z"/>
<path fill="#ff4d00" d="M253.44 160.36h2.94v1.38h-2.94z"/>
<path fill="#93ff00" d="M253.44 158.98h2.94v1.38h-2.94z"/>
<path fill="#ffc000" d="M256.38 160.36h2.94v1.38h-2.94z"/>
<path fill="#4eff00" d="M256.38 158.98h2.94v1.38h-2.94zM265.19 160.36h2.94v1.38h-2.94z"/>
<path fill="#87ff00" d="M259.31 161.74h2.94v1.38h-2.94z"/>
<path fill="#ffff00" d="M259.31 160.36h2.94v1.38h-2.94z"/>
<path fill="#c0ff00" d="M262.25 160.36h2.94v1.38h-2.94z"/>
<path fill="#00ff3e" d="M262.25 158.98h2.94v1.38h-2.94z"/>
<path fill="#00ff51" d="M265.19 161.74h2.94v1.38h-2.94z"/>
<path fill="#60ff00" d="M268.12 163.12h2.94v1.38h-2.94z"/>
</g>
<g id="matplotlib.axis_1">
<g id="xtick_1">
<g id="line2d_1">
<path d="M 55.8000 241.9200 L 55.8000 34.5600" clip-path="url(#pf2c55e1922)" style="fill: none; stroke: #b0b0b0; stroke-width: 0.8; stroke-linecap: square"/>
</g>
<g id="line2d_2">
<defs>
<path id="m626db43bbf" d="M 0 0 
L 0 3.5 
" style="stroke: #000000; stroke-width: 0.8"/>
</defs>
<g>
<use href="#m626db43bbf" x="55.8000" y="242.2800" style="stroke: #000000; stroke-width: 0.8"/>
</g>
</g>
<g id="text_1">
<text style="font-size: 10px; font-family: 'DejaVu Sans', 'Liberation Sans', sans-serif; text-anchor: middle" x="55.296" y="257.2384" transform="rotate(-0 55.296 257.2384)">0.01</text>
</g>
</g>
<g id="xtick_2">
<g id="line2d_3">
<path d="M 133.5600 241.9200 L 133.5600 34.5600" clip-path="url(#pf2c55e1922)" style="fill: none; stroke: #b0b0b0; stroke-width: 0.8; stroke-linecap: square"/>
</g>
<g id="line2d_4">
<g>
<use href="#m626db43bbf" x="133.5600" y="242.2800" style="stroke: #000000; stroke-width: 0.8"/>
</g>
</g>
<g id="text_2">
<text style="font-size: 10px; font-family: 'DejaVu Sans', 'Liberation Sans', sans-serif; text-anchor: middle" x="133.308571" y="257.2384" transform="rotate(-0 133.308571 257.2384)">0.1</text>
</g>
</g>
<g id="xtick_3">
<g id="line2d_5">
<path d="M 212.0400 241.9200 L 212.0400 34.5600" clip-path="url(#pf2c55e1922)" style="fill: none; stroke: #b0b0b0; stroke-width: 0.8; stroke-linecap: square"/>
</g>
<g id="line2d_6">
<g>
<use href="#m626db43bbf" x="212.0400" y="242.2800" style="stroke: #000000; stroke-width: 0.8"/>
</g>
</g>
<g id="text_3">
<text style="font-size: 10px; font-family: 'DejaVu Sans', 'Liberation Sans', sans-serif; text-anchor: middle" x="211.321142" y="257.2384" transform="rotate(-0 211.321142 257.2384)">1</text>
</g>
</g>
<g id="xtick_4">
<g id="line2d_7">
<path d="M 289.8000 241.9200 L 289.8000 34.5600" clip-path="url(#pf2c55e1922)" style="fill: none; stroke: #b0b0b0; stroke-width: 0.8; stroke-linecap: square"/>
</g>
<g id="line2d_8">
<g>
<use href="#m626db43bbf" x="289.8000" y="242.2800" style="stroke: #000000; stroke-width: 0.8"/>
</g>
</g>
<g id="text_4">
<text style="font-size: 10px; font-family: 'DejaVu Sans', 'Liberation Sans', sans-serif; text-anchor: middle" x="289.333714" y="257.2384" transform="rotate(-0 289.333714 257.2384)">10</text>
</g>
</g>
<g id="xtick_5">
<g id="line2d_9">
<path d="M 367.5600 241.9200 L 367.5600 34.5600" clip-path="url(#pf2c55e1922)" style="fill: none; stroke: #b0b0b0; stroke-width: 0.8; stroke-linecap: square"/>
</g>
<g id="line2d_10">
<g>
<use href="#m626db43bbf" x="367.5600" y="242.2800" style="stroke: #000000; stroke-width: 0.8"/>
</g>
</g>
<g id="text_5">
<text style="font-size: 10px; font-family: 'DejaVu Sans', 'Liberation Sans', sans-serif; text-anchor: middle" x="367.346285" y="257.2384" transform="rotate(-0 367.346285 257.2384)">100</text>
</g>
</g>
<g id="xtick_6">
<g id="line2d_11">
<path d="M 78.8400 241.9200 L 78.8400 34.5600" clip-path="url(#pf2c55e1922)" style="fill: none; stroke: #b0b0b0; stroke-width: 0.8; stroke-linecap: square"/>
</g>
<g id="line2d_12">
<defs>
<path id="m12621b13bc" d="M 0 0 
L 0 2 
" style="stroke: #000000; stroke-width: 0.6"/>
</defs>
<g>
<use href="#m12621b13bc" x="78.8400" y="242.2800" style="stroke: #000000; stroke-width: 0.6"/>
</g>
</g>
</g>
<g id="xtick_7">
<g id="line2d_13">
<path d="M 92.5200 241.9200 L 92.5200 34.5600" clip-path="url(#pf2c55e1922)" style="fill: none; stroke: #b0b0b0; stroke-width: 0.8; stroke-linecap: square"/>
</g>
<g id="line2d_14">
<g>
<use href="#m12621b13bc" x="92.5200" y="242.2800" style="stroke: #000000; stroke-width: 0.6"/>
</g>
</g>
</g>
<g id="xtick_8">
<g id="line2d_15">
<path d="M 102.6000 241.9200 L 102.6000 34.5600" clip-path="url(#pf2c55e1922)" style="fill: none; stroke: #b0b0b0; stroke-width: 0.8; stroke-linecap: square"/>
</g>
<g id="line2d_16">
<g>
<use href="#m12621b13bc" x="102.6000" y="242.2800" style="stroke: #000000; stroke-width: 0.6"/>
</g>
</g>
</g>
<g id="xtick_9">
<g id="line2d_17">
<path d="M 110.5200 241.9200 L 110.5200 34.5600" clip-path="url(#pf2c55e1922)" style="fill: none; stroke: #b0b0b0; stroke-width: 0.8; stroke-linecap: square"/>
</g>
<g id="line2d_18">
<g>
<use href="#m12621b13bc" x="110.5200" y="242.2800" style="stroke: #000000; stroke-width: 0.6"/>
</g>
</g>
</g>
<g id="xtick_10">
<g id="line2d_19">
<path d="M 116.2800 241.9200 L 116.2800 34.5600" clip-path="url(#pf2c55e1922)" style="fill: none; stroke: #b0b0b0; stroke-width: 0.8; stroke-linecap: square"/>
</g>
<g id="line2d_20">
<g>
<use href="#m12621b13bc" x="116.2800" y="242.2800" style="stroke: #000000; stroke-width: 0.6"/>
</g>
</g>
</g>
<g id="xtick_11">
<g id="line2d_21">
<path d="M 121.3200 241.9200 L 121.3200 34.5600" clip-path="url(#pf2c55e1922)" style="fill: none; stroke: #b0b0b0; stroke-width: 0.8; stroke-linecap: square"/>
</g>
<g id="line2d_22">
<g>
<use href="#m12621b13bc" x="121.3200" y="242.2800" style="stroke: #000000; stroke-width: 0.6"/>
</g>
</g>
</g>
<g id="xtick_12">
<g id="line2d_23">
<path d="M 126.3600 241.9200 L 126.3600 34.5600" clip-path="url(#pf2c55e1922)" style="fill: none; stroke: #b0b0b0; stroke-width: 0.8; stroke-linecap: square"/>
</g>
<g id="line2d_24">
<g>
<use href="#m12621b13bc" x="126.3600" y="242.2800" style="stroke: #000000; stroke-width: 0.6"/>
</g>
</g>
</g>
<g id="xtick_13">
<g id="line2d_25">
<path d="M 129.9600 241.9200 L 129.9600 34.5600" clip-path="url(#pf2c55e1922)" style="fill: none; stroke: #b0b0b0; stroke-width: 0.8; stroke-linecap: square"/>
</g>
<g id="line2d_26">
<g>
<use href="#m12621b13bc" x="129.9600" y="242.2800" style="stroke: #000000; stroke-width: 0.6"/>
</g>
</g>
</g>
<g id="xtick_14">
<g id="line2d_27">
<path d="M 157.3200 241.9200 L 157.3200 34.5600" clip-path="url(#pf2c55e1922)" style="fill: none; stroke: #b0b0b0; stroke-width: 0.8; stroke-linecap: square"/>
</g>
<g id="line2d_28">
<g>
<use href="#m12621b13bc" x="157.3200" y="242.2800" style="stroke: #000000; stroke-width: 0.6"/>
</g>
</g>
</g>
<g id="xtick_15">
<g id="line2d_29">
<path d="M 171.0000 241.9200 L 171.0000 34.5600" clip-path="url(#pf2c55e1922)" style="fill: none; stroke: #b0b0b0; stroke-width: 0.8; stroke-linecap: square"/>
</g>
<g id="line2d_30">
<g>
<use href="#m12621b13bc" x="171.0000" y="242.2800" style="stroke: #000000; stroke-width: 0.6"/>
</g>
</g>
</g>
<g id="xtick_16">
<g id="line2d_31">
<path d="M 180.3600 241.9200 L 180.3600 34.5600" clip-path="url(#pf2c55e1922)" style="fill: none; stroke: #b0b0b0; stroke-width: 0.8; stroke-linecap: square"/>
</g>
<g id="line2d_32">
<g>
<use href="#m12621b13bc" x="180.3600" y="242.2800" style="stroke: #000000; stroke-width: 0.6"/>
</g>
</g>
</g>
<g id="xtick_17">
<g id="line2d_33">
<path d="M 188.2800 241.9200 L 188.2800 34.5600" clip-path="url(#pf2c55e1922)" style="fill: none; stroke: #b0b0b0; stroke-width: 0.8; stroke-linecap: square"/>
</g>
<g id="line2d_34">
<g>
<use href="#m12621b13bc" x="188.2800" y="242.2800" style="stroke: #000000; stroke-width: 0.6"/>
</g>
</g>
</g>
<g id="xtick_18">
<g id="line2d_35">
<path d="M 194.0400 241.9200 L 194.0400 34.5600" clip-path="url(#pf2c55e1922)" style="fill: none; stroke: #b0b0b0; stroke-width: 0.8; stroke-linecap: square"/>
</g>
<g id="line2d_36">
<g>
<use href="#m12621b13bc" x="194.0400" y="242.2800" style="stroke: #000000; stroke-width: 0.6"/>
</g>
</g>
</g>
<g id="xtick_19">
<g id="line2d_37">
<path d="M 199.8000 241.9200 L 199.8000 34.5600" clip-path="url(#pf2c55e1922)" style="fill: none; stroke: #b0b0b0; stroke-width: 0.8; stroke-linecap: square"/>
</g>
<g id="line2d_38">
<g>
<use href="#m12621b13bc" x="199.8000" y="242.2800" style="stroke: #000000; stroke-width: 0.6"/>
</g>
</g>
</g>
<g id="xtick_20">
<g id="line2d_39">
<path d="M 204.1200 241.9200 L 204.1200 34.5600" clip-path="url(#pf2c55e1922)" style="fill: none; stroke: #b0b0b0; stroke-width: 0.8; stroke-linecap: square"/>
</g>
<g id="line2d_40">
<g>
<use href="#m12621b13bc" x="204.1200" y="242.2800" style="stroke: #000000; stroke-width: 0.6"/>
</g>
</g>
</g>
<g id="xtick_21">
<g id="line2d_41">
<path d="M 208.4400 241.9200 L 208.4400 34.5600" clip-path="url(#pf2c55e1922)" style="fill: none; stroke: #b0b0b0; stroke-width: 0.8; stroke-linecap: square"/>
</g>
<g id="line2d_42">
<g>
<use href="#m12621b13bc" x="208.4400" y="242.2800" style="stroke: #000000; stroke-width: 0.6"/>
</g>
</g>
</g>
<g id="xtick_22">
<g id="line2d_43">
<path d="M 235.0800 241.9200 L 235.0800 34.5600" clip-path="url(#pf2c55e1922)" style="fill: none; stroke: #b0b0b0; stroke-width: 0.8; stroke-linecap: square"/>
</g>
<g id="line2d_44">
<g>
<use href="#m12621b13bc" x="235.0800" y="242.2800" style="stroke: #000000; stroke-width: 0.6"/>
</g>
</g>
</g>
<g id="xtick_23">
<g id="line2d_45">
<path d="M 248.7600 241.9200 L 248.7600 34.5600" clip-path="url(#pf2c55e1922)" style="fill: none; stroke: #b0b0b0; stroke-width: 0.8; stroke-linecap: square"/>
</g>
<g id="line2d_46">
<g>
<use href="#m12621b13bc" x="248.7600" y="242.2800" style="stroke: #000000; stroke-width: 0.6"/>
</g>
</g>
</g>
<g id="xtick_24">
<g id="line2d_47">
<path d="M 258.8400 241.9200 L 258.8400 34.5600" clip-path="url(#pf2c55e1922)" style="fill: none; stroke: #b0b0b0; stroke-width: 0.8; stroke-linecap: square"/>
</g>
<g id="line2d_48">
<g>
<use href="#m12621b13bc" x="258.8400" y="242.2800" style="stroke: #000000; stroke-width: 0.6"/>
</g>
</g>
</g>
<g id="xtick_25">
<g id="line2d_49">
<path d="M 266.0400 241.9200 L 266.0400 34.5600" clip-path="url(#pf2c55e1922)" style="fill: none; stroke: #b0b0b0; stroke-width: 0.8; stroke-linecap: square"/>
</g>
<g id="line2d_50">
<g>
<use href="#m12621b13bc" x="266.0400" y="242.2800" style="stroke: #000000; stroke-width: 0.6"/>
</g>
</g>
</g>
<g id="xtick_26">
<g id="line2d_51">
<path d="M 272.5200 241.9200 L 272.5200 34.5600" clip-path="url(#pf2c55e1922)" style="fill: none; stroke: #b0b0b0; stroke-width: 0.8; stroke-linecap: square"/>
</g>
<g id="line2d_52">
<g>
<use href="#m12621b13bc" x="272.5200" y="242.2800" style="stroke: #000000; stroke-width: 0.6"/>
</g>
</g>
</g>
<g id="xtick_27">
<g id="line2d_53">
<path d="M 277.5600 241.9200 L 277.5600 34.5600" clip-path="url(#pf2c55e1922)" style="fill: none; stroke: #b0b0b0; stroke-width: 0.8; stroke-linecap: square"/>
</g>
<g id="line2d_54">
<g>
<use href="#m12621b13bc" x="277.5600" y="242.2800" style="stroke: #000000; stroke-width: 0.6"/>
</g>
</g>
</g>
<g id="xtick_28">
<g id="line2d_55">
<path d="M 281.8800 241.9200 L 281.8800 34.5600" clip-path="url(#pf2c55e1922)" style="fill: none; stroke: #b0b0b0; stroke-width: 0.8; stroke-linecap: square"/>
</g>
<g id="line2d_56">
<g>
<use href="#m12621b13bc" x="281.8800" y="242.2800" style="stroke: #000000; stroke-width: 0.6"/>
</g>
</g>
</g>
<g id="xtick_29">
<g id="line2d_57">
<path d="M 286.2000 241.9200 L 286.2000 34.5600" clip-path="url(#pf2c55e1922)" style="fill: none; stroke: #b0b0b0; stroke-width: 0.8; stroke-linecap: square"/>
</g>
<g id="line2d_58">
<g>
<use href="#m12621b13bc" x="286.2000" y="242.2800" style="stroke: #000000; stroke-width: 0.6"/>
</g>
</g>
</g>
<g id="xtick_30">
<g id="line2d_59">
<path d="M 312.8400 241.9200 L 312.8400 34.5600" clip-path="url(#pf2c55e1922)" style="fill: none; stroke: #b0b0b0; stroke-width: 0.8; stroke-linecap: square"/>
</g>
<g id="line2d_60">
<g>
<use href="#m12621b13bc" x="312.8400" y="242.2800" style="stroke: #000000; stroke-width: 0.6"/>
</g>
</g>
</g>
<g id="xtick_31">
<g id="line2d_61">
<path d="M 327.2400 241.9200 L 327.2400 34.5600" clip-path="url(#pf2c55e1922)" style="fill: none; stroke: #b0b0b0; stroke-width: 0.8; stroke-linecap: square"/>
</g>
<g id="line2d_62">
<g>
<use href="#m12621b13bc" x="327.2400" y="242.2800" style="stroke: #000000; stroke-width: 0.6"/>
</g>
</g>
</g>
<g id="xtick_32">
<g id="line2d_63">
<path d="M 336.6000 241.9200 L 336.6000 34.5600" clip-path="url(#pf2c55e1922)" style="fill: none; stroke: #b0b0b0; stroke-width: 0.8; stroke-linecap: square"/>
</g>
<g id="line2d_64">
<g>
<use href="#m12621b13bc" x="336.6000" y="242.2800" style="stroke: #000000; stroke-width: 0.6"/>
</g>
</g>
</g>
<g id="xtick_33">
<g id="line2d_65">
<path d="M 344.5200 241.9200 L 344.5200 34.5600" clip-path="url(#pf2c55e1922)" style="fill: none; stroke: #b0b0b0; stroke-width: 0.8; stroke-linecap: square"/>
</g>
<g id="line2d_66">
<g>
<use href="#m12621b13bc" x="344.5200" y="242.2800" style="stroke: #000000; stroke-width: 0.6"/>
</g>
</g>
</g>
<g id="xtick_34">
<g id="line2d_67">
<path d="M 350.2800 241.9200 L 350.2800 34.5600" clip-path="url(#pf2c55e1922)" style="fill: none; stroke: #b0b0b0; stroke-width: 0.8; stroke-linecap: square"/>
</g>
<g id="line2d_68">
<g>
<use href="#m12621b13bc" x="350.2800" y="242.2800" style="stroke: #000000; stroke-width: 0.6"/>
</g>
</g>
</g>
<g id="xtick_35">
<g id="line2d_69">
<path d="M 355.3200 241.9200 L 355.3200 34.5600" clip-path="url(#pf2c55e1922)" style="fill: none; stroke: #b0b0b0; stroke-width: 0.8; stroke-linecap: square"/>
</g>
<g id="line2d_70">
<g>
<use href="#m12621b13bc" x="355.3200" y="242.2800" style="stroke: #000000; stroke-width: 0.6"/>
</g>
</g>
</g>
<g id="xtick_36">
<g id="line2d_71">
<path d="M 360.3600 241.9200 L 360.3600 34.5600" clip-path="url(#pf2c55e1922)" style="fill: none; stroke: #b0b0b0; stroke-width: 0.8; stroke-linecap: square"/>
</g>
<g id="line2d_72">
<g>
<use href="#m12621b13bc" x="360.3600" y="242.2800" style="stroke: #000000; stroke-width: 0.6"/>
</g>
</g>
</g>
<g id="xtick_37">
<g id="line2d_73">
<path d="M 363.9600 241.9200 L 363.9600 34.5600" clip-path="url(#pf2c55e1922)" style="fill: none; stroke: #b0b0b0; stroke-width: 0.8; stroke-linecap: square"/>
</g>
<g id="line2d_74">
<g>
<use href="#m12621b13bc" x="363.9600" y="242.2800" style="stroke: #000000; stroke-width: 0.6"/>
</g>
</g>
</g>
<g id="text_6">
<text style="font-size: 10px; font-family: 'DejaVu Sans', 'Liberation Sans', sans-serif; text-anchor: middle" x="221.184" y="270.9166" transform="rotate(-0 221.184 270.9166)">Period [s]</text>
</g>
</g>
<g id="matplotlib.axis_2">
<g id="ytick_1">
<g id="line2d_75">
<path d="M 55.2960 242.2800 L 387.0720 242.2800" clip-path="url(#pf2c55e1922)" style="fill: none; stroke: #b0b0b0; stroke-width: 0.8; stroke-linecap: square"/>
</g>
<g id="line2d_76">
<defs>
<path id="m09f4e08d49" d="M 0 0 
L -3.5 0 
" style="stroke: #000000; stroke-width: 0.8"/>
</defs>
<g>
<use href="#m09f4e08d49" x="55.8000" y="242.2800" style="stroke: #000000; stroke-width: 0.8"/>
</g>
</g>
<g id="text_7">
<text style="font-size: 10px; font-family: 'DejaVu Sans', 'Liberation Sans', sans-serif; text-anchor: end" x="48.296" y="246.4392" transform="rotate(-0 48.296 246.4392)">−200</text>
</g>
</g>
<g id="ytick_2">
<g id="line2d_77">
<path d="M 55.2960 214.9200 L 387.0720 214.9200" clip-path="url(#pf2c55e1922)" style="fill: none; stroke: #b0b0b0; stroke-width: 0.8; stroke-linecap: square"/>
</g>
<g id="line2d_78">
<g>
<use href="#m09f4e08d49" x="55.8000" y="214.9200" style="stroke: #000000; stroke-width: 0.8"/>
</g>
</g>
<g id="text_8">
<text style="font-size: 10px; font-family: 'DejaVu Sans', 'Liberation Sans', sans-serif; text-anchor: end" x="48.296" y="218.7912" transform="rotate(-0 48.296 218.7912)">−180</text>
</g>
</g>
<g id="ytick_3">
<g id="line2d_79">
<path d="M 55.2960 186.8400 L 387.0720 186.8400" clip-path="url(#pf2c55e1922)" style="fill: none; stroke: #b0b0b0; stroke-width: 0.8; stroke-linecap: square"/>
</g>
<g id="line2d_80">
<g>
<use href="#m09f4e08d49" x="55.8000" y="186.8400" style="stroke: #000000; stroke-width: 0.8"/>
</g>
</g>
<g id="text_9">
<text style="font-size: 10px; font-family: 'DejaVu Sans', 'Liberation Sans', sans-serif; text-anchor: end" x="48.296" y="191.1432" transform="rotate(-0 48.296 191.1432)">−160</text>
</g>
</g>
<g id="ytick_4">
<g id="line2d_81">
<path d="M 55.2960 159.4800 L 387.0720 159.4800" clip-path="url(#pf2c55e1922)" style="fill: none; stroke: #b0b0b0; stroke-width: 0.8; stroke-linecap: square"/>
</g>
<g id="line2d_82">
<g>
<use href="#m09f4e08d49" x="55.8000" y="159.4800" style="stroke: #000000; stroke-width: 0.8"/>
</g>
</g>
<g id="text_10">
<text style="font-size: 10px; font-family: 'DejaVu Sans', 'Liberation Sans', sans-serif; text-anchor: end" x="48.296" y="163.4952" transform="rotate(-0 48.296 163.4952)">−140</text>
</g>
</g>
<g id="ytick_5">
<g id="line2d_83">
<path d="M 55.2960 131.4000 L 387.0720 131.4000" clip-path="url(#pf2c55e1922)" style="fill: none; stroke: #b0b0b0; stroke-width: 0.8; stroke-linecap: square"/>
</g>
<g id="line2d_84">
<g>
<use href="#m09f4e08d49" x="55.8000" y="131.4000" style="stroke: #000000; stroke-width: 0.8"/>
</g>
</g>
<g id="text_11">
<text style="font-size: 10px; font-family: 'DejaVu Sans', 'Liberation Sans', sans-serif; text-anchor: end" x="48.296" y="135.8472" transform="rotate(-0 48.296 135.8472)">−120</text>
</g>
</g>
<g id="ytick_6">
<g id="line2d_85">
<path d="M 55.2960 104.0400 L 387.0720 104.0400" clip-path="url(#pf2c55e1922)" style="fill: none; stroke: #b0b0b0; stroke-width: 0.8; stroke-linecap: square"/>
</g>
<g id="line2d_86">
<g>
<use href="#m09f4e08d49" x="55.8000" y="104.0400" style="stroke: #000000; stroke-width: 0.8"/>
</g>
</g>
<g id="text_12">
<text style="font-size: 10px; font-family: 'DejaVu Sans', 'Liberation Sans', sans-serif; text-anchor: end" x="48.296" y="108.1992" transform="rotate(-0 48.296 108.1992)">−100</text>
</g>
</g>
<g id="ytick_7">
<g id="line2d_87">
<path d="M 55.2960 76.6800 L 387.0720 76.6800" clip-path="url(#pf2c55e1922)" style="fill: none; stroke: #b0b0b0; stroke-width: 0.8; stroke-linecap: square"/>
</g>
<g id="line2d_88">
<g>
<use href="#m09f4e08d49" x="55.8000" y="76.6800" style="stroke: #000000; stroke-width: 0.8"/>
</g>
</g>
<g id="text_13">
<text style="font-size: 10px; font-family: 'DejaVu Sans', 'Liberation Sans', sans-serif; text-anchor: end" x="48.296" y="80.5512" transform="rotate(-0 48.296 80.5512)">−80</text>
</g>
</g>
<g id="ytick_8">
<g id="line2d_89">
<path d="M 55.2960 48.6000 L 387.0720 48.6000" clip-path="url(#pf2c55e1922)" style="fill: none; stroke: #b0b0b0; stroke-width: 0.8; stroke-linecap: square"/>
</g>
<g id="line2d_90">
<g>
<use href="#m09f4e08d49" x="55.8000" y="48.6000" style="stroke: #000000; stroke-width: 0.8"/>
</g>
</g>
<g id="text_14">
<text style="font-size: 10px; font-family: 'DejaVu Sans', 'Liberation Sans', sans-serif; text-anchor: end" x="48.296" y="52.9032" transform="rotate(-0 48.296 52.9032)">−60</text>
</g>
</g>
<g id="text_15">
<!-- Amplitude [$m^2/s^4/Hz$] [dB] -->
<g transform="translate(11.8488 204.5100) rotate(-90)">
<text><tspan x="0" y="-0.976562" style="font-size: 10px; font-family: 'DejaVu Sans', 'Liberation Sans', sans-serif">Amplitude [</tspan><tspan x="58.325195" y="-0.976562" style="font-style: oblique; font-size: 10px; font-family: 'DejaVu Sans', 'Liberation Sans', sans-serif">m</tspan><tspan x="68.530521" y="-4.804688" style="font-size: 7px; font-family: 'DejaVu Sans', 'Liberation Sans', sans-serif">2</tspan><tspan x="73.257572" y="-0.976562" style="font-size: 10px; font-family: 'DejaVu Sans', 'Liberation Sans', sans-serif">/</tspan><tspan x="76.626712" y="-0.976562" style="font-style: oblique; font-size: 10px; font-family: 'DejaVu Sans', 'Liberation Sans', sans-serif">s</tspan><tspan x="82.300788" y="-4.804688" style="font-size: 7px; font-family: 'DejaVu Sans', 'Liberation Sans', sans-serif">4</tspan><tspan x="87.027839" y="-0.976562" style="font-size: 10px; font-family: 'DejaVu Sans', 'Liberation Sans', sans-serif">/</tspan><tspan x="90.271979" y="-0.976562" style="font-style: oblique; font-size: 10px; font-family: 'DejaVu Sans', 'Liberation Sans', sans-serif">Hz</tspan><tspan x="103.040534" y="-0.976562" style="font-size: 10px; font-family: 'DejaVu Sans', 'Liberation Sans', sans-serif">] [dB]</tspan></text>
</g>
</g>
</g>
<g id="patch_3">
<path d="M 55.8000 241.9200 L 55.8000 34.5600" style="fill: none; stroke: #000000; stroke-width: 0.8; stroke-linejoin: miter; stroke-linecap: square"/>
</g>
<g id="patch_4">
<path d="M 387.7200 241.9200 L 387.7200 34.5600" style="fill: none; stroke: #000000; stroke-width: 0.8; stroke-linejoin: miter; stroke-linecap: square"/>
</g>
<g id="patch_5">
<path d="M 55.2960 242.2800 L 387.0720 242.2800" style="fill: none; stroke: #000000; stroke-width: 0.8; stroke-linejoin: miter; stroke-linecap: square"/>
</g>
<g id="patch_6">
<path d="M 55.2960 34.9200 L 387.0720 34.9200" style="fill: none; stroke: #000000; stroke-width: 0.8; stroke-linejoin: miter; stroke-linecap: square"/>
</g>
<g id="text_16">
<text style="font-size: 12px; letter-spacing: 0.039px; font-family: 'DejaVu Sans', 'Liberation Sans', sans-serif; text-anchor: middle" x="221.72" y="28.9200" transform="rotate(-0 221.72 28.9200)">KO.HRTX..HHN   2024-06-01 -- 2024-06-14  (671/671 segments)</text>
</g>
<g id="line2d_91">
<path d="M 133.308571 91.9296 
L 160.021845 100.08576 
L 172.71662 118.1952 
L 203.760943 131.328 
L 256.551552 100.9152 
L 263.024585 98.8416 
L 273.679754 105.0624 
L 281.34734 122.3424 
L 303.962687 131.328 
L 312.817838 156.9024 
L 410.251921 139.6224 
" clip-path="url(#pf2c55e1922)" style="fill: none; stroke: #666666; stroke-width: 2; stroke-linecap: square"/>
</g>
<g id="line2d_92">
<path d="M 133.308571 197.6832 
L 151.286484 195.88608 
L 180.276819 195.88608 
L 203.760943 199.34208 
L 218.609208 191.73888 
L 240.982399 170.86464 
L 260.739645 160.49664 
L 265.84959 160.49664 
L 272.026722 171.4176 
L 289.333714 191.87712 
L 295.510846 195.19488 
L 304.39986 189.52704 
L 315.892634 210.816 
L 328.315588 221.184 
L 340.292501 224.64 
L 355.261985 224.64 
L 367.683406 221.184 
L 381.975259 221.184 
L 407.59093 224.64 
" clip-path="url(#pf2c55e1922)" style="fill: none; stroke: #666666; stroke-width: 2; stroke-linecap: square"/>
</g>
</g>
<g id="axes_2" shape-rendering="crispEdges">
<g id="patch_7">
<path d="M 69.12 286.848 
L 391.68 286.848 
L 391.68 273.024 
L 69.12 273.024 
z
" style="fill: #ffffff"/>
</g>
<g id="patch_8">
<path d="M 83.781818 278.5536 
L 377.018182 278.5536 
L 377.018182 273.024 
L 83.781818 273.024 
z
" clip-path="url(#pf03ebe92ce)" style="fill: #008000"/>
</g>
<g id="patch_9">
<path d="M 83.781818 286.848 
L 377.018182 286.848 
L 377.018182 278.5536 
L 83.781818 278.5536 
z
" clip-path="url(#pf03ebe92ce)" style="fill: #0000ff"/>
</g>
<g id="patch_10">
<path d="M 213.140945 278.5536 
L 213.832145 278.5536 
L 213.832145 273.024 
L 213.140945 273.024 
z
" clip-path="url(#pf03ebe92ce)" style="fill: #ff0000"/>
</g>
<g id="patch_11">
<path d="M 241.207855 278.5536 
L 242.632145 278.5536 
L 242.632145 273.024 
L 241.207855 273.024 
z
" clip-path="url(#pf03ebe92ce)" style="fill: #ff0000"/>
</g>
<g id="matplotlib.axis_3">
<g id="xtick_38">
<g id="line2d_93">
<g>
<use href="#m626db43bbf" x="83.8800" y="286.9200" style="stroke: #000000; stroke-width: 0.8"/>
</g>
</g>
<g id="text_17">
<text style="font-size: 10px; font-family: 'DejaVu Sans', 'Liberation Sans', sans-serif" transform="translate(32.4124 330.2063) rotate(-30)">2024-06-01</text>
</g>
</g>
<g id="xtick_39">
<g id="line2d_94">
<g>
<use href="#m626db43bbf" x="126.3600" y="286.9200" style="stroke: #000000; stroke-width: 0.8"/>
</g>
</g>
<g id="text_18">
<text style="font-size: 10px; font-family: 'DejaVu Sans', 'Liberation Sans', sans-serif" transform="translate(74.3033 330.2063) rotate(-30)">2024-06-03</text>
</g>
</g>
<g id="xtick_40">
<g id="line2d_95">
<g>
<use href="#m626db43bbf" x="168.1200" y="286.9200" style="stroke: #000000; stroke-width: 0.8"/>
</g>
</g>
<g id="text_19">
<text style="font-size: 10px; font-family: 'DejaVu Sans', 'Liberation Sans', sans-serif" transform="translate(116.1942 330.2063) rotate(-30)">2024-06-05</text>
</g>
</g>
<g id="xtick_41">
<g id="line2d_96">
<g>
<use href="#m626db43bbf" x="209.8800" y="286.9200" style="stroke: #000000; stroke-width: 0.8"/>
</g>
</g>
<g id="text_20">
<text style="font-size: 10px; font-family: 'DejaVu Sans', 'Liberation Sans', sans-serif" transform="translate(158.0851 330.2063) rotate(-30)">2024-06-07</text>
</g>
</g>
<g id="xtick_42">
<g id="line2d_97">
<g>
<use href="#m626db43bbf" x="251.6400" y="286.9200" style="stroke: #000000; stroke-width: 0.8"/>
</g>
</g>
<g id="text_21">
<text style="font-size: 10px; font-family: 'DejaVu Sans', 'Liberation Sans', sans-serif" transform="translate(199.9760 330.2063) rotate(-30)">2024-06-09</text>
</g>
</g>
<g id="xtick_43">
<g id="line2d_98">
<g>
<use href="#m626db43bbf" x="293.4000" y="286.9200" style="stroke: #000000; stroke-width: 0.8"/>
</g>
</g>
<g id="text_22">
<text style="font-size: 10px; font-family: 'DejaVu Sans', 'Liberation Sans', sans-serif" transform="translate(241.8669 330.2063) rotate(-30)">2024-06-11</text>
</g>
</g>
<g id="xtick_44">
<g id="line2d_99">
<g>
<use href="#m626db43bbf" x="335.1600" y="286.9200" style="stroke: #000000; stroke-width: 0.8"/>
</g>
</g>
<g id="text_23">
<text style="font-size: 10px; font-family: 'DejaVu Sans', 'Liberation Sans', sans-serif" transform="translate(283.7578 330.2063) rotate(-30)">2024-06-13</text>
</g>
</g>
<g id="xtick_45">
<g id="line2d_100">
<g>
<use href="#m626db43bbf" x="377.6400" y="286.9200" style="stroke: #000000; stroke-width: 0.8"/>
</g>
</g>
<g id="text_24">
<text style="font-size: 10px; font-family: 'DejaVu Sans', 'Liberation Sans', sans-serif" transform="translate(325.6487 330.2063) rotate(-30)">2024-06-15</text>
</g>
</g>
</g>
<g id="matplotlib.axis_4"/>
<g id="patch_12">
<path d="M 69.4800 286.8480 L 69.4800 273.0240" style="fill: none; stroke: #000000; stroke-width: 0.8; stroke-linejoin: miter; stroke-linecap: square"/>
</g>
<g id="patch_13">
<path d="M 392.0400 286.8480 L 392.0400 273.0240" style="fill: none; stroke: #000000; stroke-width: 0.8; stroke-linejoin: miter; stroke-linecap: square"/>
</g>
<g id="patch_14">
<path d="M 69.1200 286.9200 L 391.6800 286.9200" style="fill: none; stroke: #000000; stroke-width: 0.8; stroke-linejoin: miter; stroke-linecap: square"/>
</g>
<g id="patch_15">
<path d="M 69.1200 273.2400 L 391.6800 273.2400" style="fill: none; stroke: #000000; stroke-width: 0.8; stroke-linejoin: miter; stroke-linecap: square"/>
</g>
</g>
<g id="axes_3">
<g id="patch_16">
<path d="M 407.808 241.92 
L 418.176 241.92 
L 418.176 34.56 
L 407.808 34.56 
z
" style="fill: #ffffff"/>
</g>
<defs><linearGradient id="cbg" x1="0" y1="1" x2="0" y2="0"><stop offset="0.0000" stop-color="#ffffff"/><stop offset="0.0167" stop-color="#ffaaff"/><stop offset="0.0333" stop-color="#ff55ff"/><stop offset="0.0500" stop-color="#ff01ff"/><stop offset="0.0667" stop-color="#e300ff"/><stop offset="0.0833" stop-color="#c700ff"/><stop offset="0.1000" stop-color="#aa00ff"/><stop offset="0.1167" stop-color="#8e00ff"/><stop offset="0.1333" stop-color="#7200ff"/><stop offset="0.1500" stop-color="#5600ff"/><stop offset="0.1667" stop-color="#3900ff"/><stop offset="0.1833" stop-color="#1d00ff"/><stop offset="0.2000" stop-color="#0100ff"/><stop offset="0.2167" stop-color="#0014ff"/><stop offset="0.2333" stop-color="#002aff"/><stop offset="0.2500" stop-color="#0040ff"/><stop offset="0.2667" stop-color="#0055ff"/><stop offset="0.2833" stop-color="#006aff"/><stop offset="0.3000" stop-color="#0080ff"/><stop offset="0.3167" stop-color="#0095ff"/><stop offset="0.3333" stop-color="#00aaff"/><stop offset="0.3500" stop-color="#00bfff"/><stop offset="0.3667" stop-color="#00d4ff"/><stop offset="0.3833" stop-color="#00eaff"/><stop offset="0.4000" stop-color="#00ffff"/><stop offset="0.4167" stop-color="#00ffea"/><stop offset="0.4333" stop-color="#00ffd5"/><stop offset="0.4500" stop-color="#00ffc0"/><stop offset="0.4667" stop-color="#00ffaa"/><stop offset="0.4833" stop-color="#00ff95"/><stop offset="0.5000" stop-color="#00ff7f"/><stop offset="0.5167" stop-color="#00ff6a"/><stop offset="0.5333" stop-color="#00ff55"/><stop offset="0.5500" stop-color="#00ff3f"/><stop offset="0.5667" stop-color="#00ff2a"/><stop offset="0.5833" stop-color="#00ff15"/><stop offset="0.6000" stop-color="#00ff00"/><stop offset="0.6167" stop-color="#15ff00"/><stop offset="0.6333" stop-color="#2bff00"/><stop offset="0.6500" stop-color="#40ff00"/><stop offset="0.6667" stop-color="#55ff00"/><stop offset="0.6833" stop-color="#6aff00"/><stop offset="0.7000" stop-color="#7fff00"/><stop offset="0.7167" stop-color="#95ff00"/><stop offset="0.7333" stop-color="#aaff00"/><stop offset="0.7500" stop-color="#c0ff00"/><stop offset="0.7667" stop-color="#d5ff00"/><stop offset="0.7833" stop-color="#ebff00"/><stop offset="0.8000" stop-color="#fffe00"/><stop offset="0.8167" stop-color="#ffe900"/><stop offset="0.8333" stop-color="#ffd400"/><stop offset="0.8500" stop-color="#ffbf00"/><stop offset="0.8667" stop-color="#ffaa00"/><stop offset="0.8833" stop-color="#ff9400"/><stop offset="0.9000" stop-color="#ff7f00"/><stop offset="0.9167" stop-color="#ff6a00"/><stop offset="0.9333" stop-color="#ff5500"/><stop offset="0.9500" stop-color="#ff4000"/><stop offset="0.9667" stop-color="#ff2a00"/><stop offset="0.9833" stop-color="#ff1500"/><stop offset="1.0000" stop-color="#ff0000"/></linearGradient></defs><rect x="407.808" y="34.56" width="10.368" height="207.36" fill="url(#cbg)"/>
<g id="matplotlib.axis_5"/>
<g id="matplotlib.axis_6">
<g id="ytick_9">
<g id="line2d_101">
<defs>
<path id="m7aea916ee4" d="M 0 0 
L 3.5 0 
" style="stroke: #000000; stroke-width: 0.8"/>
</defs>
<g>
<use href="#m7aea916ee4" x="418.6800" y="242.2800" style="stroke: #000000; stroke-width: 0.8"/>
</g>
</g>
<g id="text_25">
<text style="font-size: 10px; font-family: 'DejaVu Sans', 'Liberation Sans', sans-serif; text-anchor: start" x="425.176" y="246.4392" transform="rotate(-0 425.176 246.4392)">0</text>
</g>
</g>
<g id="ytick_10">
<g id="line2d_102">
<g>
<use href="#m7aea916ee4" x="418.6800" y="207.7200" style="stroke: #000000; stroke-width: 0.8"/>
</g>
</g>
<g id="text_26">
<text style="font-size: 10px; font-family: 'DejaVu Sans', 'Liberation Sans', sans-serif; text-anchor: start" x="425.176" y="211.8792" transform="rotate(-0 425.176 211.8792)">5</text>
</g>
</g>
<g id="ytick_11">
<g id="line2d_103">
<g>
<use href="#m7aea916ee4" x="418.6800" y="173.1600" style="stroke: #000000; stroke-width: 0.8"/>
</g>
</g>
<g id="text_27">
<text style="font-size: 10px; font-family: 'DejaVu Sans', 'Liberation Sans', sans-serif; text-anchor: start" x="425.176" y="177.3192" transform="rotate(-0 425.176 177.3192)">10</text>
</g>
</g>
<g id="ytick_12">
<g id="line2d_104">
<g>
<use href="#m7aea916ee4" x="418.6800" y="138.6000" style="stroke: #000000; stroke-width: 0.8"/>
</g>
</g>
<g id="text_28">
<text style="font-size: 10px; font-family: 'DejaVu Sans', 'Liberation Sans', sans-serif; text-anchor: start" x="425.176" y="142.7592" transform="rotate(-0 425.176 142.7592)">15</text>
</g>
</g>
<g id="ytick_13">
<g id="line2d_105">
<g>
<use href="#m7aea916ee4" x="418.6800" y="104.0400" style="stroke: #000000; stroke-width: 0.8"/>
</g>
</g>
<g id="text_29">
<text style="font-size: 10px; font-family: 'DejaVu Sans', 'Liberation Sans', sans-serif; text-anchor: start" x="425.176" y="108.1992" transform="rotate(-0 425.176 108.1992)">20</text>
</g>
</g>
<g id="ytick_14">
<g id="line2d_106">
<g>
<use href="#m7aea916ee4" x="418.6800" y="69.4800" style="stroke: #000000; stroke-width: 0.8"/>
</g>
</g>
<g id="text_30">
<text style="font-size: 10px; font-family: 'DejaVu Sans', 'Liberation Sans', sans-serif; text-anchor: start" x="425.176" y="73.6392" transform="rotate(-0 425.176 73.6392)">25</text>
</g>
</g>
<g id="ytick_15">
<g id="line2d_107">
<g>
<use href="#m7aea916ee4" x="418.6800" y="34.9200" style="stroke: #000000; stroke-width: 0.8"/>
</g>
</g>
<g id="text_31">
<text style="font-size: 10px; font-family: 'DejaVu Sans', 'Liberation Sans', sans-serif; text-anchor: start" x="425.176" y="39.0792" transform="rotate(-0 425.176 39.0792)">30</text>
</g>
</g>
<g id="text_32">
<text style="font-size: 10px; font-family: 'DejaVu Sans', 'Liberation Sans', sans-serif; text-anchor: middle" x="449.499437" y="138.24" transform="rotate(-90 449.499437 138.24)">[%]</text>
</g>
</g>
<g id="LineCollection_1"/>
<g id="patch_17">
<path d="M 407.8800 242.2800 L 418.6800 242.2800 L 418.6800 34.9200 L 407.8800 34.9200 z" style="fill: none; stroke: #000000; stroke-width: 0.8; stroke-linejoin: miter; stroke-linecap: square"/>
</g>
</g>
</g>
<defs>
<clipPath id="pf2c55e1922">
<rect x="55.296" y="34.56" width="331.776" height="207.36"/>
</clipPath>
<clipPath id="pf03ebe92ce">
<rect x="69.12" y="273.024" width="322.56" height="13.824"/>
</clipPath>
</defs>
</svg>

</body></html>
